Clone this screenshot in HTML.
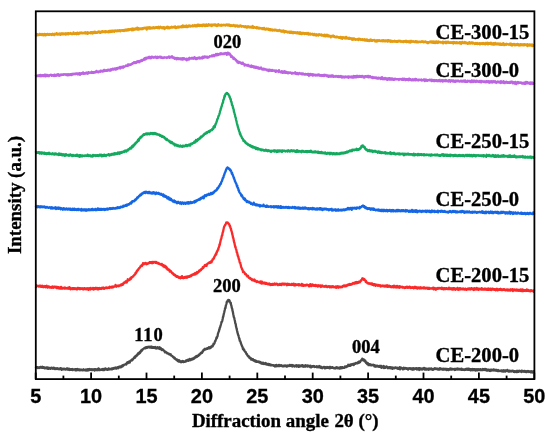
<!DOCTYPE html>
<html><head><meta charset="utf-8"><style>
html,body{margin:0;padding:0;background:#fff;}
body{width:550px;height:437px;overflow:hidden;}
svg{display:block;will-change:transform;}
text{-webkit-font-smoothing:antialiased;}
</style></head><body>
<svg width="550" height="437" viewBox="0 0 550 437">
<rect x="0" y="0" width="550" height="437" fill="#fff"/>
<g fill="none" stroke-width="2.3" stroke-linejoin="round" stroke-linecap="round">
<path d="M36.00,367.51 36.25,367.64 36.50,367.41 36.75,367.18 37.00,367.36 37.25,367.15 37.50,367.59 37.75,368.11 38.00,367.38 38.25,367.34 38.50,367.80 38.75,367.76 39.00,367.67 39.25,367.26 39.50,367.63 39.75,367.94 40.00,367.13 40.25,367.50 40.50,366.93 40.75,367.19 41.00,366.98 41.25,367.63 41.50,367.23 41.75,367.86 42.00,367.82 42.25,367.70 42.50,366.78 42.75,367.58 43.00,367.79 43.25,367.86 43.50,367.22 43.75,367.65 44.00,367.46 44.25,367.54 44.50,368.30 44.75,367.57 45.00,367.89 45.25,368.27 45.50,367.70 45.75,367.90 46.00,368.00 46.25,367.99 46.50,367.49 46.75,368.02 47.00,368.55 47.25,367.40 47.50,368.38 47.75,368.09 48.00,367.80 48.25,368.87 48.50,368.39 48.75,367.62 49.00,368.14 49.25,368.36 49.50,368.06 49.75,368.43 50.00,368.14 50.25,368.45 50.50,368.77 50.75,367.94 51.00,368.30 51.25,368.05 51.50,368.30 51.75,367.79 52.00,368.05 52.25,368.21 52.50,368.67 52.75,368.78 53.00,367.81 53.25,368.03 53.50,368.63 53.75,367.59 54.00,368.21 54.25,368.38 54.50,368.93 54.75,368.72 55.00,368.33 55.25,368.34 55.50,368.40 55.75,369.13 56.00,368.36 56.25,368.43 56.50,368.71 56.75,368.54 57.00,368.53 57.25,368.18 57.50,368.64 57.75,368.49 58.00,369.15 58.25,368.96 58.50,368.71 58.75,369.01 59.00,368.62 59.25,369.20 59.50,368.80 59.75,369.05 60.00,368.32 60.25,369.00 60.50,368.20 60.75,368.08 61.00,368.79 61.25,368.57 61.50,369.02 61.75,369.87 62.00,368.66 62.25,368.76 62.50,369.11 62.75,369.24 63.00,368.99 63.25,369.00 63.50,369.38 63.75,369.32 64.00,368.72 64.25,369.12 64.50,369.18 64.75,368.76 65.00,369.30 65.25,368.87 65.50,369.62 65.75,369.32 66.00,369.30 66.25,369.04 66.50,369.24 66.75,368.50 67.00,368.86 67.25,369.48 67.50,368.49 67.75,369.69 68.00,368.67 68.25,369.68 68.50,369.05 68.75,369.71 69.00,369.46 69.25,368.81 69.50,369.93 69.75,370.02 70.00,369.43 70.25,369.36 70.50,369.41 70.75,369.10 71.00,369.94 71.25,369.29 71.50,369.50 71.75,369.21 72.00,369.29 72.25,369.04 72.50,370.06 72.75,369.51 73.00,369.97 73.25,369.60 73.50,369.33 73.75,369.48 74.00,369.40 74.25,369.64 74.50,369.49 74.75,369.53 75.00,369.11 75.25,369.35 75.50,370.35 75.75,369.43 76.00,369.28 76.25,369.85 76.50,370.28 76.75,369.15 77.00,369.66 77.25,369.49 77.50,369.05 77.75,370.06 78.00,369.76 78.25,369.81 78.50,369.49 78.75,369.98 79.00,369.59 79.25,369.75 79.50,369.37 79.75,369.34 80.00,370.36 80.25,369.63 80.50,369.96 80.75,369.83 81.00,369.68 81.25,369.66 81.50,370.12 81.75,369.75 82.00,369.81 82.25,369.88 82.50,370.35 82.75,370.16 83.00,370.04 83.25,369.66 83.50,369.34 83.75,370.27 84.00,370.28 84.25,369.84 84.50,370.11 84.75,370.21 85.00,370.23 85.25,370.27 85.50,369.72 85.75,370.50 86.00,369.40 86.25,370.24 86.50,370.09 86.75,370.25 87.00,370.65 87.25,370.49 87.50,369.43 87.75,369.21 88.00,370.21 88.25,369.48 88.50,369.88 88.75,370.22 89.00,369.22 89.25,369.03 89.50,369.98 89.75,369.89 90.00,369.77 90.25,369.88 90.50,369.52 90.75,369.25 91.00,369.79 91.25,369.46 91.50,369.19 91.75,370.04 92.00,369.81 92.25,370.00 92.50,369.43 92.75,369.56 93.00,369.42 93.25,369.46 93.50,369.89 93.75,369.49 94.00,369.94 94.25,369.93 94.50,370.60 94.75,369.23 95.00,370.13 95.25,369.74 95.50,369.76 95.75,369.18 96.00,369.57 96.25,370.05 96.50,369.71 96.75,369.77 97.00,369.61 97.25,370.19 97.50,369.71 97.75,368.83 98.00,369.43 98.25,368.91 98.50,368.39 98.75,369.47 99.00,370.21 99.25,369.69 99.50,369.19 99.75,369.28 100.00,370.10 100.25,369.70 100.50,369.65 100.75,369.60 101.00,369.63 101.25,369.93 101.50,369.82 101.75,369.68 102.00,369.16 102.25,369.77 102.50,369.29 102.75,369.99 103.00,369.03 103.25,369.47 103.50,369.51 103.75,368.97 104.00,370.17 104.25,370.05 104.50,369.26 104.75,369.74 105.00,369.57 105.25,368.35 105.50,369.48 105.75,369.33 106.00,369.37 106.25,368.88 106.50,369.19 106.75,369.20 107.00,369.72 107.25,369.36 107.50,369.20 107.75,369.79 108.00,368.93 108.25,368.97 108.50,368.37 108.75,369.70 109.00,369.43 109.25,369.38 109.50,369.26 109.75,369.00 110.00,369.02 110.25,368.80 110.50,368.79 110.75,368.86 111.00,369.41 111.25,369.00 111.50,368.72 111.75,368.48 112.00,368.42 112.25,369.28 112.50,368.81 112.75,368.60 113.00,368.40 113.25,368.06 113.50,368.44 113.75,368.78 114.00,368.23 114.25,368.26 114.50,368.22 114.75,368.31 115.00,367.59 115.25,368.09 115.50,367.79 115.75,368.44 116.00,367.72 116.25,368.21 116.50,368.53 116.75,367.73 117.00,367.55 117.25,367.81 117.50,367.66 117.75,367.20 118.00,367.71 118.25,368.26 118.50,367.27 118.75,367.22 119.00,366.80 119.25,367.27 119.50,366.56 119.75,366.53 120.00,367.40 120.25,366.43 120.50,367.13 120.75,367.21 121.00,366.60 121.25,366.62 121.50,367.06 121.75,366.09 122.00,365.81 122.25,365.39 122.50,365.82 122.75,366.27 123.00,365.93 123.25,365.04 123.50,364.94 123.75,364.94 124.00,365.13 124.25,364.79 124.50,364.82 124.75,364.71 125.00,364.34 125.25,364.30 125.50,364.26 125.75,364.01 126.00,364.10 126.25,364.51 126.50,363.86 126.75,363.51 127.00,362.67 127.25,363.36 127.50,362.29 127.75,362.36 128.00,363.12 128.25,362.92 128.50,362.43 128.75,361.65 129.00,362.03 129.25,361.75 129.50,362.12 129.75,362.60 130.00,361.62 130.25,361.04 130.50,360.71 130.75,360.97 131.00,360.73 131.25,360.15 131.50,360.45 131.75,359.74 132.00,360.43 132.25,360.19 132.50,359.98 132.75,359.13 133.00,359.30 133.25,358.81 133.50,358.47 133.75,358.25 134.00,357.63 134.25,357.33 134.50,357.99 134.75,357.35 135.00,357.28 135.25,357.35 135.50,356.00 135.75,356.13 136.00,356.27 136.25,356.10 136.50,355.53 136.75,355.83 137.00,355.24 137.25,354.41 137.50,354.26 137.75,354.70 138.00,354.30 138.25,353.10 138.50,354.14 138.75,353.58 139.00,353.63 139.25,352.69 139.50,352.48 139.75,351.90 140.00,353.12 140.25,351.79 140.50,352.25 140.75,351.11 141.00,351.18 141.25,350.20 141.50,350.47 141.75,350.78 142.00,349.65 142.25,350.36 142.50,349.85 142.75,349.09 143.00,349.11 143.25,348.94 143.50,348.93 143.75,348.58 144.00,348.32 144.25,348.39 144.50,347.97 144.75,347.75 145.00,348.13 145.25,348.39 145.50,347.32 145.75,347.83 146.00,347.47 146.25,347.25 146.50,347.89 146.75,347.26 147.00,348.00 147.25,347.02 147.50,347.43 147.75,347.14 148.00,346.89 148.25,347.40 148.50,347.08 148.75,347.38 149.00,347.11 149.25,346.71 149.50,347.11 149.75,347.19 150.00,347.58 150.25,346.86 150.50,347.24 150.75,346.59 151.00,347.58 151.25,346.92 151.50,346.66 151.75,347.40 152.00,347.90 152.25,346.87 152.50,347.08 152.75,347.24 153.00,347.11 153.25,347.74 153.50,347.28 153.75,347.33 154.00,347.86 154.25,347.34 154.50,347.83 154.75,347.27 155.00,347.19 155.25,346.95 155.50,348.43 155.75,347.57 156.00,347.81 156.25,347.71 156.50,347.79 156.75,347.76 157.00,348.52 157.25,347.36 157.50,347.17 157.75,347.42 158.00,347.33 158.25,348.21 158.50,348.29 158.75,347.65 159.00,347.55 159.25,348.05 159.50,348.85 159.75,347.27 160.00,348.72 160.25,348.20 160.50,349.18 160.75,348.46 161.00,348.91 161.25,348.56 161.50,348.91 161.75,349.99 162.00,349.91 162.25,349.57 162.50,349.53 162.75,349.27 163.00,350.02 163.25,350.33 163.50,350.48 163.75,350.65 164.00,350.42 164.25,351.02 164.50,351.22 164.75,351.94 165.00,352.36 165.25,351.75 165.50,351.68 165.75,352.15 166.00,352.11 166.25,352.24 166.50,352.69 166.75,352.46 167.00,353.28 167.25,353.16 167.50,353.45 167.75,353.43 168.00,353.36 168.25,353.42 168.50,353.84 168.75,353.86 169.00,354.31 169.25,354.35 169.50,353.95 169.75,354.66 170.00,354.24 170.25,354.68 170.50,354.96 170.75,354.40 171.00,355.43 171.25,355.62 171.50,355.67 171.75,355.74 172.00,355.95 172.25,355.90 172.50,356.39 172.75,356.48 173.00,356.95 173.25,356.65 173.50,357.45 173.75,357.63 174.00,357.74 174.25,357.83 174.50,358.45 174.75,357.77 175.00,358.82 175.25,358.93 175.50,359.14 175.75,359.36 176.00,359.12 176.25,359.46 176.50,359.99 176.75,360.08 177.00,360.16 177.25,359.63 177.50,360.62 177.75,361.03 178.00,361.11 178.25,360.94 178.50,360.36 178.75,361.47 179.00,361.14 179.25,360.27 179.50,361.51 179.75,360.81 180.00,360.93 180.25,361.23 180.50,362.02 180.75,361.38 181.00,361.65 181.25,362.25 181.50,362.19 181.75,361.52 182.00,361.47 182.25,361.07 182.50,361.30 182.75,361.76 183.00,361.75 183.25,361.63 183.50,361.99 183.75,361.27 184.00,361.55 184.25,361.85 184.50,361.76 184.75,361.92 185.00,361.61 185.25,361.27 185.50,361.48 185.75,360.86 186.00,360.53 186.25,361.34 186.50,361.00 186.75,361.06 187.00,360.17 187.25,360.62 187.50,360.44 187.75,360.24 188.00,359.60 188.25,360.28 188.50,360.69 188.75,360.40 189.00,359.92 189.25,360.07 189.50,360.29 189.75,358.79 190.00,359.75 190.25,359.92 190.50,359.88 190.75,360.19 191.00,359.86 191.25,359.43 191.50,359.33 191.75,359.41 192.00,358.78 192.25,358.87 192.50,359.14 192.75,359.44 193.00,358.48 193.25,358.41 193.50,358.39 193.75,358.73 194.00,358.06 194.25,358.53 194.50,357.43 194.75,357.61 195.00,357.47 195.25,357.73 195.50,357.69 195.75,356.53 196.00,356.62 196.25,356.98 196.50,356.43 196.75,355.93 197.00,356.80 197.25,356.42 197.50,356.25 197.75,355.70 198.00,356.13 198.25,355.44 198.50,355.80 198.75,354.81 199.00,354.64 199.25,354.87 199.50,354.30 199.75,354.64 200.00,354.25 200.25,353.54 200.50,353.69 200.75,353.25 201.00,353.48 201.25,352.58 201.50,352.36 201.75,352.72 202.00,352.84 202.25,352.44 202.50,351.38 202.75,351.16 203.00,351.43 203.25,350.52 203.50,349.95 203.75,350.18 204.00,350.13 204.25,349.45 204.50,348.98 204.75,348.93 205.00,349.65 205.25,348.97 205.50,349.11 205.75,349.16 206.00,349.22 206.25,348.75 206.50,349.00 206.75,348.35 207.00,348.47 207.25,348.11 207.50,348.88 207.75,348.32 208.00,347.93 208.25,347.98 208.50,347.93 208.75,348.18 209.00,347.15 209.25,347.26 209.50,347.40 209.75,348.45 210.00,347.69 210.25,347.13 210.50,347.33 210.75,347.73 211.00,346.66 211.25,346.46 211.50,346.93 211.75,346.47 212.00,346.36 212.25,345.70 212.50,346.46 212.75,346.14 213.00,345.41 213.25,345.17 213.50,343.75 213.75,344.44 214.00,343.70 214.25,343.50 214.50,343.12 214.75,342.20 215.00,341.14 215.25,341.42 215.50,340.41 215.75,340.00 216.00,339.31 216.25,338.80 216.50,337.39 216.75,338.16 217.00,337.11 217.25,336.77 217.50,336.40 217.75,334.89 218.00,333.40 218.25,332.99 218.50,332.08 218.75,331.55 219.00,330.97 219.25,329.32 219.50,329.43 219.75,327.86 220.00,327.75 220.25,326.75 220.50,325.83 220.75,325.09 221.00,324.07 221.25,323.21 221.50,321.94 221.75,321.76 222.00,321.65 222.25,320.82 222.50,319.65 222.75,318.47 223.00,316.96 223.25,316.82 223.50,315.22 223.75,314.19 224.00,313.07 224.25,312.19 224.50,310.94 224.75,310.05 225.00,308.62 225.25,307.87 225.50,307.92 225.75,305.98 226.00,304.95 226.25,304.34 226.50,303.56 226.75,302.05 227.00,301.73 227.25,301.60 227.50,300.88 227.75,300.50 228.00,300.90 228.25,299.97 228.50,300.36 228.75,300.27 229.00,301.27 229.25,300.10 229.50,300.81 229.75,301.09 230.00,301.87 230.25,302.26 230.50,303.16 230.75,302.73 231.00,304.58 231.25,305.19 231.50,306.15 231.75,307.76 232.00,308.31 232.25,308.96 232.50,310.74 232.75,311.37 233.00,312.77 233.25,314.24 233.50,315.29 233.75,316.88 234.00,317.27 234.25,317.85 234.50,319.29 234.75,320.36 235.00,321.37 235.25,323.14 235.50,323.79 235.75,324.32 236.00,326.44 236.25,327.15 236.50,328.36 236.75,329.28 237.00,330.50 237.25,331.27 237.50,332.74 237.75,333.39 238.00,334.33 238.25,335.26 238.50,335.40 238.75,336.79 239.00,337.59 239.25,338.60 239.50,338.77 239.75,340.74 240.00,340.89 240.25,341.11 240.50,341.63 240.75,342.90 241.00,343.66 241.25,344.06 241.50,345.01 241.75,345.31 242.00,346.35 242.25,346.39 242.50,347.18 242.75,348.08 243.00,349.20 243.25,348.24 243.50,348.91 243.75,349.20 244.00,350.29 244.25,349.95 244.50,350.65 244.75,351.26 245.00,351.30 245.25,351.73 245.50,352.34 245.75,352.09 246.00,352.75 246.25,353.54 246.50,354.13 246.75,354.34 247.00,354.04 247.25,354.87 247.50,355.67 247.75,355.85 248.00,355.87 248.25,355.80 248.50,356.66 248.75,356.42 249.00,356.41 249.25,356.79 249.50,357.91 249.75,357.64 250.00,358.22 250.25,357.77 250.50,358.53 250.75,358.11 251.00,358.47 251.25,359.70 251.50,359.19 251.75,358.84 252.00,359.17 252.25,359.49 252.50,359.99 252.75,359.45 253.00,359.08 253.25,359.79 253.50,360.04 253.75,360.19 254.00,360.79 254.25,360.51 254.50,360.81 254.75,360.15 255.00,361.04 255.25,361.64 255.50,361.20 255.75,361.09 256.00,361.14 256.25,361.89 256.50,360.89 256.75,361.30 257.00,361.61 257.25,361.81 257.50,361.42 257.75,361.80 258.00,361.64 258.25,361.88 258.50,361.85 258.75,361.53 259.00,362.05 259.25,362.48 259.50,361.82 259.75,362.18 260.00,362.62 260.25,362.00 260.50,362.57 260.75,362.15 261.00,363.10 261.25,363.64 261.50,363.59 261.75,362.77 262.00,363.22 262.25,363.04 262.50,363.10 262.75,363.75 263.00,362.66 263.25,363.68 263.50,363.30 263.75,363.95 264.00,363.52 264.25,363.24 264.50,363.68 264.75,363.93 265.00,363.71 265.25,363.95 265.50,363.60 265.75,363.02 266.00,364.29 266.25,364.26 266.50,364.10 266.75,364.12 267.00,364.56 267.25,364.02 267.50,363.97 267.75,364.24 268.00,364.84 268.25,363.87 268.50,364.95 268.75,364.27 269.00,364.15 269.25,365.15 269.50,364.66 269.75,364.23 270.00,364.67 270.25,365.24 270.50,365.40 270.75,364.80 271.00,365.19 271.25,365.36 271.50,364.87 271.75,365.32 272.00,365.21 272.25,365.06 272.50,365.12 272.75,365.38 273.00,365.40 273.25,365.20 273.50,365.29 273.75,365.93 274.00,365.60 274.25,365.89 274.50,366.04 274.75,365.81 275.00,366.50 275.25,365.27 275.50,365.94 275.75,365.50 276.00,366.38 276.25,366.32 276.50,364.87 276.75,365.27 277.00,365.93 277.25,365.99 277.50,365.98 277.75,365.66 278.00,365.88 278.25,365.96 278.50,365.68 278.75,366.12 279.00,364.81 279.25,365.98 279.50,365.31 279.75,366.12 280.00,365.65 280.25,365.39 280.50,365.90 280.75,365.39 281.00,365.39 281.25,365.13 281.50,365.75 281.75,365.96 282.00,366.18 282.25,365.72 282.50,366.20 282.75,365.79 283.00,365.75 283.25,366.02 283.50,366.21 283.75,365.65 284.00,365.70 284.25,365.73 284.50,365.83 284.75,365.44 285.00,366.22 285.25,365.65 285.50,365.99 285.75,365.48 286.00,365.96 286.25,365.97 286.50,365.65 286.75,366.63 287.00,365.97 287.25,366.53 287.50,366.21 287.75,365.56 288.00,365.68 288.25,366.00 288.50,365.86 288.75,365.85 289.00,365.72 289.25,365.11 289.50,365.75 289.75,364.95 290.00,365.99 290.25,365.55 290.50,365.56 290.75,365.76 291.00,365.95 291.25,365.27 291.50,365.15 291.75,365.42 292.00,365.03 292.25,365.46 292.50,366.49 292.75,365.43 293.00,366.11 293.25,365.31 293.50,365.98 293.75,365.73 294.00,365.84 294.25,366.09 294.50,366.56 294.75,365.94 295.00,365.91 295.25,365.48 295.50,366.10 295.75,365.77 296.00,366.20 296.25,365.86 296.50,366.57 296.75,365.08 297.00,365.76 297.25,366.23 297.50,365.74 297.75,365.57 298.00,365.78 298.25,365.34 298.50,365.94 298.75,366.87 299.00,366.36 299.25,365.46 299.50,365.56 299.75,365.75 300.00,366.32 300.25,365.59 300.50,365.65 300.75,366.28 301.00,366.28 301.25,365.79 301.50,365.50 301.75,365.33 302.00,365.68 302.25,365.07 302.50,366.27 302.75,365.73 303.00,366.18 303.25,366.75 303.50,366.48 303.75,365.56 304.00,366.37 304.25,366.50 304.50,365.75 304.75,365.67 305.00,366.02 305.25,365.43 305.50,366.67 305.75,365.13 306.00,365.66 306.25,366.01 306.50,366.04 306.75,366.21 307.00,366.26 307.25,366.08 307.50,366.63 307.75,365.33 308.00,366.20 308.25,365.93 308.50,366.28 308.75,366.33 309.00,365.89 309.25,366.01 309.50,366.59 309.75,366.43 310.00,366.03 310.25,367.13 310.50,367.25 310.75,365.76 311.00,366.48 311.25,367.37 311.50,366.70 311.75,366.49 312.00,366.33 312.25,366.21 312.50,366.35 312.75,366.23 313.00,366.77 313.25,366.32 313.50,366.32 313.75,366.03 314.00,366.51 314.25,366.18 314.50,366.48 314.75,366.99 315.00,366.74 315.25,366.81 315.50,366.77 315.75,366.67 316.00,366.62 316.25,366.56 316.50,367.01 316.75,366.30 317.00,367.29 317.25,366.79 317.50,366.50 317.75,366.62 318.00,366.57 318.25,366.93 318.50,366.60 318.75,367.37 319.00,366.62 319.25,366.05 319.50,366.69 319.75,366.21 320.00,367.02 320.25,367.48 320.50,367.34 320.75,366.57 321.00,366.83 321.25,367.87 321.50,367.31 321.75,367.21 322.00,367.65 322.25,368.24 322.50,367.80 322.75,367.36 323.00,367.47 323.25,367.60 323.50,367.13 323.75,366.97 324.00,367.44 324.25,367.06 324.50,367.43 324.75,367.52 325.00,368.43 325.25,367.18 325.50,367.49 325.75,367.49 326.00,367.75 326.25,368.01 326.50,367.41 326.75,367.29 327.00,366.98 327.25,367.28 327.50,367.88 327.75,367.70 328.00,367.28 328.25,367.55 328.50,367.72 328.75,367.92 329.00,367.50 329.25,367.64 329.50,367.03 329.75,367.30 330.00,368.42 330.25,366.91 330.50,367.66 330.75,367.89 331.00,367.67 331.25,367.50 331.50,367.81 331.75,367.84 332.00,367.82 332.25,367.11 332.50,367.82 332.75,367.54 333.00,367.67 333.25,367.99 333.50,368.17 333.75,368.28 334.00,367.73 334.25,368.30 334.50,368.41 334.75,368.40 335.00,368.51 335.25,367.90 335.50,367.89 335.75,368.30 336.00,367.43 336.25,368.06 336.50,367.77 336.75,367.84 337.00,367.29 337.25,367.64 337.50,367.99 337.75,368.35 338.00,368.39 338.25,367.96 338.50,367.91 338.75,367.65 339.00,368.14 339.25,367.87 339.50,368.20 339.75,368.64 340.00,367.91 340.25,367.30 340.50,367.53 340.75,367.26 341.00,367.34 341.25,368.31 341.50,367.84 341.75,367.10 342.00,367.94 342.25,368.14 342.50,367.45 342.75,367.28 343.00,367.37 343.25,367.57 343.50,367.66 343.75,367.83 344.00,367.79 344.25,367.73 344.50,367.74 344.75,367.40 345.00,366.46 345.25,366.95 345.50,367.05 345.75,366.68 346.00,367.11 346.25,366.50 346.50,366.16 346.75,367.00 347.00,366.58 347.25,366.28 347.50,366.45 347.75,366.39 348.00,366.00 348.25,364.78 348.50,365.39 348.75,365.39 349.00,365.09 349.25,365.48 349.50,365.80 349.75,365.05 350.00,364.72 350.25,365.91 350.50,364.85 350.75,364.47 351.00,364.98 351.25,364.99 351.50,364.46 351.75,364.98 352.00,364.39 352.25,364.13 352.50,364.49 352.75,364.63 353.00,363.98 353.25,364.27 353.50,364.00 353.75,365.07 354.00,363.56 354.25,364.30 354.50,363.62 354.75,363.49 355.00,363.73 355.25,363.71 355.50,363.77 355.75,363.30 356.00,362.85 356.25,362.79 356.50,363.14 356.75,363.09 357.00,363.35 357.25,362.89 357.50,363.08 357.75,363.19 358.00,362.58 358.25,361.84 358.50,361.88 358.75,361.68 359.00,362.78 359.25,361.68 359.50,362.36 359.75,361.92 360.00,362.16 360.25,361.63 360.50,360.93 360.75,360.61 361.00,360.45 361.25,360.21 361.50,359.69 361.75,359.68 362.00,360.18 362.25,358.75 362.50,359.50 362.75,359.06 363.00,359.58 363.25,359.98 363.50,359.81 363.75,360.35 364.00,359.65 364.25,360.98 364.50,360.55 364.75,361.30 365.00,361.39 365.25,360.54 365.50,361.53 365.75,362.18 366.00,362.96 366.25,362.68 366.50,362.89 366.75,362.43 367.00,363.75 367.25,364.08 367.50,363.53 367.75,363.58 368.00,363.17 368.25,364.31 368.50,365.16 368.75,364.49 369.00,364.83 369.25,364.65 369.50,364.14 369.75,365.16 370.00,364.22 370.25,364.72 370.50,364.99 370.75,365.30 371.00,365.17 371.25,365.22 371.50,364.82 371.75,364.66 372.00,365.25 372.25,364.98 372.50,364.79 372.75,364.85 373.00,365.21 373.25,364.71 373.50,364.95 373.75,364.89 374.00,365.66 374.25,365.81 374.50,366.50 374.75,365.15 375.00,365.54 375.25,366.23 375.50,365.84 375.75,365.86 376.00,366.73 376.25,365.97 376.50,365.70 376.75,365.69 377.00,366.40 377.25,366.43 377.50,365.81 377.75,366.00 378.00,366.65 378.25,366.70 378.50,366.25 378.75,366.79 379.00,366.80 379.25,365.89 379.50,366.51 379.75,366.83 380.00,366.46 380.25,365.86 380.50,366.63 380.75,367.07 381.00,367.43 381.25,365.94 381.50,367.89 381.75,366.42 382.00,367.27 382.25,367.41 382.50,367.33 382.75,367.02 383.00,366.52 383.25,367.26 383.50,366.74 383.75,366.04 384.00,368.20 384.25,367.38 384.50,367.85 384.75,366.78 385.00,367.75 385.25,367.82 385.50,367.83 385.75,367.22 386.00,366.78 386.25,367.21 386.50,366.42 386.75,366.65 387.00,367.39 387.25,366.98 387.50,367.33 387.75,367.37 388.00,368.21 388.25,367.98 388.50,367.47 388.75,367.99 389.00,367.22 389.25,367.42 389.50,367.94 389.75,367.10 390.00,367.51 390.25,367.12 390.50,367.71 390.75,368.34 391.00,367.41 391.25,367.82 391.50,367.40 391.75,367.32 392.00,367.30 392.25,368.40 392.50,368.78 392.75,368.05 393.00,367.59 393.25,368.18 393.50,367.78 393.75,368.26 394.00,368.07 394.25,368.09 394.50,368.24 394.75,367.78 395.00,367.87 395.25,367.36 395.50,367.89 395.75,367.51 396.00,368.04 396.25,367.73 396.50,368.17 396.75,368.32 397.00,367.59 397.25,367.85 397.50,367.81 397.75,368.50 398.00,368.89 398.25,368.56 398.50,368.10 398.75,368.83 399.00,367.65 399.25,368.87 399.50,368.02 399.75,367.18 400.00,369.36 400.25,368.94 400.50,367.90 400.75,368.39 401.00,368.25 401.25,368.38 401.50,367.76 401.75,368.09 402.00,368.55 402.25,368.46 402.50,368.86 402.75,368.42 403.00,369.34 403.25,368.12 403.50,368.52 403.75,367.66 404.00,367.93 404.25,368.97 404.50,368.07 404.75,368.67 405.00,368.44 405.25,368.05 405.50,368.34 405.75,368.28 406.00,368.30 406.25,368.80 406.50,368.77 406.75,368.28 407.00,368.16 407.25,368.64 407.50,368.49 407.75,368.95 408.00,369.61 408.25,368.89 408.50,368.55 408.75,368.50 409.00,368.23 409.25,368.22 409.50,368.19 409.75,368.44 410.00,368.43 410.25,368.90 410.50,368.45 410.75,368.54 411.00,368.14 411.25,369.29 411.50,368.84 411.75,369.36 412.00,368.97 412.25,369.25 412.50,368.56 412.75,368.96 413.00,369.76 413.25,368.19 413.50,369.16 413.75,369.37 414.00,368.87 414.25,369.01 414.50,369.22 414.75,368.45 415.00,368.89 415.25,368.37 415.50,368.45 415.75,368.48 416.00,368.68 416.25,368.81 416.50,368.94 416.75,368.18 417.00,369.57 417.25,369.24 417.50,369.07 417.75,368.63 418.00,368.75 418.25,369.01 418.50,368.96 418.75,368.11 419.00,369.11 419.25,370.00 419.50,368.06 419.75,369.23 420.00,368.97 420.25,368.78 420.50,369.40 420.75,368.35 421.00,368.91 421.25,369.45 421.50,368.77 421.75,368.68 422.00,368.91 422.25,368.68 422.50,369.51 422.75,368.50 423.00,369.24 423.25,368.37 423.50,369.16 423.75,368.85 424.00,367.83 424.25,368.90 424.50,368.47 424.75,368.73 425.00,369.55 425.25,368.46 425.50,368.49 425.75,369.52 426.00,368.98 426.25,369.57 426.50,369.07 426.75,368.58 427.00,368.92 427.25,369.46 427.50,369.34 427.75,368.96 428.00,368.98 428.25,368.92 428.50,368.73 428.75,369.77 429.00,368.98 429.25,368.52 429.50,368.79 429.75,369.29 430.00,369.26 430.25,368.94 430.50,368.73 430.75,369.01 431.00,368.32 431.25,368.48 431.50,369.34 431.75,368.82 432.00,369.18 432.25,369.53 432.50,369.30 432.75,369.04 433.00,369.91 433.25,369.32 433.50,368.90 433.75,369.35 434.00,369.22 434.25,368.70 434.50,369.09 434.75,369.00 435.00,368.26 435.25,369.00 435.50,368.96 435.75,368.90 436.00,368.41 436.25,368.94 436.50,369.07 436.75,369.13 437.00,368.63 437.25,369.36 437.50,368.60 437.75,369.01 438.00,369.65 438.25,368.83 438.50,368.91 438.75,369.56 439.00,368.97 439.25,369.01 439.50,369.22 439.75,369.57 440.00,368.23 440.25,368.80 440.50,368.73 440.75,368.70 441.00,368.80 441.25,368.81 441.50,369.28 441.75,368.80 442.00,369.22 442.25,369.34 442.50,368.88 442.75,369.23 443.00,369.85 443.25,369.32 443.50,368.93 443.75,369.17 444.00,368.82 444.25,369.31 444.50,369.56 444.75,368.87 445.00,369.12 445.25,369.67 445.50,369.01 445.75,369.30 446.00,368.81 446.25,368.89 446.50,369.02 446.75,370.11 447.00,369.08 447.25,369.03 447.50,369.02 447.75,369.19 448.00,369.52 448.25,369.33 448.50,370.09 448.75,369.35 449.00,369.85 449.25,369.38 449.50,369.52 449.75,368.70 450.00,369.24 450.25,369.26 450.50,369.20 450.75,368.44 451.00,369.65 451.25,369.15 451.50,369.13 451.75,369.21 452.00,369.23 452.25,369.48 452.50,368.82 452.75,368.96 453.00,369.45 453.25,369.39 453.50,369.19 453.75,369.11 454.00,369.01 454.25,369.33 454.50,369.82 454.75,368.93 455.00,369.97 455.25,369.70 455.50,369.18 455.75,369.68 456.00,368.79 456.25,368.68 456.50,368.86 456.75,369.22 457.00,369.25 457.25,369.18 457.50,369.43 457.75,368.54 458.00,369.59 458.25,368.83 458.50,369.14 458.75,369.24 459.00,368.95 459.25,368.86 459.50,369.01 459.75,369.41 460.00,369.66 460.25,369.65 460.50,369.03 460.75,369.11 461.00,369.06 461.25,369.61 461.50,368.62 461.75,369.94 462.00,369.25 462.25,369.13 462.50,369.58 462.75,369.86 463.00,369.59 463.25,369.88 463.50,369.51 463.75,369.95 464.00,369.96 464.25,369.43 464.50,370.05 464.75,369.54 465.00,369.51 465.25,369.11 465.50,369.37 465.75,369.80 466.00,368.96 466.25,369.75 466.50,369.63 466.75,369.61 467.00,368.62 467.25,369.46 467.50,369.76 467.75,369.20 468.00,369.55 468.25,368.56 468.50,369.79 468.75,369.26 469.00,369.87 469.25,368.79 469.50,369.81 469.75,369.44 470.00,369.86 470.25,369.17 470.50,369.30 470.75,370.44 471.00,369.22 471.25,369.27 471.50,369.45 471.75,369.15 472.00,370.04 472.25,370.26 472.50,369.29 472.75,368.88 473.00,370.05 473.25,370.02 473.50,369.91 473.75,370.05 474.00,369.25 474.25,369.53 474.50,369.05 474.75,369.04 475.00,370.00 475.25,369.34 475.50,370.53 475.75,369.65 476.00,369.37 476.25,369.95 476.50,370.35 476.75,369.83 477.00,369.16 477.25,369.79 477.50,370.20 477.75,369.46 478.00,369.35 478.25,370.07 478.50,369.73 478.75,369.23 479.00,369.53 479.25,369.38 479.50,369.81 479.75,369.74 480.00,370.16 480.25,369.99 480.50,369.09 480.75,369.88 481.00,370.08 481.25,369.91 481.50,370.15 481.75,369.52 482.00,369.37 482.25,370.13 482.50,369.34 482.75,368.91 483.00,370.19 483.25,369.50 483.50,369.67 483.75,369.25 484.00,369.28 484.25,369.36 484.50,369.69 484.75,369.99 485.00,368.93 485.25,370.16 485.50,369.39 485.75,369.45 486.00,370.16 486.25,369.87 486.50,369.29 486.75,370.65 487.00,369.58 487.25,370.04 487.50,370.03 487.75,370.52 488.00,369.79 488.25,370.38 488.50,369.70 488.75,370.45 489.00,369.71 489.25,369.88 489.50,370.80 489.75,370.18 490.00,370.10 490.25,370.97 490.50,370.23 490.75,369.77 491.00,370.40 491.25,369.65 491.50,370.58 491.75,370.63 492.00,369.93 492.25,369.92 492.50,370.25 492.75,370.20 493.00,369.82 493.25,370.45 493.50,369.41 493.75,370.07 494.00,370.09 494.25,370.16 494.50,370.40 494.75,369.80 495.00,370.54 495.25,370.25 495.50,370.07 495.75,369.80 496.00,369.88 496.25,370.51 496.50,370.00 496.75,370.42 497.00,370.83 497.25,370.83 497.50,371.06 497.75,370.33 498.00,370.02 498.25,370.88 498.50,370.61 498.75,370.95 499.00,370.51 499.25,371.00 499.50,370.87 499.75,370.83 500.00,370.76 500.25,370.73 500.50,370.67 500.75,370.68 501.00,371.00 501.25,370.41 501.50,371.32 501.75,370.60 502.00,371.05 502.25,370.63 502.50,370.57 502.75,371.50 503.00,370.57 503.25,370.20 503.50,370.43 503.75,370.60 504.00,371.60 504.25,370.83 504.50,371.13 504.75,370.37 505.00,370.92 505.25,371.06 505.50,371.52 505.75,370.53 506.00,371.06 506.25,370.95 506.50,370.43 506.75,370.84 507.00,370.75 507.25,369.94 507.50,371.12 507.75,371.10 508.00,370.72 508.25,370.37 508.50,371.51 508.75,371.03 509.00,371.34 509.25,371.51 509.50,370.74 509.75,371.29 510.00,370.88 510.25,370.96 510.50,370.96 510.75,371.00 511.00,371.46 511.25,371.07 511.50,370.97 511.75,370.93 512.00,371.18 512.25,370.70 512.50,370.86 512.75,371.05 513.00,370.86 513.25,371.05 513.50,370.86 513.75,371.91 514.00,371.65 514.25,371.31 514.50,371.12 514.75,372.02 515.00,371.29 515.25,371.13 515.50,371.30 515.75,371.31 516.00,371.76 516.25,371.20 516.50,372.05 516.75,370.87 517.00,371.51 517.25,370.84 517.50,371.98 517.75,371.12 518.00,371.24 518.25,371.64 518.50,371.79 518.75,370.85 519.00,371.16 519.25,370.75 519.50,371.37 519.75,371.29 520.00,371.20 520.25,371.07 520.50,371.20 520.75,371.06 521.00,371.58 521.25,371.99 521.50,370.62 521.75,371.35 522.00,371.24 522.25,371.61 522.50,371.04 522.75,371.37 523.00,371.03 523.25,371.73 523.50,371.50 523.75,371.40 524.00,371.62 524.25,371.39 524.50,370.87 524.75,371.74 525.00,371.62 525.25,371.46 525.50,371.92 525.75,372.02 526.00,371.11 526.25,371.24 526.50,372.18 526.75,372.14 527.00,371.28 527.25,371.11 527.50,371.34 527.75,371.40 528.00,370.98 528.25,371.63 528.50,371.11 528.75,371.15 529.00,372.01 529.25,371.38 529.50,371.63 529.75,371.92 530.00,372.00 530.25,371.55 530.50,371.71 530.75,371.37 531.00,372.40 531.25,371.97 531.50,371.28 531.75,371.73 532.00,372.02 532.25,371.94 532.50,372.48 532.75,372.31 533.00,371.55 533.25,371.74 533.50,371.27 533.75,371.89 534.00,371.85" stroke="#4a4a4a"/>
<path d="M36.00,287.20 36.25,286.16 36.50,285.30 36.75,285.88 37.00,286.20 37.25,285.67 37.50,285.84 37.75,286.05 38.00,286.35 38.25,286.16 38.50,285.88 38.75,286.57 39.00,286.05 39.25,286.08 39.50,285.74 39.75,286.00 40.00,286.59 40.25,285.69 40.50,286.33 40.75,286.66 41.00,286.23 41.25,286.49 41.50,285.97 41.75,286.95 42.00,286.88 42.25,286.55 42.50,285.77 42.75,286.07 43.00,286.89 43.25,287.20 43.50,286.65 43.75,287.05 44.00,286.32 44.25,286.50 44.50,286.59 44.75,286.78 45.00,286.01 45.25,287.02 45.50,287.18 45.75,286.21 46.00,286.14 46.25,286.84 46.50,286.46 46.75,285.79 47.00,287.07 47.25,286.83 47.50,286.59 47.75,287.64 48.00,286.87 48.25,286.53 48.50,286.89 48.75,286.44 49.00,286.57 49.25,287.05 49.50,286.69 49.75,286.75 50.00,287.61 50.25,287.30 50.50,287.30 50.75,287.20 51.00,287.20 51.25,287.61 51.50,287.03 51.75,287.80 52.00,286.69 52.25,286.99 52.50,286.56 52.75,286.99 53.00,287.35 53.25,287.74 53.50,286.91 53.75,287.20 54.00,287.07 54.25,286.94 54.50,286.78 54.75,287.30 55.00,286.60 55.25,287.35 55.50,287.34 55.75,287.09 56.00,286.97 56.25,286.84 56.50,288.16 56.75,286.89 57.00,288.07 57.25,287.71 57.50,287.35 57.75,287.05 58.00,287.95 58.25,288.25 58.50,287.20 58.75,287.48 59.00,288.04 59.25,287.77 59.50,288.46 59.75,287.45 60.00,287.92 60.25,287.22 60.50,288.58 60.75,287.47 61.00,286.90 61.25,287.75 61.50,287.77 61.75,288.61 62.00,287.73 62.25,287.88 62.50,288.14 62.75,288.56 63.00,287.92 63.25,288.38 63.50,288.19 63.75,287.88 64.00,288.05 64.25,288.05 64.50,287.69 64.75,288.56 65.00,287.53 65.25,288.57 65.50,288.50 65.75,288.10 66.00,287.85 66.25,288.08 66.50,288.37 66.75,288.50 67.00,288.33 67.25,288.62 67.50,288.02 67.75,288.35 68.00,287.64 68.25,288.58 68.50,288.35 68.75,288.14 69.00,288.78 69.25,288.60 69.50,287.21 69.75,288.36 70.00,287.77 70.25,288.79 70.50,289.37 70.75,288.18 71.00,288.43 71.25,288.31 71.50,288.56 71.75,288.69 72.00,288.96 72.25,288.06 72.50,289.09 72.75,288.10 73.00,288.60 73.25,288.96 73.50,288.79 73.75,288.14 74.00,288.25 74.25,288.35 74.50,288.53 74.75,289.02 75.00,288.05 75.25,288.76 75.50,288.83 75.75,288.82 76.00,288.79 76.25,289.22 76.50,288.82 76.75,288.98 77.00,288.87 77.25,289.37 77.50,287.90 77.75,289.18 78.00,288.57 78.25,288.57 78.50,288.30 78.75,287.95 79.00,288.55 79.25,288.44 79.50,288.92 79.75,288.14 80.00,289.30 80.25,288.85 80.50,288.64 80.75,288.46 81.00,288.44 81.25,288.31 81.50,288.55 81.75,288.77 82.00,288.70 82.25,288.21 82.50,288.67 82.75,288.43 83.00,288.85 83.25,289.53 83.50,289.04 83.75,288.67 84.00,288.15 84.25,288.23 84.50,288.12 84.75,289.09 85.00,288.49 85.25,288.82 85.50,288.55 85.75,288.83 86.00,289.36 86.25,288.52 86.50,288.66 86.75,288.47 87.00,289.14 87.25,288.38 87.50,288.33 87.75,288.23 88.00,288.22 88.25,288.96 88.50,289.80 88.75,288.37 89.00,289.14 89.25,288.86 89.50,288.31 89.75,288.64 90.00,288.65 90.25,288.46 90.50,289.50 90.75,287.96 91.00,288.87 91.25,288.85 91.50,288.48 91.75,288.76 92.00,289.04 92.25,288.75 92.50,288.85 92.75,288.95 93.00,287.85 93.25,289.25 93.50,289.56 93.75,289.03 94.00,289.03 94.25,288.06 94.50,288.56 94.75,288.28 95.00,288.36 95.25,288.97 95.50,288.25 95.75,288.51 96.00,287.79 96.25,288.48 96.50,288.57 96.75,288.24 97.00,288.22 97.25,289.26 97.50,288.01 97.75,288.06 98.00,288.14 98.25,288.94 98.50,289.29 98.75,288.57 99.00,288.13 99.25,288.24 99.50,288.82 99.75,288.02 100.00,288.96 100.25,288.93 100.50,288.38 100.75,288.60 101.00,288.62 101.25,288.93 101.50,287.88 101.75,288.76 102.00,288.12 102.25,287.95 102.50,288.28 102.75,288.13 103.00,287.81 103.25,287.54 103.50,287.79 103.75,288.72 104.00,288.90 104.25,288.36 104.50,288.55 104.75,287.84 105.00,287.99 105.25,288.11 105.50,287.54 105.75,287.55 106.00,287.95 106.25,287.76 106.50,287.43 106.75,287.98 107.00,287.69 107.25,288.17 107.50,287.73 107.75,287.57 108.00,287.71 108.25,287.56 108.50,287.32 108.75,287.39 109.00,287.82 109.25,287.74 109.50,287.96 109.75,286.73 110.00,287.21 110.25,287.16 110.50,287.36 110.75,287.07 111.00,287.00 111.25,287.48 111.50,287.20 111.75,286.62 112.00,287.58 112.25,287.40 112.50,286.73 112.75,287.25 113.00,286.58 113.25,287.28 113.50,286.70 113.75,286.43 114.00,286.55 114.25,286.35 114.50,286.69 114.75,286.64 115.00,286.54 115.25,286.26 115.50,284.97 115.75,286.42 116.00,285.58 116.25,286.38 116.50,286.68 116.75,286.29 117.00,285.97 117.25,285.99 117.50,285.95 117.75,285.72 118.00,285.65 118.25,285.45 118.50,286.22 118.75,285.67 119.00,285.99 119.25,285.43 119.50,285.48 119.75,285.30 120.00,285.46 120.25,285.52 120.50,285.18 120.75,284.71 121.00,284.56 121.25,285.41 121.50,284.51 121.75,284.38 122.00,284.94 122.25,284.65 122.50,284.28 122.75,283.76 123.00,284.71 123.25,283.77 123.50,283.67 123.75,283.22 124.00,282.56 124.25,282.43 124.50,282.96 124.75,282.78 125.00,282.37 125.25,281.83 125.50,281.55 125.75,281.83 126.00,281.22 126.25,282.00 126.50,281.93 126.75,282.44 127.00,281.49 127.25,280.74 127.50,280.46 127.75,279.26 128.00,280.23 128.25,280.22 128.50,280.50 128.75,280.18 129.00,279.99 129.25,279.65 129.50,279.64 129.75,279.76 130.00,278.56 130.25,278.61 130.50,278.03 130.75,279.02 131.00,278.69 131.25,278.25 131.50,277.25 131.75,277.58 132.00,277.19 132.25,277.08 132.50,276.74 132.75,276.78 133.00,276.17 133.25,276.42 133.50,275.92 133.75,275.45 134.00,275.26 134.25,274.85 134.50,275.08 134.75,274.36 135.00,274.29 135.25,273.71 135.50,272.95 135.75,273.58 136.00,272.45 136.25,272.79 136.50,272.32 136.75,271.12 137.00,271.02 137.25,270.81 137.50,270.31 137.75,269.79 138.00,270.18 138.25,269.42 138.50,269.32 138.75,268.65 139.00,268.61 139.25,267.86 139.50,267.84 139.75,267.78 140.00,267.27 140.25,266.78 140.50,266.24 140.75,266.46 141.00,266.25 141.25,265.74 141.50,265.26 141.75,265.53 142.00,266.06 142.25,264.71 142.50,264.75 142.75,264.56 143.00,263.21 143.25,264.12 143.50,263.65 143.75,264.38 144.00,263.63 144.25,263.34 144.50,263.51 144.75,263.62 145.00,263.29 145.25,263.46 145.50,262.91 145.75,263.34 146.00,263.72 146.25,264.18 146.50,263.66 146.75,263.47 147.00,263.82 147.25,263.73 147.50,263.97 147.75,263.72 148.00,263.21 148.25,263.34 148.50,263.28 148.75,263.29 149.00,263.21 149.25,262.78 149.50,262.20 149.75,262.72 150.00,262.12 150.25,262.90 150.50,262.81 150.75,262.08 151.00,262.96 151.25,262.97 151.50,262.61 151.75,263.18 152.00,263.22 152.25,261.94 152.50,262.81 152.75,262.54 153.00,262.51 153.25,262.71 153.50,262.04 153.75,262.10 154.00,262.02 154.25,262.06 154.50,262.35 154.75,261.84 155.00,262.03 155.25,262.72 155.50,262.50 155.75,262.72 156.00,261.86 156.25,262.35 156.50,262.49 156.75,262.78 157.00,262.59 157.25,263.25 157.50,262.92 157.75,263.01 158.00,263.07 158.25,263.42 158.50,263.03 158.75,263.75 159.00,263.57 159.25,263.54 159.50,263.60 159.75,263.89 160.00,264.20 160.25,264.28 160.50,264.17 160.75,264.50 161.00,264.32 161.25,264.90 161.50,264.52 161.75,263.83 162.00,265.33 162.25,264.97 162.50,264.60 162.75,265.14 163.00,265.01 163.25,266.36 163.50,265.88 163.75,265.22 164.00,266.23 164.25,266.03 164.50,267.13 164.75,266.12 165.00,265.83 165.25,266.94 165.50,266.97 165.75,267.13 166.00,266.64 166.25,267.86 166.50,268.56 166.75,267.33 167.00,268.76 167.25,268.27 167.50,269.65 167.75,269.10 168.00,269.06 168.25,269.80 168.50,269.79 168.75,269.57 169.00,270.32 169.25,270.06 169.50,269.78 169.75,271.53 170.00,270.81 170.25,270.94 170.50,271.54 170.75,271.01 171.00,271.32 171.25,271.88 171.50,272.10 171.75,272.56 172.00,273.20 172.25,272.79 172.50,273.41 172.75,273.68 173.00,273.24 173.25,273.99 173.50,273.75 173.75,274.78 174.00,274.75 174.25,274.78 174.50,274.44 174.75,275.22 175.00,275.05 175.25,275.80 175.50,275.63 175.75,275.50 176.00,276.33 176.25,276.38 176.50,275.97 176.75,276.79 177.00,276.31 177.25,276.41 177.50,276.68 177.75,276.43 178.00,276.64 178.25,276.83 178.50,277.58 178.75,277.64 179.00,277.00 179.25,277.80 179.50,277.19 179.75,277.40 180.00,277.63 180.25,277.43 180.50,278.30 180.75,277.45 181.00,276.90 181.25,277.92 181.50,277.24 181.75,277.30 182.00,276.24 182.25,277.85 182.50,277.79 182.75,277.79 183.00,277.87 183.25,278.16 183.50,277.47 183.75,277.86 184.00,277.19 184.25,277.33 184.50,277.89 184.75,277.60 185.00,276.89 185.25,277.55 185.50,277.30 185.75,277.01 186.00,277.47 186.25,277.09 186.50,276.58 186.75,276.72 187.00,277.82 187.25,276.45 187.50,277.09 187.75,277.19 188.00,277.14 188.25,276.33 188.50,276.62 188.75,276.73 189.00,276.91 189.25,276.24 189.50,275.94 189.75,276.71 190.00,276.65 190.25,276.24 190.50,275.74 190.75,276.04 191.00,275.80 191.25,275.98 191.50,275.03 191.75,275.46 192.00,275.23 192.25,274.74 192.50,275.15 192.75,274.96 193.00,274.66 193.25,274.86 193.50,274.00 193.75,274.42 194.00,274.49 194.25,274.30 194.50,274.48 194.75,273.43 195.00,273.17 195.25,273.73 195.50,273.67 195.75,274.19 196.00,273.44 196.25,272.69 196.50,273.21 196.75,272.39 197.00,271.97 197.25,273.45 197.50,272.37 197.75,272.35 198.00,272.12 198.25,272.44 198.50,271.65 198.75,271.84 199.00,270.76 199.25,270.42 199.50,271.35 199.75,271.17 200.00,270.57 200.25,270.24 200.50,270.00 200.75,269.42 201.00,270.07 201.25,269.48 201.50,269.16 201.75,268.86 202.00,268.87 202.25,268.40 202.50,268.24 202.75,267.22 203.00,267.64 203.25,268.07 203.50,266.76 203.75,266.68 204.00,266.87 204.25,266.69 204.50,266.35 204.75,265.26 205.00,265.92 205.25,265.05 205.50,265.01 205.75,265.38 206.00,264.87 206.25,265.14 206.50,265.91 206.75,264.79 207.00,264.60 207.25,263.79 207.50,263.73 207.75,263.41 208.00,263.47 208.25,263.10 208.50,263.12 208.75,263.16 209.00,262.71 209.25,262.41 209.50,262.30 209.75,262.89 210.00,262.59 210.25,262.82 210.50,262.66 210.75,261.93 211.00,262.14 211.25,261.07 211.50,262.32 211.75,261.62 212.00,260.76 212.25,260.06 212.50,260.33 212.75,259.07 213.00,259.13 213.25,259.34 213.50,258.65 213.75,257.99 214.00,258.12 214.25,256.85 214.50,256.91 214.75,256.11 215.00,255.49 215.25,255.53 215.50,254.46 215.75,255.15 216.00,253.68 216.25,254.23 216.50,252.52 216.75,252.70 217.00,251.47 217.25,250.88 217.50,250.92 217.75,250.54 218.00,249.13 218.25,249.46 218.50,247.97 218.75,247.61 219.00,246.94 219.25,246.23 219.50,244.44 219.75,244.96 220.00,243.65 220.25,242.34 220.50,241.17 220.75,239.95 221.00,239.11 221.25,238.88 221.50,237.53 221.75,236.20 222.00,235.42 222.25,235.23 222.50,233.43 222.75,232.29 223.00,232.04 223.25,230.68 223.50,229.55 223.75,228.38 224.00,227.17 224.25,226.56 224.50,226.16 224.75,225.65 225.00,225.34 225.25,224.94 225.50,224.39 225.75,224.02 226.00,223.22 226.25,222.51 226.50,222.97 226.75,222.66 227.00,222.70 227.25,222.82 227.50,222.47 227.75,222.60 228.00,223.13 228.25,223.40 228.50,223.32 228.75,224.07 229.00,224.12 229.25,224.19 229.50,225.07 229.75,226.31 230.00,225.85 230.25,227.21 230.50,227.97 230.75,228.77 231.00,228.66 231.25,230.68 231.50,230.86 231.75,231.71 232.00,232.75 232.25,234.13 232.50,234.98 232.75,235.97 233.00,237.63 233.25,237.90 233.50,238.83 233.75,240.62 234.00,241.62 234.25,242.80 234.50,242.94 234.75,244.79 235.00,245.54 235.25,247.02 235.50,246.77 235.75,248.30 236.00,249.02 236.25,249.40 236.50,250.64 236.75,252.25 237.00,252.47 237.25,253.21 237.50,254.68 237.75,255.57 238.00,256.39 238.25,256.51 238.50,257.64 238.75,258.92 239.00,259.09 239.25,259.92 239.50,261.43 239.75,262.61 240.00,262.41 240.25,262.72 240.50,264.05 240.75,265.07 241.00,266.23 241.25,267.30 241.50,267.73 241.75,268.18 242.00,269.14 242.25,269.27 242.50,270.15 242.75,270.38 243.00,272.13 243.25,271.77 243.50,271.46 243.75,271.73 244.00,272.27 244.25,272.09 244.50,272.75 244.75,273.04 245.00,273.97 245.25,273.72 245.50,273.85 245.75,273.89 246.00,274.22 246.25,274.92 246.50,275.11 246.75,275.90 247.00,275.43 247.25,276.34 247.50,276.25 247.75,276.36 248.00,275.78 248.25,276.28 248.50,277.31 248.75,277.78 249.00,277.50 249.25,277.92 249.50,277.65 249.75,277.86 250.00,277.93 250.25,278.77 250.50,278.69 250.75,278.63 251.00,278.76 251.25,279.27 251.50,279.32 251.75,279.00 252.00,280.16 252.25,279.71 252.50,279.73 252.75,280.44 253.00,280.37 253.25,280.03 253.50,280.39 253.75,279.85 254.00,280.12 254.25,279.57 254.50,281.05 254.75,279.90 255.00,281.02 255.25,280.51 255.50,280.53 255.75,280.93 256.00,281.20 256.25,281.43 256.50,281.97 256.75,281.49 257.00,281.78 257.25,281.27 257.50,281.88 257.75,281.73 258.00,281.56 258.25,281.78 258.50,281.87 258.75,282.04 259.00,282.20 259.25,281.90 259.50,281.87 259.75,282.53 260.00,281.61 260.25,282.10 260.50,283.03 260.75,281.38 261.00,282.23 261.25,282.84 261.50,281.95 261.75,283.70 262.00,281.67 262.25,283.33 262.50,283.42 262.75,283.21 263.00,282.81 263.25,283.08 263.50,282.63 263.75,283.36 264.00,282.64 264.25,283.03 264.50,283.59 264.75,282.80 265.00,283.15 265.25,283.42 265.50,282.87 265.75,283.93 266.00,283.66 266.25,282.97 266.50,283.61 266.75,283.37 267.00,283.46 267.25,283.80 267.50,283.52 267.75,284.23 268.00,283.59 268.25,284.30 268.50,283.92 268.75,284.30 269.00,283.77 269.25,283.80 269.50,283.57 269.75,284.28 270.00,284.44 270.25,284.94 270.50,284.62 270.75,284.22 271.00,284.06 271.25,284.31 271.50,284.16 271.75,284.77 272.00,284.58 272.25,283.88 272.50,283.95 272.75,284.79 273.00,284.37 273.25,284.17 273.50,284.74 273.75,284.12 274.00,284.17 274.25,284.11 274.50,283.51 274.75,284.65 275.00,283.82 275.25,284.08 275.50,284.02 275.75,284.61 276.00,284.29 276.25,284.33 276.50,283.66 276.75,284.30 277.00,283.74 277.25,284.46 277.50,284.49 277.75,284.33 278.00,285.16 278.25,284.56 278.50,284.59 278.75,284.41 279.00,284.27 279.25,284.74 279.50,284.80 279.75,283.84 280.00,284.78 280.25,284.57 280.50,284.75 280.75,284.55 281.00,283.87 281.25,283.90 281.50,285.10 281.75,284.47 282.00,283.81 282.25,284.51 282.50,284.23 282.75,283.64 283.00,283.47 283.25,283.74 283.50,284.50 283.75,284.37 284.00,284.29 284.25,284.51 284.50,284.64 284.75,283.56 285.00,284.29 285.25,284.08 285.50,283.92 285.75,284.20 286.00,284.38 286.25,284.32 286.50,283.85 286.75,284.25 287.00,285.25 287.25,284.03 287.50,283.78 287.75,284.57 288.00,284.70 288.25,284.66 288.50,284.03 288.75,284.88 289.00,284.18 289.25,284.04 289.50,284.26 289.75,284.47 290.00,284.80 290.25,284.77 290.50,284.52 290.75,284.91 291.00,284.58 291.25,284.91 291.50,284.00 291.75,283.93 292.00,284.88 292.25,284.02 292.50,284.47 292.75,284.56 293.00,284.41 293.25,284.43 293.50,285.17 293.75,283.61 294.00,284.99 294.25,285.56 294.50,284.66 294.75,284.65 295.00,284.96 295.25,285.40 295.50,284.21 295.75,284.72 296.00,284.62 296.25,284.93 296.50,284.78 296.75,284.99 297.00,284.56 297.25,284.76 297.50,284.48 297.75,284.49 298.00,284.71 298.25,284.72 298.50,284.31 298.75,285.42 299.00,284.74 299.25,284.25 299.50,285.25 299.75,284.52 300.00,285.03 300.25,284.83 300.50,284.95 300.75,284.92 301.00,284.63 301.25,284.89 301.50,285.69 301.75,284.00 302.00,284.93 302.25,285.08 302.50,284.50 302.75,284.38 303.00,285.80 303.25,284.80 303.50,285.78 303.75,285.18 304.00,285.00 304.25,285.17 304.50,285.24 304.75,285.47 305.00,285.18 305.25,285.08 305.50,285.10 305.75,285.58 306.00,285.38 306.25,284.66 306.50,284.82 306.75,285.21 307.00,284.84 307.25,284.95 307.50,284.73 307.75,285.02 308.00,285.30 308.25,285.54 308.50,285.16 308.75,285.99 309.00,285.15 309.25,286.46 309.50,285.60 309.75,285.41 310.00,285.02 310.25,284.10 310.50,285.18 310.75,285.33 311.00,286.04 311.25,284.73 311.50,286.06 311.75,285.20 312.00,285.61 312.25,284.31 312.50,285.40 312.75,285.22 313.00,285.64 313.25,285.42 313.50,284.94 313.75,285.79 314.00,285.70 314.25,285.68 314.50,285.86 314.75,285.91 315.00,285.48 315.25,284.96 315.50,284.97 315.75,286.08 316.00,285.84 316.25,285.62 316.50,285.42 316.75,285.63 317.00,285.64 317.25,285.52 317.50,285.40 317.75,286.56 318.00,285.81 318.25,285.50 318.50,285.24 318.75,285.49 319.00,286.09 319.25,286.13 319.50,285.76 319.75,285.89 320.00,285.77 320.25,285.47 320.50,286.46 320.75,286.11 321.00,286.97 321.25,285.70 321.50,285.97 321.75,286.40 322.00,285.97 322.25,285.54 322.50,285.73 322.75,286.17 323.00,286.29 323.25,286.14 323.50,286.60 323.75,286.61 324.00,286.37 324.25,286.27 324.50,286.17 324.75,286.51 325.00,286.68 325.25,286.35 325.50,286.53 325.75,286.23 326.00,285.82 326.25,286.00 326.50,286.72 326.75,286.60 327.00,287.08 327.25,286.48 327.50,286.81 327.75,287.01 328.00,286.89 328.25,286.26 328.50,286.44 328.75,286.57 329.00,286.14 329.25,286.73 329.50,286.96 329.75,286.37 330.00,287.36 330.25,286.47 330.50,286.51 330.75,286.51 331.00,286.33 331.25,286.79 331.50,286.64 331.75,287.31 332.00,286.90 332.25,286.88 332.50,286.58 332.75,286.12 333.00,286.66 333.25,286.36 333.50,287.09 333.75,286.70 334.00,287.39 334.25,287.03 334.50,287.07 334.75,286.84 335.00,286.84 335.25,287.02 335.50,287.13 335.75,286.48 336.00,286.97 336.25,287.83 336.50,286.75 336.75,286.68 337.00,286.51 337.25,286.21 337.50,287.27 337.75,286.82 338.00,286.92 338.25,287.53 338.50,287.79 338.75,286.43 339.00,287.20 339.25,287.02 339.50,286.92 339.75,286.93 340.00,286.72 340.25,287.34 340.50,286.93 340.75,286.80 341.00,287.13 341.25,286.96 341.50,286.75 341.75,286.67 342.00,287.20 342.25,286.67 342.50,286.39 342.75,286.05 343.00,286.21 343.25,285.89 343.50,286.31 343.75,286.33 344.00,285.36 344.25,286.14 344.50,286.35 344.75,286.10 345.00,285.60 345.25,286.44 345.50,285.59 345.75,285.32 346.00,285.31 346.25,285.66 346.50,285.99 346.75,285.98 347.00,285.52 347.25,284.87 347.50,285.00 347.75,284.82 348.00,285.03 348.25,284.31 348.50,284.98 348.75,285.12 349.00,284.72 349.25,284.89 349.50,284.26 349.75,283.98 350.00,284.23 350.25,284.87 350.50,284.75 350.75,284.08 351.00,284.67 351.25,283.98 351.50,284.64 351.75,284.16 352.00,283.71 352.25,284.13 352.50,283.42 352.75,283.28 353.00,282.99 353.25,283.59 353.50,283.38 353.75,283.29 354.00,283.08 354.25,283.74 354.50,282.91 354.75,282.72 355.00,283.44 355.25,283.44 355.50,282.95 355.75,282.06 356.00,282.47 356.25,282.91 356.50,282.63 356.75,283.21 357.00,282.01 357.25,282.80 357.50,282.24 357.75,283.00 358.00,282.40 358.25,282.81 358.50,282.10 358.75,281.74 359.00,281.80 359.25,281.91 359.50,281.62 359.75,282.35 360.00,282.20 360.25,281.54 360.50,280.74 360.75,280.79 361.00,280.24 361.25,280.77 361.50,279.99 361.75,279.77 362.00,279.16 362.25,278.31 362.50,278.66 362.75,278.45 363.00,279.02 363.25,278.95 363.50,278.69 363.75,278.99 364.00,279.95 364.25,279.15 364.50,279.41 364.75,279.95 365.00,280.04 365.25,280.46 365.50,281.17 365.75,281.99 366.00,280.91 366.25,281.92 366.50,282.22 366.75,282.42 367.00,282.58 367.25,282.68 367.50,283.36 367.75,282.88 368.00,283.11 368.25,283.25 368.50,283.37 368.75,283.33 369.00,283.86 369.25,283.52 369.50,283.65 369.75,283.61 370.00,283.29 370.25,283.41 370.50,283.38 370.75,283.93 371.00,283.62 371.25,283.53 371.50,284.10 371.75,284.27 372.00,283.40 372.25,284.83 372.50,284.21 372.75,284.20 373.00,284.72 373.25,284.37 373.50,284.15 373.75,285.31 374.00,284.06 374.25,284.50 374.50,284.93 374.75,284.22 375.00,284.67 375.25,284.92 375.50,285.79 375.75,284.53 376.00,284.93 376.25,285.27 376.50,285.09 376.75,284.63 377.00,285.33 377.25,285.25 377.50,285.43 377.75,285.75 378.00,285.74 378.25,285.54 378.50,285.53 378.75,285.00 379.00,285.42 379.25,285.60 379.50,285.38 379.75,285.61 380.00,285.27 380.25,286.24 380.50,286.52 380.75,285.53 381.00,285.87 381.25,285.64 381.50,286.27 381.75,285.96 382.00,285.84 382.25,285.74 382.50,285.90 382.75,285.48 383.00,286.17 383.25,285.63 383.50,286.15 383.75,286.01 384.00,286.41 384.25,285.99 384.50,286.42 384.75,285.66 385.00,286.29 385.25,285.98 385.50,286.16 385.75,286.13 386.00,286.50 386.25,285.33 386.50,286.29 386.75,285.58 387.00,286.68 387.25,285.42 387.50,285.83 387.75,285.58 388.00,286.92 388.25,285.76 388.50,286.34 388.75,286.10 389.00,285.61 389.25,286.21 389.50,286.63 389.75,286.31 390.00,286.78 390.25,286.27 390.50,286.44 390.75,286.30 391.00,286.60 391.25,287.24 391.50,286.64 391.75,286.59 392.00,286.28 392.25,286.25 392.50,287.15 392.75,286.14 393.00,286.23 393.25,286.57 393.50,286.46 393.75,287.43 394.00,285.71 394.25,286.82 394.50,286.98 394.75,286.26 395.00,286.46 395.25,286.91 395.50,287.41 395.75,286.40 396.00,286.15 396.25,287.19 396.50,287.42 396.75,286.70 397.00,285.96 397.25,287.44 397.50,286.80 397.75,287.34 398.00,286.89 398.25,286.77 398.50,286.75 398.75,287.54 399.00,287.54 399.25,286.12 399.50,286.62 399.75,287.72 400.00,286.87 400.25,286.49 400.50,287.05 400.75,287.02 401.00,287.04 401.25,286.90 401.50,286.98 401.75,286.94 402.00,287.27 402.25,286.82 402.50,287.05 402.75,287.12 403.00,287.71 403.25,287.35 403.50,287.17 403.75,287.44 404.00,287.41 404.25,287.69 404.50,287.47 404.75,288.00 405.00,287.83 405.25,287.29 405.50,287.16 405.75,287.69 406.00,287.55 406.25,287.32 406.50,286.78 406.75,286.65 407.00,287.54 407.25,287.72 407.50,287.75 407.75,286.92 408.00,287.86 408.25,287.25 408.50,287.63 408.75,287.65 409.00,287.18 409.25,287.27 409.50,286.69 409.75,287.17 410.00,286.83 410.25,287.73 410.50,287.60 410.75,287.95 411.00,287.74 411.25,287.35 411.50,287.76 411.75,287.47 412.00,287.88 412.25,287.78 412.50,287.27 412.75,287.68 413.00,287.71 413.25,287.57 413.50,288.07 413.75,288.40 414.00,287.58 414.25,287.60 414.50,286.85 414.75,287.71 415.00,287.60 415.25,286.92 415.50,287.91 415.75,288.04 416.00,287.52 416.25,287.68 416.50,287.45 416.75,288.15 417.00,287.25 417.25,287.74 417.50,288.66 417.75,287.91 418.00,288.09 418.25,287.85 418.50,287.45 418.75,287.92 419.00,288.10 419.25,287.54 419.50,288.10 419.75,288.47 420.00,288.41 420.25,287.36 420.50,287.61 420.75,287.36 421.00,288.45 421.25,288.27 421.50,288.32 421.75,287.69 422.00,287.59 422.25,288.09 422.50,288.11 422.75,287.74 423.00,288.15 423.25,288.36 423.50,288.20 423.75,287.70 424.00,287.28 424.25,288.03 424.50,288.21 424.75,288.05 425.00,287.99 425.25,287.89 425.50,288.46 425.75,288.16 426.00,288.24 426.25,287.81 426.50,287.96 426.75,288.28 427.00,287.82 427.25,287.73 427.50,288.11 427.75,288.73 428.00,288.34 428.25,288.85 428.50,288.22 428.75,288.16 429.00,287.73 429.25,288.07 429.50,288.88 429.75,288.44 430.00,288.61 430.25,288.61 430.50,288.33 430.75,288.26 431.00,288.40 431.25,288.62 431.50,288.55 431.75,288.57 432.00,288.44 432.25,288.08 432.50,288.29 432.75,288.02 433.00,288.81 433.25,287.57 433.50,288.33 433.75,289.38 434.00,288.30 434.25,287.98 434.50,288.44 434.75,288.97 435.00,288.39 435.25,288.71 435.50,288.51 435.75,288.33 436.00,289.74 436.25,288.52 436.50,288.28 436.75,288.31 437.00,288.66 437.25,288.68 437.50,288.83 437.75,288.58 438.00,287.96 438.25,288.75 438.50,288.42 438.75,288.43 439.00,287.96 439.25,288.33 439.50,288.27 439.75,288.55 440.00,287.99 440.25,288.60 440.50,288.64 440.75,288.14 441.00,288.35 441.25,288.26 441.50,288.97 441.75,287.60 442.00,288.48 442.25,287.96 442.50,288.45 442.75,288.97 443.00,288.38 443.25,288.70 443.50,288.31 443.75,289.43 444.00,289.02 444.25,289.11 444.50,288.13 444.75,288.23 445.00,289.11 445.25,288.60 445.50,288.58 445.75,288.82 446.00,288.19 446.25,289.01 446.50,288.71 446.75,288.90 447.00,288.44 447.25,288.92 447.50,288.44 447.75,289.10 448.00,289.18 448.25,289.10 448.50,288.94 448.75,288.99 449.00,287.66 449.25,289.08 449.50,288.64 449.75,288.79 450.00,288.65 450.25,288.21 450.50,288.55 450.75,289.03 451.00,289.34 451.25,288.53 451.50,288.42 451.75,289.37 452.00,288.44 452.25,289.62 452.50,288.82 452.75,288.45 453.00,289.20 453.25,289.49 453.50,288.24 453.75,289.44 454.00,288.71 454.25,289.42 454.50,288.67 454.75,288.20 455.00,289.03 455.25,289.21 455.50,289.68 455.75,289.53 456.00,289.13 456.25,288.76 456.50,288.65 456.75,288.74 457.00,288.53 457.25,288.75 457.50,287.85 457.75,288.94 458.00,288.86 458.25,289.90 458.50,289.18 458.75,288.69 459.00,289.11 459.25,288.40 459.50,288.65 459.75,288.15 460.00,289.47 460.25,289.14 460.50,288.44 460.75,288.89 461.00,289.29 461.25,289.11 461.50,289.07 461.75,288.58 462.00,288.67 462.25,288.97 462.50,289.30 462.75,288.60 463.00,288.49 463.25,289.40 463.50,288.57 463.75,289.38 464.00,289.05 464.25,289.31 464.50,289.65 464.75,289.23 465.00,289.27 465.25,288.60 465.50,288.69 465.75,289.23 466.00,289.59 466.25,289.53 466.50,289.91 466.75,289.11 467.00,289.07 467.25,289.39 467.50,289.00 467.75,288.97 468.00,288.58 468.25,289.40 468.50,288.58 468.75,289.21 469.00,288.44 469.25,289.45 469.50,288.61 469.75,289.36 470.00,288.39 470.25,288.85 470.50,289.50 470.75,288.71 471.00,289.06 471.25,288.85 471.50,288.12 471.75,289.17 472.00,289.22 472.25,288.61 472.50,289.28 472.75,288.74 473.00,288.66 473.25,289.07 473.50,288.80 473.75,289.99 474.00,288.45 474.25,289.37 474.50,289.48 474.75,288.29 475.00,288.39 475.25,289.32 475.50,288.90 475.75,289.25 476.00,289.56 476.25,288.96 476.50,288.68 476.75,288.02 477.00,289.20 477.25,288.75 477.50,289.25 477.75,289.22 478.00,288.57 478.25,289.82 478.50,289.57 478.75,289.48 479.00,288.67 479.25,288.98 479.50,288.93 479.75,288.99 480.00,288.71 480.25,289.34 480.50,289.26 480.75,289.31 481.00,288.97 481.25,289.69 481.50,289.26 481.75,288.09 482.00,288.93 482.25,289.17 482.50,289.58 482.75,289.08 483.00,289.10 483.25,288.94 483.50,289.48 483.75,289.04 484.00,288.98 484.25,288.93 484.50,289.45 484.75,289.02 485.00,288.57 485.25,289.49 485.50,288.96 485.75,289.39 486.00,289.40 486.25,289.74 486.50,289.68 486.75,289.04 487.00,289.21 487.25,288.76 487.50,289.95 487.75,289.46 488.00,289.85 488.25,289.17 488.50,288.48 488.75,289.92 489.00,289.35 489.25,289.37 489.50,289.34 489.75,289.58 490.00,289.54 490.25,288.70 490.50,289.77 490.75,289.13 491.00,289.16 491.25,290.05 491.50,289.73 491.75,289.23 492.00,288.63 492.25,289.44 492.50,289.60 492.75,289.35 493.00,288.89 493.25,289.08 493.50,288.90 493.75,289.49 494.00,289.74 494.25,289.83 494.50,289.13 494.75,289.52 495.00,289.66 495.25,289.24 495.50,289.39 495.75,290.30 496.00,289.54 496.25,289.82 496.50,289.30 496.75,289.50 497.00,288.80 497.25,289.48 497.50,289.97 497.75,290.34 498.00,289.99 498.25,289.79 498.50,289.54 498.75,289.29 499.00,289.47 499.25,289.79 499.50,289.24 499.75,289.93 500.00,289.17 500.25,288.86 500.50,289.17 500.75,288.92 501.00,289.04 501.25,290.05 501.50,289.53 501.75,289.70 502.00,290.08 502.25,290.13 502.50,289.43 502.75,290.17 503.00,289.80 503.25,289.66 503.50,289.84 503.75,289.10 504.00,289.36 504.25,289.64 504.50,289.94 504.75,289.55 505.00,289.66 505.25,290.10 505.50,290.29 505.75,290.04 506.00,290.25 506.25,289.59 506.50,289.63 506.75,289.89 507.00,289.65 507.25,289.58 507.50,290.45 507.75,289.72 508.00,289.42 508.25,290.01 508.50,290.55 508.75,289.86 509.00,290.33 509.25,289.67 509.50,289.66 509.75,289.59 510.00,289.81 510.25,290.61 510.50,289.42 510.75,290.55 511.00,289.50 511.25,289.82 511.50,290.26 511.75,290.18 512.00,290.05 512.25,289.29 512.50,290.10 512.75,289.56 513.00,291.00 513.25,289.90 513.50,290.07 513.75,289.54 514.00,289.82 514.25,289.50 514.50,290.42 514.75,289.93 515.00,290.27 515.25,289.78 515.50,289.86 515.75,290.59 516.00,289.69 516.25,289.37 516.50,290.26 516.75,289.65 517.00,289.94 517.25,290.49 517.50,289.81 517.75,290.50 518.00,289.88 518.25,290.76 518.50,290.70 518.75,290.00 519.00,290.11 519.25,289.87 519.50,290.29 519.75,290.68 520.00,289.65 520.25,290.61 520.50,289.72 520.75,289.92 521.00,289.56 521.25,291.12 521.50,290.31 521.75,290.40 522.00,290.04 522.25,290.75 522.50,289.49 522.75,290.35 523.00,291.23 523.25,290.21 523.50,290.38 523.75,290.65 524.00,290.06 524.25,290.41 524.50,290.79 524.75,290.50 525.00,290.58 525.25,290.30 525.50,290.57 525.75,290.48 526.00,291.05 526.25,290.77 526.50,290.39 526.75,289.52 527.00,290.80 527.25,290.82 527.50,290.16 527.75,289.74 528.00,290.09 528.25,290.93 528.50,290.14 528.75,290.40 529.00,290.68 529.25,291.09 529.50,290.60 529.75,290.58 530.00,290.41 530.25,291.30 530.50,291.08 530.75,290.63 531.00,290.12 531.25,290.37 531.50,290.93 531.75,290.42 532.00,291.07 532.25,290.87 532.50,290.85 532.75,291.01 533.00,290.96 533.25,290.42 533.50,290.64 533.75,291.72 534.00,290.31" stroke="#fb2a2a"/>
<path d="M36.00,206.33 36.25,206.96 36.50,206.48 36.75,206.24 37.00,206.05 37.25,206.81 37.50,207.03 37.75,207.20 38.00,206.68 38.25,207.10 38.50,206.28 38.75,206.78 39.00,206.47 39.25,206.83 39.50,207.08 39.75,207.22 40.00,206.42 40.25,207.34 40.50,206.67 40.75,206.47 41.00,206.83 41.25,206.33 41.50,206.94 41.75,207.07 42.00,206.89 42.25,207.21 42.50,206.89 42.75,207.04 43.00,206.48 43.25,207.09 43.50,206.75 43.75,206.93 44.00,207.10 44.25,207.23 44.50,206.51 44.75,206.57 45.00,207.09 45.25,207.42 45.50,207.40 45.75,207.63 46.00,207.81 46.25,207.51 46.50,207.32 46.75,206.94 47.00,206.99 47.25,207.20 47.50,207.52 47.75,207.52 48.00,207.45 48.25,207.41 48.50,207.74 48.75,207.59 49.00,207.65 49.25,207.67 49.50,207.35 49.75,207.18 50.00,207.81 50.25,207.80 50.50,207.56 50.75,207.50 51.00,208.60 51.25,207.40 51.50,207.64 51.75,207.85 52.00,207.31 52.25,207.84 52.50,208.53 52.75,208.20 53.00,208.10 53.25,208.11 53.50,207.93 53.75,208.29 54.00,207.87 54.25,207.78 54.50,208.01 54.75,208.36 55.00,208.15 55.25,208.31 55.50,207.25 55.75,208.56 56.00,209.04 56.25,208.66 56.50,208.02 56.75,207.83 57.00,208.30 57.25,207.82 57.50,208.52 57.75,208.04 58.00,208.66 58.25,208.84 58.50,207.51 58.75,208.46 59.00,208.08 59.25,207.82 59.50,208.16 59.75,208.34 60.00,208.86 60.25,207.86 60.50,208.91 60.75,209.32 61.00,208.78 61.25,208.78 61.50,208.57 61.75,208.13 62.00,208.83 62.25,208.80 62.50,208.95 62.75,209.71 63.00,208.99 63.25,208.89 63.50,209.37 63.75,208.22 64.00,208.32 64.25,208.65 64.50,208.56 64.75,209.12 65.00,208.73 65.25,209.57 65.50,209.50 65.75,209.22 66.00,208.77 66.25,209.19 66.50,209.29 66.75,208.55 67.00,209.14 67.25,209.29 67.50,209.11 67.75,209.67 68.00,209.54 68.25,208.74 68.50,209.14 68.75,208.77 69.00,209.35 69.25,208.78 69.50,209.51 69.75,209.31 70.00,209.56 70.25,209.13 70.50,208.62 70.75,209.92 71.00,209.16 71.25,209.80 71.50,209.43 71.75,209.55 72.00,210.02 72.25,209.44 72.50,209.88 72.75,208.74 73.00,209.70 73.25,209.27 73.50,209.32 73.75,209.40 74.00,209.55 74.25,210.08 74.50,208.69 74.75,209.47 75.00,209.18 75.25,209.94 75.50,209.32 75.75,209.69 76.00,209.36 76.25,209.80 76.50,209.95 76.75,209.40 77.00,209.59 77.25,209.01 77.50,209.71 77.75,209.95 78.00,209.39 78.25,210.08 78.50,208.81 78.75,208.91 79.00,209.10 79.25,209.48 79.50,209.69 79.75,209.66 80.00,209.67 80.25,210.00 80.50,209.53 80.75,209.22 81.00,209.23 81.25,210.58 81.50,208.81 81.75,209.68 82.00,210.34 82.25,209.96 82.50,209.44 82.75,209.78 83.00,210.13 83.25,210.27 83.50,209.43 83.75,210.09 84.00,209.89 84.25,210.24 84.50,210.35 84.75,209.66 85.00,209.22 85.25,209.96 85.50,210.51 85.75,210.07 86.00,209.89 86.25,210.76 86.50,209.38 86.75,210.16 87.00,209.57 87.25,209.81 87.50,209.83 87.75,210.40 88.00,209.41 88.25,209.57 88.50,209.15 88.75,209.98 89.00,209.60 89.25,209.94 89.50,209.34 89.75,209.63 90.00,210.18 90.25,209.69 90.50,210.01 90.75,209.97 91.00,209.61 91.25,209.13 91.50,210.14 91.75,209.81 92.00,210.13 92.25,208.93 92.50,209.07 92.75,208.87 93.00,209.37 93.25,210.13 93.50,209.94 93.75,209.69 94.00,209.75 94.25,210.00 94.50,209.57 94.75,209.84 95.00,209.73 95.25,208.80 95.50,209.51 95.75,210.20 96.00,209.50 96.25,209.59 96.50,209.40 96.75,209.44 97.00,210.08 97.25,209.52 97.50,209.21 97.75,208.36 98.00,209.37 98.25,208.81 98.50,208.86 98.75,209.90 99.00,209.86 99.25,208.80 99.50,209.90 99.75,209.74 100.00,209.23 100.25,209.83 100.50,208.88 100.75,209.04 101.00,208.94 101.25,209.06 101.50,209.85 101.75,208.96 102.00,209.02 102.25,209.09 102.50,209.54 102.75,209.31 103.00,209.78 103.25,209.14 103.50,208.89 103.75,209.19 104.00,209.40 104.25,208.99 104.50,209.46 104.75,210.06 105.00,209.08 105.25,209.31 105.50,209.82 105.75,209.00 106.00,208.90 106.25,208.78 106.50,209.35 106.75,209.38 107.00,209.09 107.25,209.14 107.50,209.61 107.75,209.43 108.00,208.49 108.25,209.03 108.50,209.05 108.75,209.27 109.00,208.86 109.25,208.67 109.50,208.72 109.75,208.16 110.00,208.83 110.25,208.58 110.50,208.97 110.75,208.35 111.00,208.56 111.25,208.31 111.50,208.24 111.75,208.92 112.00,208.42 112.25,208.76 112.50,208.10 112.75,208.56 113.00,207.81 113.25,208.26 113.50,208.22 113.75,208.63 114.00,208.43 114.25,208.26 114.50,208.63 114.75,208.34 115.00,208.44 115.25,208.50 115.50,208.12 115.75,208.00 116.00,208.20 116.25,207.87 116.50,208.14 116.75,208.39 117.00,208.24 117.25,207.70 117.50,207.29 117.75,207.74 118.00,207.66 118.25,208.10 118.50,207.45 118.75,207.47 119.00,207.79 119.25,207.26 119.50,207.33 119.75,208.02 120.00,207.87 120.25,207.47 120.50,207.27 120.75,206.71 121.00,207.26 121.25,207.00 121.50,207.00 121.75,206.64 122.00,206.77 122.25,206.63 122.50,206.76 122.75,207.13 123.00,206.64 123.25,205.75 123.50,205.95 123.75,205.63 124.00,205.86 124.25,206.32 124.50,206.17 124.75,205.69 125.00,205.95 125.25,205.45 125.50,205.09 125.75,205.00 126.00,205.13 126.25,205.93 126.50,204.73 126.75,205.65 127.00,205.58 127.25,204.86 127.50,204.79 127.75,204.44 128.00,204.55 128.25,204.70 128.50,204.31 128.75,204.57 129.00,204.51 129.25,204.03 129.50,203.88 129.75,203.59 130.00,203.60 130.25,202.87 130.50,203.33 130.75,203.10 131.00,202.52 131.25,203.57 131.50,202.17 131.75,202.05 132.00,202.34 132.25,201.29 132.50,201.58 132.75,201.11 133.00,201.16 133.25,201.31 133.50,201.31 133.75,201.44 134.00,201.14 134.25,201.10 134.50,200.67 134.75,200.05 135.00,200.48 135.25,199.64 135.50,199.38 135.75,200.02 136.00,199.50 136.25,199.05 136.50,199.03 136.75,198.85 137.00,197.72 137.25,197.99 137.50,197.31 137.75,197.60 138.00,197.04 138.25,197.62 138.50,197.05 138.75,196.30 139.00,196.39 139.25,195.70 139.50,195.98 139.75,195.97 140.00,195.65 140.25,194.56 140.50,194.98 140.75,195.10 141.00,194.81 141.25,194.94 141.50,193.75 141.75,194.27 142.00,193.61 142.25,193.76 142.50,193.67 142.75,193.62 143.00,192.97 143.25,193.15 143.50,192.49 143.75,192.30 144.00,193.00 144.25,192.69 144.50,192.01 144.75,192.27 145.00,192.58 145.25,193.16 145.50,192.92 145.75,192.79 146.00,191.73 146.25,192.38 146.50,192.58 146.75,192.53 147.00,192.52 147.25,192.24 147.50,193.02 147.75,192.90 148.00,192.26 148.25,191.90 148.50,193.12 148.75,192.08 149.00,192.79 149.25,193.09 149.50,191.97 149.75,192.49 150.00,192.26 150.25,192.64 150.50,192.61 150.75,193.30 151.00,192.80 151.25,192.61 151.50,193.11 151.75,192.60 152.00,192.61 152.25,193.70 152.50,192.52 152.75,192.69 153.00,192.94 153.25,192.53 153.50,192.14 153.75,193.44 154.00,192.72 154.25,192.84 154.50,192.93 154.75,192.71 155.00,192.69 155.25,193.20 155.50,194.12 155.75,193.47 156.00,193.50 156.25,192.62 156.50,193.23 156.75,192.79 157.00,193.60 157.25,193.23 157.50,193.37 157.75,193.36 158.00,193.20 158.25,192.87 158.50,193.77 158.75,193.05 159.00,193.20 159.25,193.62 159.50,193.54 159.75,194.01 160.00,194.40 160.25,194.19 160.50,194.27 160.75,194.30 161.00,194.73 161.25,193.75 161.50,194.74 161.75,194.33 162.00,194.32 162.25,194.92 162.50,194.87 162.75,195.37 163.00,195.69 163.25,194.43 163.50,195.45 163.75,196.39 164.00,196.07 164.25,196.43 164.50,196.02 164.75,195.54 165.00,195.79 165.25,196.66 165.50,196.90 165.75,196.35 166.00,196.68 166.25,197.03 166.50,196.36 166.75,197.06 167.00,197.98 167.25,198.35 167.50,197.58 167.75,198.50 168.00,197.70 168.25,197.73 168.50,197.31 168.75,198.74 169.00,198.36 169.25,199.59 169.50,198.94 169.75,199.03 170.00,198.38 170.25,199.85 170.50,199.26 170.75,199.48 171.00,198.81 171.25,200.21 171.50,200.38 171.75,199.88 172.00,200.31 172.25,200.57 172.50,200.95 172.75,200.76 173.00,201.55 173.25,200.91 173.50,200.91 173.75,201.11 174.00,200.42 174.25,201.24 174.50,202.09 174.75,201.91 175.00,201.58 175.25,202.15 175.50,201.29 175.75,202.06 176.00,202.45 176.25,202.58 176.50,202.05 176.75,202.77 177.00,203.20 177.25,202.32 177.50,202.82 177.75,201.93 178.00,201.80 178.25,202.87 178.50,202.67 178.75,202.76 179.00,202.48 179.25,202.62 179.50,203.10 179.75,203.49 180.00,202.75 180.25,202.21 180.50,203.41 180.75,203.18 181.00,203.24 181.25,203.08 181.50,203.96 181.75,203.09 182.00,203.29 182.25,202.37 182.50,202.90 182.75,202.87 183.00,203.15 183.25,203.31 183.50,202.87 183.75,203.87 184.00,202.75 184.25,203.00 184.50,203.27 184.75,202.68 185.00,203.41 185.25,203.43 185.50,203.06 185.75,203.94 186.00,203.21 186.25,203.29 186.50,202.79 186.75,202.50 187.00,202.91 187.25,203.03 187.50,202.96 187.75,203.44 188.00,202.16 188.25,202.63 188.50,202.33 188.75,203.57 189.00,202.77 189.25,202.76 189.50,202.49 189.75,203.25 190.00,202.69 190.25,202.90 190.50,201.96 190.75,203.20 191.00,202.84 191.25,202.86 191.50,203.08 191.75,202.46 192.00,202.41 192.25,202.71 192.50,202.53 192.75,202.19 193.00,202.24 193.25,201.95 193.50,202.37 193.75,202.38 194.00,201.93 194.25,202.60 194.50,201.15 194.75,201.58 195.00,202.26 195.25,201.31 195.50,200.73 195.75,201.83 196.00,201.37 196.25,200.56 196.50,201.23 196.75,200.39 197.00,200.14 197.25,200.49 197.50,200.23 197.75,199.86 198.00,200.02 198.25,199.63 198.50,199.92 198.75,199.74 199.00,199.90 199.25,199.28 199.50,198.78 199.75,198.63 200.00,198.91 200.25,199.47 200.50,199.04 200.75,198.29 201.00,198.77 201.25,197.77 201.50,198.48 201.75,197.77 202.00,198.07 202.25,197.85 202.50,197.33 202.75,197.41 203.00,196.70 203.25,196.93 203.50,197.24 203.75,198.30 204.00,196.79 204.25,196.39 204.50,195.81 204.75,196.51 205.00,195.29 205.25,195.51 205.50,195.86 205.75,195.13 206.00,196.12 206.25,195.84 206.50,195.08 206.75,194.99 207.00,194.59 207.25,194.46 207.50,195.11 207.75,195.09 208.00,194.88 208.25,194.76 208.50,194.33 208.75,194.61 209.00,193.78 209.25,194.27 209.50,194.77 209.75,194.61 210.00,193.80 210.25,193.76 210.50,194.35 210.75,194.41 211.00,192.99 211.25,193.32 211.50,193.48 211.75,193.76 212.00,192.82 212.25,193.30 212.50,192.79 212.75,193.74 213.00,192.83 213.25,192.46 213.50,192.24 213.75,192.65 214.00,192.35 214.25,191.48 214.50,191.83 214.75,191.03 215.00,191.08 215.25,190.67 215.50,190.45 215.75,190.48 216.00,190.13 216.25,190.47 216.50,190.31 216.75,189.60 217.00,188.94 217.25,189.39 217.50,187.92 217.75,187.62 218.00,188.33 218.25,187.95 218.50,187.72 218.75,186.87 219.00,186.08 219.25,186.00 219.50,186.05 219.75,185.11 220.00,184.73 220.25,184.02 220.50,183.66 220.75,184.00 221.00,183.35 221.25,182.17 221.50,181.65 221.75,181.28 222.00,181.11 222.25,179.79 222.50,179.53 222.75,178.07 223.00,177.74 223.25,177.71 223.50,177.20 223.75,175.66 224.00,175.10 224.25,175.01 224.50,173.81 224.75,173.03 225.00,172.75 225.25,171.94 225.50,171.66 225.75,170.92 226.00,169.80 226.25,169.48 226.50,169.06 226.75,168.17 227.00,168.02 227.25,168.57 227.50,167.40 227.75,168.37 228.00,168.10 228.25,168.02 228.50,168.42 228.75,168.57 229.00,169.06 229.25,168.62 229.50,168.92 229.75,169.17 230.00,170.30 230.25,170.25 230.50,169.86 230.75,170.51 231.00,170.81 231.25,171.60 231.50,172.21 231.75,173.60 232.00,172.52 232.25,174.26 232.50,174.63 232.75,174.80 233.00,175.65 233.25,176.14 233.50,177.00 233.75,178.02 234.00,177.63 234.25,179.39 234.50,179.33 234.75,180.70 235.00,180.87 235.25,181.81 235.50,182.16 235.75,182.98 236.00,183.20 236.25,183.47 236.50,184.72 236.75,185.37 237.00,186.58 237.25,185.58 237.50,186.94 237.75,188.09 238.00,187.80 238.25,188.85 238.50,190.41 238.75,190.74 239.00,190.40 239.25,191.89 239.50,192.33 239.75,192.68 240.00,193.01 240.25,193.42 240.50,193.41 240.75,193.98 241.00,194.89 241.25,195.04 241.50,196.11 241.75,195.61 242.00,195.15 242.25,196.33 242.50,196.92 242.75,197.31 243.00,197.52 243.25,197.48 243.50,198.72 243.75,198.16 244.00,198.99 244.25,198.87 244.50,198.76 244.75,200.05 245.00,198.71 245.25,199.60 245.50,200.32 245.75,200.21 246.00,200.85 246.25,200.70 246.50,200.74 246.75,201.96 247.00,201.17 247.25,201.35 247.50,201.14 247.75,201.42 248.00,202.12 248.25,202.22 248.50,202.12 248.75,201.96 249.00,202.63 249.25,201.79 249.50,202.44 249.75,202.58 250.00,202.45 250.25,202.94 250.50,202.71 250.75,202.75 251.00,203.88 251.25,203.54 251.50,203.81 251.75,203.43 252.00,203.87 252.25,203.88 252.50,204.13 252.75,204.67 253.00,203.71 253.25,203.98 253.50,203.92 253.75,202.61 254.00,203.53 254.25,204.16 254.50,204.48 254.75,204.06 255.00,204.81 255.25,204.93 255.50,204.32 255.75,205.11 256.00,205.31 256.25,204.85 256.50,204.33 256.75,205.36 257.00,204.76 257.25,204.73 257.50,204.98 257.75,204.77 258.00,205.46 258.25,205.39 258.50,205.62 258.75,205.41 259.00,204.90 259.25,205.20 259.50,205.66 259.75,205.18 260.00,206.56 260.25,205.33 260.50,205.24 260.75,205.97 261.00,205.85 261.25,205.57 261.50,205.53 261.75,205.83 262.00,206.03 262.25,206.04 262.50,205.65 262.75,205.97 263.00,206.17 263.25,206.17 263.50,204.67 263.75,205.58 264.00,205.65 264.25,205.90 264.50,206.10 264.75,206.43 265.00,206.33 265.25,206.07 265.50,206.16 265.75,206.88 266.00,205.96 266.25,206.35 266.50,206.89 266.75,206.43 267.00,205.50 267.25,206.49 267.50,206.22 267.75,206.35 268.00,206.84 268.25,206.64 268.50,206.37 268.75,206.86 269.00,206.70 269.25,206.59 269.50,206.69 269.75,206.70 270.00,206.48 270.25,206.46 270.50,206.67 270.75,206.30 271.00,206.20 271.25,207.24 271.50,206.64 271.75,206.75 272.00,206.72 272.25,206.80 272.50,206.81 272.75,206.84 273.00,206.51 273.25,207.22 273.50,206.58 273.75,207.29 274.00,206.12 274.25,206.48 274.50,207.31 274.75,206.86 275.00,206.67 275.25,207.10 275.50,206.54 275.75,207.00 276.00,206.09 276.25,206.81 276.50,206.74 276.75,207.23 277.00,207.37 277.25,206.69 277.50,207.69 277.75,206.81 278.00,206.24 278.25,206.12 278.50,207.70 278.75,207.05 279.00,206.84 279.25,206.81 279.50,206.68 279.75,207.67 280.00,207.10 280.25,207.86 280.50,207.07 280.75,206.22 281.00,207.51 281.25,207.03 281.50,207.09 281.75,207.82 282.00,207.10 282.25,207.68 282.50,207.22 282.75,206.93 283.00,207.44 283.25,207.01 283.50,207.75 283.75,207.65 284.00,207.31 284.25,207.53 284.50,207.53 284.75,207.20 285.00,207.68 285.25,207.24 285.50,207.59 285.75,206.97 286.00,207.40 286.25,207.54 286.50,207.06 286.75,207.22 287.00,207.19 287.25,207.70 287.50,207.13 287.75,207.61 288.00,208.05 288.25,207.59 288.50,206.82 288.75,207.52 289.00,207.90 289.25,207.37 289.50,207.94 289.75,207.76 290.00,207.69 290.25,207.42 290.50,207.33 290.75,207.45 291.00,207.58 291.25,207.78 291.50,207.75 291.75,207.47 292.00,207.62 292.25,207.76 292.50,206.97 292.75,207.32 293.00,207.32 293.25,207.57 293.50,207.55 293.75,207.56 294.00,207.33 294.25,207.96 294.50,207.81 294.75,207.05 295.00,207.73 295.25,207.28 295.50,208.42 295.75,207.57 296.00,207.61 296.25,207.81 296.50,207.71 296.75,207.77 297.00,208.43 297.25,207.91 297.50,208.16 297.75,208.29 298.00,207.46 298.25,208.54 298.50,208.15 298.75,208.27 299.00,207.56 299.25,208.24 299.50,208.09 299.75,207.73 300.00,208.87 300.25,208.20 300.50,207.89 300.75,208.07 301.00,208.38 301.25,208.48 301.50,208.27 301.75,208.54 302.00,208.66 302.25,207.59 302.50,207.91 302.75,207.74 303.00,208.17 303.25,208.73 303.50,208.43 303.75,207.76 304.00,208.08 304.25,208.63 304.50,208.02 304.75,208.21 305.00,208.39 305.25,207.55 305.50,208.61 305.75,208.45 306.00,208.56 306.25,207.96 306.50,208.06 306.75,208.15 307.00,208.50 307.25,208.45 307.50,208.49 307.75,209.17 308.00,208.99 308.25,208.20 308.50,208.24 308.75,209.21 309.00,208.41 309.25,209.10 309.50,209.21 309.75,208.37 310.00,208.49 310.25,208.65 310.50,208.29 310.75,208.26 311.00,208.50 311.25,209.02 311.50,208.51 311.75,208.62 312.00,208.54 312.25,208.19 312.50,209.34 312.75,207.83 313.00,208.51 313.25,209.01 313.50,208.24 313.75,209.06 314.00,209.33 314.25,208.49 314.50,208.93 314.75,208.42 315.00,209.08 315.25,208.92 315.50,208.98 315.75,209.45 316.00,209.10 316.25,209.46 316.50,209.19 316.75,208.47 317.00,209.06 317.25,209.16 317.50,208.40 317.75,209.52 318.00,209.02 318.25,209.15 318.50,208.66 318.75,209.05 319.00,209.15 319.25,208.91 319.50,209.08 319.75,208.21 320.00,209.61 320.25,208.63 320.50,208.22 320.75,208.71 321.00,208.77 321.25,209.33 321.50,208.76 321.75,209.25 322.00,208.76 322.25,210.03 322.50,209.38 322.75,209.95 323.00,208.77 323.25,209.45 323.50,208.82 323.75,209.44 324.00,209.49 324.25,208.59 324.50,208.78 324.75,208.78 325.00,208.66 325.25,208.98 325.50,208.90 325.75,208.71 326.00,209.34 326.25,209.53 326.50,208.80 326.75,209.11 327.00,209.35 327.25,209.27 327.50,209.09 327.75,209.71 328.00,209.74 328.25,209.68 328.50,209.34 328.75,210.23 329.00,210.15 329.25,209.31 329.50,209.44 329.75,209.98 330.00,209.21 330.25,209.71 330.50,209.59 330.75,209.31 331.00,209.52 331.25,209.01 331.50,209.44 331.75,208.88 332.00,210.61 332.25,210.33 332.50,210.24 332.75,209.89 333.00,210.19 333.25,210.32 333.50,210.24 333.75,210.23 334.00,209.51 334.25,210.07 334.50,209.71 334.75,209.47 335.00,209.50 335.25,210.15 335.50,210.41 335.75,209.46 336.00,210.72 336.25,210.62 336.50,209.90 336.75,209.87 337.00,210.04 337.25,210.47 337.50,209.93 337.75,209.65 338.00,210.23 338.25,209.27 338.50,210.15 338.75,210.55 339.00,210.20 339.25,210.39 339.50,210.26 339.75,210.34 340.00,210.09 340.25,209.69 340.50,209.91 340.75,209.95 341.00,210.46 341.25,210.59 341.50,210.08 341.75,209.58 342.00,209.56 342.25,209.75 342.50,210.36 342.75,209.90 343.00,209.72 343.25,209.40 343.50,210.03 343.75,209.77 344.00,209.60 344.25,209.63 344.50,210.23 344.75,209.46 345.00,210.17 345.25,209.96 345.50,209.46 345.75,209.76 346.00,209.32 346.25,209.00 346.50,209.19 346.75,208.90 347.00,209.43 347.25,209.19 347.50,209.38 347.75,209.44 348.00,207.82 348.25,209.15 348.50,208.27 348.75,209.01 349.00,208.55 349.25,208.91 349.50,209.37 349.75,208.10 350.00,208.82 350.25,208.67 350.50,207.91 350.75,208.88 351.00,208.60 351.25,208.35 351.50,208.22 351.75,209.76 352.00,208.29 352.25,207.69 352.50,208.01 352.75,208.21 353.00,208.17 353.25,208.27 353.50,207.85 353.75,208.46 354.00,208.03 354.25,207.66 354.50,207.85 354.75,208.00 355.00,208.48 355.25,208.31 355.50,207.96 355.75,208.08 356.00,208.14 356.25,208.84 356.50,207.76 356.75,208.17 357.00,208.25 357.25,207.55 357.50,207.97 357.75,207.93 358.00,207.65 358.25,208.03 358.50,208.17 358.75,208.17 359.00,207.59 359.25,207.68 359.50,208.47 359.75,207.00 360.00,207.43 360.25,207.58 360.50,207.15 360.75,207.20 361.00,206.85 361.25,206.93 361.50,206.99 361.75,206.24 362.00,206.28 362.25,206.08 362.50,205.86 362.75,205.97 363.00,205.52 363.25,206.30 363.50,206.75 363.75,206.85 364.00,206.82 364.25,206.09 364.50,207.27 364.75,206.58 365.00,207.06 365.25,208.03 365.50,207.07 365.75,208.03 366.00,207.99 366.25,207.98 366.50,207.83 366.75,208.46 367.00,208.21 367.25,208.90 367.50,209.04 367.75,208.06 368.00,208.46 368.25,208.59 368.50,208.29 368.75,208.36 369.00,208.89 369.25,208.81 369.50,208.27 369.75,208.75 370.00,209.21 370.25,208.55 370.50,208.70 370.75,209.74 371.00,209.66 371.25,208.51 371.50,208.65 371.75,209.37 372.00,208.77 372.25,209.18 372.50,209.13 372.75,209.56 373.00,208.35 373.25,208.51 373.50,208.94 373.75,209.86 374.00,209.43 374.25,208.84 374.50,209.76 374.75,209.88 375.00,209.53 375.25,209.53 375.50,209.88 375.75,210.22 376.00,209.84 376.25,210.03 376.50,209.83 376.75,209.74 377.00,209.56 377.25,210.06 377.50,209.88 377.75,209.93 378.00,210.44 378.25,210.29 378.50,210.48 378.75,209.53 379.00,210.42 379.25,209.99 379.50,209.92 379.75,209.93 380.00,210.78 380.25,210.65 380.50,210.05 380.75,209.90 381.00,210.38 381.25,210.20 381.50,211.06 381.75,209.83 382.00,209.69 382.25,210.33 382.50,210.44 382.75,210.50 383.00,210.75 383.25,211.29 383.50,210.33 383.75,210.25 384.00,209.77 384.25,210.58 384.50,210.83 384.75,210.39 385.00,210.97 385.25,210.52 385.50,211.12 385.75,210.65 386.00,210.10 386.25,210.28 386.50,209.92 386.75,209.85 387.00,210.65 387.25,210.90 387.50,211.34 387.75,210.54 388.00,210.48 388.25,210.13 388.50,210.98 388.75,210.74 389.00,210.36 389.25,210.88 389.50,210.83 389.75,209.86 390.00,210.91 390.25,210.68 390.50,210.47 390.75,210.47 391.00,211.34 391.25,211.26 391.50,211.38 391.75,210.20 392.00,210.40 392.25,211.03 392.50,210.19 392.75,210.39 393.00,209.96 393.25,211.43 393.50,211.12 393.75,210.88 394.00,210.79 394.25,210.54 394.50,210.56 394.75,210.97 395.00,210.44 395.25,211.22 395.50,210.54 395.75,210.39 396.00,211.27 396.25,210.70 396.50,210.98 396.75,210.60 397.00,209.87 397.25,210.99 397.50,210.24 397.75,211.22 398.00,210.17 398.25,210.05 398.50,210.92 398.75,210.98 399.00,210.85 399.25,210.33 399.50,211.18 399.75,210.24 400.00,210.65 400.25,210.52 400.50,210.69 400.75,211.19 401.00,210.60 401.25,211.08 401.50,211.14 401.75,210.18 402.00,210.41 402.25,210.72 402.50,210.65 402.75,211.01 403.00,210.12 403.25,211.19 403.50,211.20 403.75,210.84 404.00,210.36 404.25,210.92 404.50,210.71 404.75,211.15 405.00,210.90 405.25,211.23 405.50,210.77 405.75,211.52 406.00,210.03 406.25,210.55 406.50,211.16 406.75,210.36 407.00,211.26 407.25,210.49 407.50,211.02 407.75,210.62 408.00,210.81 408.25,211.06 408.50,210.96 408.75,210.85 409.00,211.87 409.25,211.02 409.50,210.63 409.75,211.39 410.00,211.35 410.25,211.52 410.50,211.75 410.75,210.66 411.00,211.47 411.25,211.51 411.50,211.05 411.75,211.16 412.00,209.86 412.25,210.84 412.50,211.79 412.75,210.36 413.00,210.87 413.25,211.20 413.50,211.32 413.75,211.75 414.00,210.40 414.25,211.12 414.50,211.45 414.75,210.59 415.00,211.10 415.25,211.88 415.50,211.65 415.75,211.35 416.00,210.09 416.25,211.09 416.50,211.30 416.75,211.03 417.00,211.13 417.25,212.39 417.50,211.08 417.75,210.78 418.00,211.27 418.25,211.05 418.50,211.06 418.75,211.15 419.00,211.50 419.25,211.29 419.50,210.72 419.75,211.15 420.00,211.40 420.25,211.03 420.50,211.68 420.75,211.53 421.00,210.83 421.25,211.36 421.50,212.03 421.75,211.86 422.00,211.22 422.25,211.61 422.50,210.98 422.75,210.68 423.00,211.48 423.25,211.36 423.50,211.48 423.75,211.26 424.00,211.41 424.25,211.08 424.50,211.48 424.75,211.63 425.00,211.27 425.25,211.63 425.50,210.60 425.75,211.00 426.00,211.89 426.25,212.02 426.50,211.42 426.75,211.29 427.00,210.82 427.25,211.48 427.50,211.65 427.75,210.75 428.00,211.57 428.25,211.55 428.50,211.53 428.75,210.91 429.00,211.58 429.25,210.77 429.50,211.97 429.75,211.43 430.00,210.92 430.25,211.93 430.50,211.85 430.75,211.14 431.00,212.28 431.25,211.00 431.50,211.53 431.75,211.89 432.00,210.51 432.25,211.82 432.50,211.40 432.75,211.42 433.00,211.00 433.25,211.57 433.50,211.00 433.75,211.06 434.00,211.27 434.25,210.97 434.50,212.09 434.75,210.93 435.00,211.17 435.25,211.35 435.50,211.48 435.75,211.80 436.00,211.82 436.25,211.37 436.50,211.34 436.75,211.51 437.00,211.83 437.25,211.79 437.50,211.31 437.75,210.69 438.00,212.38 438.25,211.91 438.50,211.64 438.75,211.67 439.00,211.33 439.25,211.14 439.50,211.41 439.75,211.46 440.00,211.31 440.25,210.98 440.50,211.44 440.75,211.80 441.00,211.37 441.25,211.58 441.50,210.75 441.75,211.50 442.00,211.54 442.25,211.10 442.50,210.90 442.75,211.76 443.00,211.28 443.25,211.80 443.50,211.44 443.75,211.86 444.00,211.48 444.25,211.02 444.50,211.59 444.75,211.50 445.00,211.90 445.25,211.46 445.50,211.49 445.75,211.99 446.00,212.12 446.25,211.96 446.50,212.07 446.75,211.84 447.00,211.97 447.25,212.02 447.50,211.83 447.75,211.70 448.00,211.74 448.25,212.65 448.50,211.69 448.75,211.60 449.00,211.55 449.25,211.68 449.50,211.80 449.75,211.25 450.00,210.92 450.25,211.83 450.50,211.07 450.75,211.82 451.00,211.78 451.25,212.19 451.50,212.40 451.75,211.88 452.00,211.52 452.25,211.27 452.50,211.43 452.75,211.76 453.00,210.92 453.25,211.78 453.50,211.75 453.75,212.02 454.00,211.63 454.25,211.81 454.50,211.48 454.75,211.59 455.00,211.07 455.25,211.83 455.50,212.40 455.75,211.85 456.00,211.94 456.25,211.40 456.50,212.37 456.75,211.50 457.00,212.13 457.25,211.85 457.50,211.43 457.75,212.23 458.00,211.83 458.25,211.89 458.50,212.01 458.75,211.82 459.00,211.68 459.25,212.02 459.50,211.68 459.75,211.87 460.00,211.58 460.25,211.25 460.50,211.58 460.75,211.66 461.00,211.87 461.25,212.34 461.50,211.19 461.75,211.92 462.00,210.99 462.25,211.46 462.50,211.68 462.75,210.98 463.00,211.15 463.25,211.95 463.50,211.93 463.75,211.85 464.00,211.58 464.25,212.77 464.50,211.84 464.75,211.57 465.00,212.59 465.25,212.17 465.50,211.77 465.75,212.40 466.00,211.99 466.25,212.19 466.50,212.03 466.75,211.53 467.00,212.33 467.25,212.01 467.50,211.55 467.75,211.65 468.00,212.34 468.25,211.81 468.50,211.98 468.75,212.23 469.00,212.02 469.25,211.37 469.50,212.23 469.75,212.36 470.00,212.33 470.25,212.64 470.50,212.14 470.75,212.31 471.00,212.64 471.25,211.89 471.50,212.70 471.75,212.71 472.00,212.33 472.25,212.76 472.50,212.36 472.75,211.67 473.00,212.49 473.25,212.17 473.50,212.20 473.75,212.10 474.00,212.59 474.25,212.27 474.50,211.78 474.75,212.25 475.00,212.35 475.25,211.77 475.50,211.90 475.75,211.92 476.00,211.83 476.25,212.22 476.50,212.49 476.75,212.85 477.00,212.57 477.25,212.51 477.50,212.56 477.75,212.64 478.00,211.96 478.25,212.39 478.50,212.25 478.75,212.07 479.00,211.94 479.25,211.93 479.50,212.03 479.75,211.64 480.00,212.35 480.25,212.14 480.50,212.19 480.75,212.29 481.00,212.45 481.25,211.93 481.50,212.12 481.75,211.53 482.00,211.29 482.25,211.40 482.50,212.80 482.75,211.46 483.00,212.38 483.25,212.79 483.50,212.02 483.75,212.86 484.00,212.95 484.25,212.59 484.50,213.17 484.75,212.47 485.00,211.94 485.25,212.44 485.50,212.06 485.75,211.72 486.00,211.74 486.25,213.18 486.50,212.04 486.75,212.26 487.00,212.00 487.25,212.33 487.50,212.19 487.75,212.12 488.00,211.81 488.25,211.73 488.50,212.00 488.75,212.42 489.00,213.14 489.25,212.74 489.50,213.05 489.75,212.52 490.00,212.30 490.25,211.81 490.50,212.35 490.75,211.49 491.00,212.23 491.25,213.01 491.50,212.50 491.75,212.82 492.00,212.22 492.25,211.83 492.50,212.20 492.75,212.24 493.00,212.88 493.25,213.20 493.50,212.11 493.75,212.27 494.00,212.36 494.25,212.29 494.50,211.94 494.75,212.48 495.00,212.59 495.25,212.61 495.50,211.98 495.75,212.42 496.00,211.77 496.25,212.84 496.50,212.08 496.75,212.38 497.00,212.32 497.25,212.27 497.50,212.09 497.75,211.81 498.00,213.22 498.25,212.63 498.50,212.64 498.75,213.38 499.00,212.51 499.25,212.78 499.50,212.57 499.75,213.04 500.00,212.78 500.25,212.71 500.50,212.49 500.75,212.71 501.00,213.07 501.25,211.78 501.50,212.57 501.75,212.46 502.00,212.51 502.25,211.85 502.50,212.94 502.75,212.32 503.00,212.57 503.25,212.47 503.50,212.01 503.75,212.51 504.00,211.95 504.25,212.32 504.50,212.58 504.75,212.71 505.00,212.74 505.25,212.67 505.50,213.59 505.75,212.92 506.00,212.26 506.25,212.52 506.50,212.51 506.75,212.71 507.00,212.54 507.25,212.45 507.50,213.46 507.75,212.83 508.00,212.68 508.25,212.72 508.50,212.75 508.75,213.40 509.00,213.04 509.25,213.31 509.50,211.62 509.75,213.01 510.00,213.31 510.25,213.68 510.50,212.91 510.75,212.22 511.00,213.15 511.25,212.69 511.50,212.22 511.75,212.70 512.00,213.38 512.25,213.44 512.50,213.26 512.75,212.56 513.00,213.99 513.25,212.53 513.50,212.97 513.75,212.44 514.00,213.55 514.25,213.21 514.50,213.40 514.75,213.09 515.00,213.03 515.25,213.14 515.50,212.32 515.75,213.49 516.00,213.46 516.25,212.95 516.50,213.11 516.75,213.25 517.00,213.76 517.25,213.32 517.50,213.17 517.75,212.96 518.00,212.57 518.25,212.94 518.50,213.22 518.75,213.10 519.00,213.24 519.25,213.52 519.50,213.40 519.75,213.35 520.00,213.51 520.25,213.33 520.50,213.26 520.75,213.47 521.00,212.60 521.25,213.80 521.50,212.79 521.75,213.65 522.00,213.33 522.25,213.78 522.50,213.36 522.75,212.98 523.00,213.80 523.25,213.45 523.50,213.44 523.75,213.43 524.00,213.81 524.25,213.75 524.50,213.52 524.75,212.82 525.00,213.29 525.25,213.50 525.50,214.19 525.75,213.63 526.00,213.45 526.25,213.98 526.50,213.47 526.75,213.51 527.00,213.59 527.25,212.94 527.50,213.93 527.75,213.73 528.00,213.46 528.25,213.13 528.50,213.68 528.75,214.16 529.00,213.36 529.25,213.20 529.50,213.80 529.75,213.01 530.00,212.77 530.25,213.49 530.50,213.40 530.75,213.58 531.00,213.48 531.25,213.84 531.50,213.63 531.75,213.49 532.00,213.56 532.25,214.00 532.50,214.14 532.75,214.13 533.00,214.06 533.25,212.47 533.50,213.40 533.75,213.68 534.00,213.89" stroke="#1566e4"/>
<path d="M36.00,151.90 36.25,153.13 36.50,152.69 36.75,152.34 37.00,152.67 37.25,152.48 37.50,152.34 37.75,152.86 38.00,152.50 38.25,152.14 38.50,152.47 38.75,152.70 39.00,152.33 39.25,153.29 39.50,152.37 39.75,153.52 40.00,153.20 40.25,152.48 40.50,152.93 40.75,153.37 41.00,152.84 41.25,152.46 41.50,153.01 41.75,153.78 42.00,152.40 42.25,153.24 42.50,153.04 42.75,153.01 43.00,152.92 43.25,152.97 43.50,153.54 43.75,153.38 44.00,152.76 44.25,153.80 44.50,152.68 44.75,153.48 45.00,153.31 45.25,153.74 45.50,153.42 45.75,153.72 46.00,153.31 46.25,153.73 46.50,153.50 46.75,154.24 47.00,153.12 47.25,153.90 47.50,153.63 47.75,153.53 48.00,153.25 48.25,153.68 48.50,152.93 48.75,152.99 49.00,153.84 49.25,152.96 49.50,154.17 49.75,153.51 50.00,153.74 50.25,153.69 50.50,153.85 50.75,153.59 51.00,153.57 51.25,153.69 51.50,154.18 51.75,154.23 52.00,154.31 52.25,153.96 52.50,153.76 52.75,153.19 53.00,154.14 53.25,154.24 53.50,153.76 53.75,154.26 54.00,154.48 54.25,154.02 54.50,154.43 54.75,154.15 55.00,153.35 55.25,153.88 55.50,153.93 55.75,154.32 56.00,153.79 56.25,153.98 56.50,153.79 56.75,154.18 57.00,154.25 57.25,154.63 57.50,154.58 57.75,154.35 58.00,154.40 58.25,154.37 58.50,154.40 58.75,154.99 59.00,153.40 59.25,154.35 59.50,154.56 59.75,154.91 60.00,154.04 60.25,154.64 60.50,154.87 60.75,154.37 61.00,153.80 61.25,154.44 61.50,154.13 61.75,154.89 62.00,154.31 62.25,155.38 62.50,154.75 62.75,154.39 63.00,154.53 63.25,154.32 63.50,154.93 63.75,155.39 64.00,154.73 64.25,155.20 64.50,154.47 64.75,154.99 65.00,155.81 65.25,154.34 65.50,155.42 65.75,155.41 66.00,154.21 66.25,154.40 66.50,154.60 66.75,155.40 67.00,154.86 67.25,154.98 67.50,155.34 67.75,155.12 68.00,155.18 68.25,154.98 68.50,155.57 68.75,154.82 69.00,155.82 69.25,155.03 69.50,154.86 69.75,155.45 70.00,155.38 70.25,154.43 70.50,155.32 70.75,154.71 71.00,154.93 71.25,155.59 71.50,154.95 71.75,155.45 72.00,155.17 72.25,156.11 72.50,155.31 72.75,154.89 73.00,154.94 73.25,155.03 73.50,155.46 73.75,155.42 74.00,155.82 74.25,155.52 74.50,155.51 74.75,155.61 75.00,155.44 75.25,155.62 75.50,155.83 75.75,155.84 76.00,155.33 76.25,154.85 76.50,155.25 76.75,155.69 77.00,154.60 77.25,155.42 77.50,155.80 77.75,155.40 78.00,155.19 78.25,156.35 78.50,156.22 78.75,155.57 79.00,156.21 79.25,156.21 79.50,155.25 79.75,156.79 80.00,155.35 80.25,155.63 80.50,155.30 80.75,155.78 81.00,155.23 81.25,155.76 81.50,156.20 81.75,155.86 82.00,155.68 82.25,156.41 82.50,155.43 82.75,156.18 83.00,155.68 83.25,155.89 83.50,155.82 83.75,155.86 84.00,155.79 84.25,155.50 84.50,155.59 84.75,155.99 85.00,155.78 85.25,155.35 85.50,155.54 85.75,155.54 86.00,155.79 86.25,155.89 86.50,155.85 86.75,155.55 87.00,155.82 87.25,155.26 87.50,154.66 87.75,155.78 88.00,155.14 88.25,155.42 88.50,155.32 88.75,156.05 89.00,155.31 89.25,155.90 89.50,155.59 89.75,155.29 90.00,155.15 90.25,155.96 90.50,155.93 90.75,156.08 91.00,156.50 91.25,155.87 91.50,155.87 91.75,155.70 92.00,155.79 92.25,155.60 92.50,155.38 92.75,156.53 93.00,154.98 93.25,155.83 93.50,155.90 93.75,155.77 94.00,155.32 94.25,155.63 94.50,155.51 94.75,155.26 95.00,155.67 95.25,155.51 95.50,155.45 95.75,155.94 96.00,155.24 96.25,155.83 96.50,155.40 96.75,155.81 97.00,155.66 97.25,155.72 97.50,155.23 97.75,155.30 98.00,155.26 98.25,155.67 98.50,155.89 98.75,156.01 99.00,155.37 99.25,155.60 99.50,154.91 99.75,154.67 100.00,155.20 100.25,155.27 100.50,154.91 100.75,154.81 101.00,155.72 101.25,155.18 101.50,154.82 101.75,156.41 102.00,155.54 102.25,155.34 102.50,155.72 102.75,155.13 103.00,156.06 103.25,154.80 103.50,154.87 103.75,155.32 104.00,155.06 104.25,155.91 104.50,154.69 104.75,155.01 105.00,155.38 105.25,155.49 105.50,155.64 105.75,155.36 106.00,156.07 106.25,154.98 106.50,155.22 106.75,155.46 107.00,154.97 107.25,154.95 107.50,154.86 107.75,154.76 108.00,154.54 108.25,154.74 108.50,154.31 108.75,155.05 109.00,154.23 109.25,155.66 109.50,155.48 109.75,155.21 110.00,154.65 110.25,154.47 110.50,155.16 110.75,154.71 111.00,154.83 111.25,154.28 111.50,154.96 111.75,154.18 112.00,154.51 112.25,153.74 112.50,154.13 112.75,154.56 113.00,154.14 113.25,154.10 113.50,154.56 113.75,154.18 114.00,154.66 114.25,153.17 114.50,154.32 114.75,154.25 115.00,153.39 115.25,153.45 115.50,154.27 115.75,153.45 116.00,153.57 116.25,154.02 116.50,153.59 116.75,153.86 117.00,153.27 117.25,153.68 117.50,153.94 117.75,153.58 118.00,152.51 118.25,153.59 118.50,153.29 118.75,152.84 119.00,153.69 119.25,152.38 119.50,153.75 119.75,152.69 120.00,153.50 120.25,152.79 120.50,152.21 120.75,152.71 121.00,152.73 121.25,152.75 121.50,152.88 121.75,152.03 122.00,152.51 122.25,152.53 122.50,152.05 122.75,151.71 123.00,151.62 123.25,152.21 123.50,152.15 123.75,151.41 124.00,151.12 124.25,152.06 124.50,150.85 124.75,151.44 125.00,150.96 125.25,150.48 125.50,151.13 125.75,150.90 126.00,151.43 126.25,151.65 126.50,150.55 126.75,150.91 127.00,150.79 127.25,150.04 127.50,149.76 127.75,150.61 128.00,149.68 128.25,149.66 128.50,149.40 128.75,149.31 129.00,148.96 129.25,149.33 129.50,149.37 129.75,148.55 130.00,147.97 130.25,148.36 130.50,147.57 130.75,147.72 131.00,148.28 131.25,148.52 131.50,147.55 131.75,146.77 132.00,147.30 132.25,145.88 132.50,146.28 132.75,146.94 133.00,146.41 133.25,145.33 133.50,144.99 133.75,145.75 134.00,145.15 134.25,144.69 134.50,144.83 134.75,144.19 135.00,143.39 135.25,144.20 135.50,143.35 135.75,142.92 136.00,142.49 136.25,142.82 136.50,142.09 136.75,142.35 137.00,141.67 137.25,141.89 137.50,140.98 137.75,140.55 138.00,139.71 138.25,139.74 138.50,140.16 138.75,140.79 139.00,138.78 139.25,138.57 139.50,138.84 139.75,138.62 140.00,137.89 140.25,137.92 140.50,136.97 140.75,137.23 141.00,137.44 141.25,137.47 141.50,136.49 141.75,136.20 142.00,136.24 142.25,136.27 142.50,135.80 142.75,135.11 143.00,135.36 143.25,135.42 143.50,134.60 143.75,134.21 144.00,134.82 144.25,134.66 144.50,134.80 144.75,134.37 145.00,134.00 145.25,134.01 145.50,133.71 145.75,133.68 146.00,133.77 146.25,133.75 146.50,134.33 146.75,133.35 147.00,133.78 147.25,133.52 147.50,134.31 147.75,133.79 148.00,133.51 148.25,133.95 148.50,133.63 148.75,133.39 149.00,134.17 149.25,133.83 149.50,134.22 149.75,133.97 150.00,133.81 150.25,133.53 150.50,133.04 150.75,133.74 151.00,133.47 151.25,133.70 151.50,133.42 151.75,133.14 152.00,133.01 152.25,133.68 152.50,133.91 152.75,133.28 153.00,133.58 153.25,133.95 153.50,133.08 153.75,133.30 154.00,133.01 154.25,133.96 154.50,133.64 154.75,133.40 155.00,132.98 155.25,133.63 155.50,134.16 155.75,133.72 156.00,133.74 156.25,134.24 156.50,133.57 156.75,134.16 157.00,134.46 157.25,134.00 157.50,134.06 157.75,134.57 158.00,134.51 158.25,134.54 158.50,134.80 158.75,134.90 159.00,134.53 159.25,134.73 159.50,135.26 159.75,135.63 160.00,135.82 160.25,135.05 160.50,135.93 160.75,135.91 161.00,135.70 161.25,136.03 161.50,136.28 161.75,136.78 162.00,135.78 162.25,136.57 162.50,136.41 162.75,136.52 163.00,137.20 163.25,137.23 163.50,136.66 163.75,137.11 164.00,137.48 164.25,137.00 164.50,138.08 164.75,137.89 165.00,138.17 165.25,138.42 165.50,139.18 165.75,138.67 166.00,138.69 166.25,139.71 166.50,139.00 166.75,139.17 167.00,139.01 167.25,140.16 167.50,140.02 167.75,140.28 168.00,140.34 168.25,140.40 168.50,140.32 168.75,140.50 169.00,141.16 169.25,141.22 169.50,141.99 169.75,141.22 170.00,141.50 170.25,141.46 170.50,142.58 170.75,141.71 171.00,142.67 171.25,143.09 171.50,142.62 171.75,143.12 172.00,142.14 172.25,142.98 172.50,142.62 172.75,143.49 173.00,143.57 173.25,143.40 173.50,144.22 173.75,144.12 174.00,143.91 174.25,144.04 174.50,143.79 174.75,144.43 175.00,145.46 175.25,144.46 175.50,145.03 175.75,144.76 176.00,145.41 176.25,145.38 176.50,145.22 176.75,144.73 177.00,145.34 177.25,146.13 177.50,145.67 177.75,146.12 178.00,145.78 178.25,145.33 178.50,146.33 178.75,146.36 179.00,146.07 179.25,146.21 179.50,146.51 179.75,146.19 180.00,146.58 180.25,146.38 180.50,145.52 180.75,146.39 181.00,146.20 181.25,146.09 181.50,146.56 181.75,146.18 182.00,146.56 182.25,146.75 182.50,146.35 182.75,145.65 183.00,145.94 183.25,146.55 183.50,146.06 183.75,145.80 184.00,146.05 184.25,146.25 184.50,146.12 184.75,146.23 185.00,145.61 185.25,145.78 185.50,145.75 185.75,145.79 186.00,144.92 186.25,145.61 186.50,145.12 186.75,146.14 187.00,146.15 187.25,146.14 187.50,145.73 187.75,145.15 188.00,145.65 188.25,145.12 188.50,145.36 188.75,144.68 189.00,144.71 189.25,145.04 189.50,145.45 189.75,144.64 190.00,145.43 190.25,145.52 190.50,143.81 190.75,144.19 191.00,143.70 191.25,143.90 191.50,143.62 191.75,143.68 192.00,143.97 192.25,143.83 192.50,143.42 192.75,143.19 193.00,143.09 193.25,142.95 193.50,142.99 193.75,142.61 194.00,142.66 194.25,141.79 194.50,142.46 194.75,142.68 195.00,141.91 195.25,141.12 195.50,142.05 195.75,141.22 196.00,140.01 196.25,140.94 196.50,141.11 196.75,140.86 197.00,141.03 197.25,140.62 197.50,140.26 197.75,139.26 198.00,139.43 198.25,139.77 198.50,139.79 198.75,138.93 199.00,138.91 199.25,139.15 199.50,138.01 199.75,137.80 200.00,138.27 200.25,138.24 200.50,137.73 200.75,136.77 201.00,137.45 201.25,136.66 201.50,137.19 201.75,136.63 202.00,136.52 202.25,136.41 202.50,135.69 202.75,135.97 203.00,135.89 203.25,135.32 203.50,135.47 203.75,134.47 204.00,134.88 204.25,134.43 204.50,133.75 204.75,133.93 205.00,133.58 205.25,133.41 205.50,133.51 205.75,133.74 206.00,133.05 206.25,133.07 206.50,132.30 206.75,132.78 207.00,133.06 207.25,132.78 207.50,132.52 207.75,131.98 208.00,131.67 208.25,131.89 208.50,131.27 208.75,131.19 209.00,131.93 209.25,131.07 209.50,132.02 209.75,130.62 210.00,131.22 210.25,130.45 210.50,130.83 210.75,130.19 211.00,130.44 211.25,130.17 211.50,129.84 211.75,129.99 212.00,130.14 212.25,129.04 212.50,129.35 212.75,128.74 213.00,128.38 213.25,128.94 213.50,126.87 213.75,127.10 214.00,126.28 214.25,126.47 214.50,126.09 214.75,127.24 215.00,125.40 215.25,125.47 215.50,124.74 215.75,123.49 216.00,123.27 216.25,123.13 216.50,121.91 216.75,121.29 217.00,120.76 217.25,119.31 217.50,118.93 217.75,118.72 218.00,118.13 218.25,116.87 218.50,116.41 218.75,115.77 219.00,115.03 219.25,114.61 219.50,113.59 219.75,112.82 220.00,111.37 220.25,110.69 220.50,110.39 220.75,108.79 221.00,108.68 221.25,107.47 221.50,106.57 221.75,106.30 222.00,104.93 222.25,104.01 222.50,103.23 222.75,102.66 223.00,102.87 223.25,100.09 223.50,100.08 223.75,99.17 224.00,98.85 224.25,97.56 224.50,96.01 224.75,96.84 225.00,95.26 225.25,95.10 225.50,94.07 225.75,93.74 226.00,93.61 226.25,93.87 226.50,93.67 226.75,93.00 227.00,93.43 227.25,93.16 227.50,93.50 227.75,93.73 228.00,94.18 228.25,94.00 228.50,94.54 228.75,95.07 229.00,95.46 229.25,95.59 229.50,97.12 229.75,96.83 230.00,97.95 230.25,98.43 230.50,99.57 230.75,99.01 231.00,101.52 231.25,101.48 231.50,101.93 231.75,103.33 232.00,105.03 232.25,105.19 232.50,105.35 232.75,106.52 233.00,108.12 233.25,107.93 233.50,109.34 233.75,110.25 234.00,112.20 234.25,112.21 234.50,113.84 234.75,114.04 235.00,114.97 235.25,116.66 235.50,117.49 235.75,117.55 236.00,119.50 236.25,120.54 236.50,121.10 236.75,122.51 237.00,123.61 237.25,124.37 237.50,125.36 237.75,126.31 238.00,127.39 238.25,127.84 238.50,129.18 238.75,129.38 239.00,130.75 239.25,131.40 239.50,131.71 239.75,133.12 240.00,134.19 240.25,134.56 240.50,134.08 240.75,135.70 241.00,135.82 241.25,136.24 241.50,136.53 241.75,137.26 242.00,138.28 242.25,138.39 242.50,138.44 242.75,138.75 243.00,139.25 243.25,140.02 243.50,140.88 243.75,140.06 244.00,140.80 244.25,140.95 244.50,141.10 244.75,141.84 245.00,142.17 245.25,141.64 245.50,142.04 245.75,143.16 246.00,143.04 246.25,143.34 246.50,143.14 246.75,143.39 247.00,143.92 247.25,143.73 247.50,143.67 247.75,144.29 248.00,144.82 248.25,144.21 248.50,145.20 248.75,145.21 249.00,144.74 249.25,145.23 249.50,145.35 249.75,145.75 250.00,145.90 250.25,145.25 250.50,145.35 250.75,146.41 251.00,146.17 251.25,146.41 251.50,146.49 251.75,147.08 252.00,146.10 252.25,147.12 252.50,146.48 252.75,147.20 253.00,147.55 253.25,146.58 253.50,147.39 253.75,147.22 254.00,147.32 254.25,147.55 254.50,147.21 254.75,147.34 255.00,148.08 255.25,148.25 255.50,147.78 255.75,147.52 256.00,149.10 256.25,148.70 256.50,148.49 256.75,148.03 257.00,148.28 257.25,148.69 257.50,148.29 257.75,149.38 258.00,148.88 258.25,149.06 258.50,148.57 258.75,148.69 259.00,148.80 259.25,149.29 259.50,149.15 259.75,149.20 260.00,149.51 260.25,149.54 260.50,150.10 260.75,149.50 261.00,149.24 261.25,149.69 261.50,150.34 261.75,149.60 262.00,149.90 262.25,149.79 262.50,150.15 262.75,150.14 263.00,149.77 263.25,150.05 263.50,150.55 263.75,150.65 264.00,150.63 264.25,150.64 264.50,150.20 264.75,150.22 265.00,150.76 265.25,149.96 265.50,150.43 265.75,149.75 266.00,150.35 266.25,150.25 266.50,150.08 266.75,150.80 267.00,150.31 267.25,150.47 267.50,150.54 267.75,150.37 268.00,151.24 268.25,150.51 268.50,150.80 268.75,150.23 269.00,150.58 269.25,150.65 269.50,150.68 269.75,150.59 270.00,150.90 270.25,151.48 270.50,150.83 270.75,150.85 271.00,150.77 271.25,151.94 271.50,151.59 271.75,151.20 272.00,151.27 272.25,150.73 272.50,150.96 272.75,151.12 273.00,151.09 273.25,150.72 273.50,150.76 273.75,151.27 274.00,151.20 274.25,150.25 274.50,151.12 274.75,151.58 275.00,150.83 275.25,151.18 275.50,150.51 275.75,151.40 276.00,150.64 276.25,150.58 276.50,150.94 276.75,151.99 277.00,150.82 277.25,150.55 277.50,151.22 277.75,151.13 278.00,151.68 278.25,150.53 278.50,150.39 278.75,150.89 279.00,151.15 279.25,151.14 279.50,151.41 279.75,150.39 280.00,150.65 280.25,150.91 280.50,151.29 280.75,151.14 281.00,150.78 281.25,150.54 281.50,151.28 281.75,151.30 282.00,151.98 282.25,150.85 282.50,151.55 282.75,150.43 283.00,150.69 283.25,150.63 283.50,150.71 283.75,150.55 284.00,150.68 284.25,150.87 284.50,150.71 284.75,151.15 285.00,150.86 285.25,150.89 285.50,151.47 285.75,151.02 286.00,150.96 286.25,150.89 286.50,150.93 286.75,151.13 287.00,150.59 287.25,151.36 287.50,151.53 287.75,151.37 288.00,150.73 288.25,150.31 288.50,150.77 288.75,151.00 289.00,151.27 289.25,150.88 289.50,150.84 289.75,151.56 290.00,150.71 290.25,151.40 290.50,151.34 290.75,150.47 291.00,151.11 291.25,150.79 291.50,150.65 291.75,150.30 292.00,150.42 292.25,151.21 292.50,150.90 292.75,151.17 293.00,150.65 293.25,150.95 293.50,150.98 293.75,150.49 294.00,150.45 294.25,151.29 294.50,151.18 294.75,150.77 295.00,151.10 295.25,151.41 295.50,151.88 295.75,150.82 296.00,151.42 296.25,152.02 296.50,151.22 296.75,151.78 297.00,150.20 297.25,151.79 297.50,151.23 297.75,150.51 298.00,151.56 298.25,151.67 298.50,151.74 298.75,151.75 299.00,151.27 299.25,151.00 299.50,151.12 299.75,151.30 300.00,151.48 300.25,151.14 300.50,151.35 300.75,151.69 301.00,151.48 301.25,152.26 301.50,152.21 301.75,150.93 302.00,151.16 302.25,150.88 302.50,150.94 302.75,151.62 303.00,151.03 303.25,151.02 303.50,151.33 303.75,151.76 304.00,151.31 304.25,151.32 304.50,151.83 304.75,151.67 305.00,151.67 305.25,151.87 305.50,151.11 305.75,151.60 306.00,151.28 306.25,151.94 306.50,151.87 306.75,151.15 307.00,152.09 307.25,151.12 307.50,152.05 307.75,151.68 308.00,151.27 308.25,151.18 308.50,151.51 308.75,151.63 309.00,151.37 309.25,151.89 309.50,151.12 309.75,151.68 310.00,151.70 310.25,150.97 310.50,151.84 310.75,151.24 311.00,150.76 311.25,151.52 311.50,151.68 311.75,152.14 312.00,151.61 312.25,152.39 312.50,152.39 312.75,152.27 313.00,152.38 313.25,152.01 313.50,151.67 313.75,152.16 314.00,152.30 314.25,152.03 314.50,151.86 314.75,151.35 315.00,152.26 315.25,152.15 315.50,151.52 315.75,152.10 316.00,152.36 316.25,152.06 316.50,152.44 316.75,152.45 317.00,151.60 317.25,152.09 317.50,152.43 317.75,152.62 318.00,152.85 318.25,151.56 318.50,152.32 318.75,152.66 319.00,152.89 319.25,153.11 319.50,152.10 319.75,152.35 320.00,152.12 320.25,152.89 320.50,152.07 320.75,153.09 321.00,153.03 321.25,152.88 321.50,151.86 321.75,152.48 322.00,153.08 322.25,152.25 322.50,152.75 322.75,152.83 323.00,153.25 323.25,153.04 323.50,153.07 323.75,152.82 324.00,153.02 324.25,152.99 324.50,153.36 324.75,153.03 325.00,153.53 325.25,152.48 325.50,153.65 325.75,153.13 326.00,153.67 326.25,153.28 326.50,153.60 326.75,153.88 327.00,153.09 327.25,153.35 327.50,153.27 327.75,153.44 328.00,152.73 328.25,153.32 328.50,153.30 328.75,153.11 329.00,153.35 329.25,152.84 329.50,154.01 329.75,153.65 330.00,154.23 330.25,153.16 330.50,153.05 330.75,153.64 331.00,152.88 331.25,153.64 331.50,153.29 331.75,153.45 332.00,153.69 332.25,153.62 332.50,154.35 332.75,153.88 333.00,153.13 333.25,154.04 333.50,153.14 333.75,153.71 334.00,153.19 334.25,153.37 334.50,154.22 334.75,153.49 335.00,153.47 335.25,153.51 335.50,153.61 335.75,154.31 336.00,153.29 336.25,153.27 336.50,153.99 336.75,153.14 337.00,153.63 337.25,154.22 337.50,153.78 337.75,153.59 338.00,153.50 338.25,153.41 338.50,153.54 338.75,153.82 339.00,154.24 339.25,154.12 339.50,153.49 339.75,153.41 340.00,153.94 340.25,152.92 340.50,153.43 340.75,153.44 341.00,153.09 341.25,153.09 341.50,153.57 341.75,152.74 342.00,152.98 342.25,153.03 342.50,153.27 342.75,152.64 343.00,153.55 343.25,152.95 343.50,152.91 343.75,152.81 344.00,152.63 344.25,152.46 344.50,153.24 344.75,152.81 345.00,152.63 345.25,153.00 345.50,152.27 345.75,152.73 346.00,152.43 346.25,152.00 346.50,152.58 346.75,151.62 347.00,152.39 347.25,151.70 347.50,152.13 347.75,152.44 348.00,152.03 348.25,151.49 348.50,151.63 348.75,151.41 349.00,151.01 349.25,150.95 349.50,151.32 349.75,151.43 350.00,150.45 350.25,151.03 350.50,151.18 350.75,150.95 351.00,150.43 351.25,151.16 351.50,150.21 351.75,150.87 352.00,151.18 352.25,149.69 352.50,150.54 352.75,150.50 353.00,150.42 353.25,149.98 353.50,150.11 353.75,149.64 354.00,150.20 354.25,150.32 354.50,149.81 354.75,149.67 355.00,149.81 355.25,149.95 355.50,149.94 355.75,149.84 356.00,149.87 356.25,149.29 356.50,148.69 356.75,149.97 357.00,150.24 357.25,149.08 357.50,149.32 357.75,149.65 358.00,149.85 358.25,149.66 358.50,149.84 358.75,149.24 359.00,149.34 359.25,149.23 359.50,148.77 359.75,149.25 360.00,148.83 360.25,148.76 360.50,147.97 360.75,148.26 361.00,147.16 361.25,147.44 361.50,145.98 361.75,146.34 362.00,146.79 362.25,146.14 362.50,146.24 362.75,145.45 363.00,146.67 363.25,146.35 363.50,146.22 363.75,146.58 364.00,146.79 364.25,147.50 364.50,147.36 364.75,147.05 365.00,147.89 365.25,148.85 365.50,148.93 365.75,148.87 366.00,149.57 366.25,149.63 366.50,150.04 366.75,149.35 367.00,149.76 367.25,150.48 367.50,150.22 367.75,150.51 368.00,151.20 368.25,150.37 368.50,150.63 368.75,150.36 369.00,150.38 369.25,150.63 369.50,150.13 369.75,149.91 370.00,151.30 370.25,150.75 370.50,151.26 370.75,150.90 371.00,150.94 371.25,151.17 371.50,151.21 371.75,150.49 372.00,151.46 372.25,150.64 372.50,151.12 372.75,152.07 373.00,151.14 373.25,151.79 373.50,151.04 373.75,151.45 374.00,151.27 374.25,151.46 374.50,151.00 374.75,151.02 375.00,151.56 375.25,150.86 375.50,151.19 375.75,151.82 376.00,151.38 376.25,151.33 376.50,151.29 376.75,151.84 377.00,151.69 377.25,151.94 377.50,151.86 377.75,152.71 378.00,151.87 378.25,151.33 378.50,152.19 378.75,152.20 379.00,152.31 379.25,151.67 379.50,152.78 379.75,152.37 380.00,152.42 380.25,151.86 380.50,152.70 380.75,152.53 381.00,153.12 381.25,152.47 381.50,152.19 381.75,152.76 382.00,152.38 382.25,152.93 382.50,152.38 382.75,152.78 383.00,152.78 383.25,152.88 383.50,152.72 383.75,152.63 384.00,152.95 384.25,152.77 384.50,153.08 384.75,152.93 385.00,152.18 385.25,153.05 385.50,153.63 385.75,153.23 386.00,153.36 386.25,153.32 386.50,152.98 386.75,152.66 387.00,153.51 387.25,153.62 387.50,153.44 387.75,153.40 388.00,153.41 388.25,153.26 388.50,153.39 388.75,153.31 389.00,153.44 389.25,152.97 389.50,153.10 389.75,153.58 390.00,153.25 390.25,152.46 390.50,153.45 390.75,152.54 391.00,154.17 391.25,153.73 391.50,153.72 391.75,153.22 392.00,153.06 392.25,153.43 392.50,153.53 392.75,153.24 393.00,153.61 393.25,153.83 393.50,153.81 393.75,153.19 394.00,152.77 394.25,153.62 394.50,153.38 394.75,153.82 395.00,154.29 395.25,154.30 395.50,153.80 395.75,154.13 396.00,154.34 396.25,153.74 396.50,153.84 396.75,154.08 397.00,153.75 397.25,153.59 397.50,153.50 397.75,153.81 398.00,153.58 398.25,154.13 398.50,153.71 398.75,154.41 399.00,154.33 399.25,153.40 399.50,154.30 399.75,153.75 400.00,154.44 400.25,154.12 400.50,153.92 400.75,154.21 401.00,153.75 401.25,154.10 401.50,154.13 401.75,153.94 402.00,154.16 402.25,153.64 402.50,154.24 402.75,153.58 403.00,154.29 403.25,154.25 403.50,154.35 403.75,153.88 404.00,155.26 404.25,154.02 404.50,154.18 404.75,153.84 405.00,154.69 405.25,153.97 405.50,154.54 405.75,153.82 406.00,154.30 406.25,154.05 406.50,154.56 406.75,154.11 407.00,153.90 407.25,154.41 407.50,153.79 407.75,153.89 408.00,154.56 408.25,153.57 408.50,154.58 408.75,154.14 409.00,153.96 409.25,154.41 409.50,154.57 409.75,154.11 410.00,154.28 410.25,154.66 410.50,154.65 410.75,154.35 411.00,154.09 411.25,154.03 411.50,154.18 411.75,154.67 412.00,154.64 412.25,154.54 412.50,154.97 412.75,154.33 413.00,154.31 413.25,154.32 413.50,155.20 413.75,153.70 414.00,154.60 414.25,154.67 414.50,154.53 414.75,155.40 415.00,154.97 415.25,154.83 415.50,154.20 415.75,154.74 416.00,154.42 416.25,154.58 416.50,154.65 416.75,154.40 417.00,154.83 417.25,155.22 417.50,155.00 417.75,154.70 418.00,153.90 418.25,155.04 418.50,155.05 418.75,154.58 419.00,154.48 419.25,154.91 419.50,154.37 419.75,154.98 420.00,154.28 420.25,154.35 420.50,154.71 420.75,154.16 421.00,154.72 421.25,154.92 421.50,154.24 421.75,155.09 422.00,154.53 422.25,154.96 422.50,154.84 422.75,154.59 423.00,154.58 423.25,154.14 423.50,154.52 423.75,154.50 424.00,155.42 424.25,155.19 424.50,154.30 424.75,155.12 425.00,154.91 425.25,154.69 425.50,155.01 425.75,155.14 426.00,154.64 426.25,154.76 426.50,154.93 426.75,154.50 427.00,154.95 427.25,154.85 427.50,154.64 427.75,154.58 428.00,155.02 428.25,155.24 428.50,155.04 428.75,154.60 429.00,155.21 429.25,155.00 429.50,155.16 429.75,155.38 430.00,154.61 430.25,154.90 430.50,154.74 430.75,154.64 431.00,155.72 431.25,155.33 431.50,154.32 431.75,155.15 432.00,154.79 432.25,155.43 432.50,155.04 432.75,154.95 433.00,155.07 433.25,155.17 433.50,155.04 433.75,154.95 434.00,154.99 434.25,155.24 434.50,154.63 434.75,155.06 435.00,155.02 435.25,154.89 435.50,155.35 435.75,154.60 436.00,154.95 436.25,154.77 436.50,155.30 436.75,154.93 437.00,155.12 437.25,155.25 437.50,154.52 437.75,155.29 438.00,154.85 438.25,155.04 438.50,155.09 438.75,155.44 439.00,155.42 439.25,155.81 439.50,155.22 439.75,154.98 440.00,154.98 440.25,155.41 440.50,155.77 440.75,155.31 441.00,154.97 441.25,155.29 441.50,155.29 441.75,155.21 442.00,154.92 442.25,154.26 442.50,155.01 442.75,155.61 443.00,155.30 443.25,154.40 443.50,155.23 443.75,154.54 444.00,155.98 444.25,155.31 444.50,154.79 444.75,155.54 445.00,154.96 445.25,155.46 445.50,155.27 445.75,154.82 446.00,155.51 446.25,154.77 446.50,155.77 446.75,155.30 447.00,154.90 447.25,154.61 447.50,155.89 447.75,155.83 448.00,154.83 448.25,155.91 448.50,155.37 448.75,155.22 449.00,155.28 449.25,155.21 449.50,155.85 449.75,155.38 450.00,154.64 450.25,156.11 450.50,155.66 450.75,154.93 451.00,155.20 451.25,155.00 451.50,155.36 451.75,155.49 452.00,155.44 452.25,155.13 452.50,155.06 452.75,155.68 453.00,155.33 453.25,156.21 453.50,155.07 453.75,155.67 454.00,155.39 454.25,155.09 454.50,155.89 454.75,155.43 455.00,155.05 455.25,155.27 455.50,155.77 455.75,154.94 456.00,155.91 456.25,155.66 456.50,155.30 456.75,155.91 457.00,156.06 457.25,155.64 457.50,155.48 457.75,156.11 458.00,155.98 458.25,155.08 458.50,155.35 458.75,155.35 459.00,155.28 459.25,154.88 459.50,155.78 459.75,155.47 460.00,155.48 460.25,155.97 460.50,155.24 460.75,155.43 461.00,155.56 461.25,155.30 461.50,155.42 461.75,155.75 462.00,155.46 462.25,155.97 462.50,155.19 462.75,155.55 463.00,154.94 463.25,155.44 463.50,155.22 463.75,156.00 464.00,155.77 464.25,155.68 464.50,156.19 464.75,156.04 465.00,155.77 465.25,155.24 465.50,154.96 465.75,155.50 466.00,155.38 466.25,155.27 466.50,155.41 466.75,154.89 467.00,156.08 467.25,155.09 467.50,155.27 467.75,155.74 468.00,154.92 468.25,155.88 468.50,155.89 468.75,155.42 469.00,155.14 469.25,155.37 469.50,154.85 469.75,156.07 470.00,155.57 470.25,155.28 470.50,155.22 470.75,155.78 471.00,156.13 471.25,155.09 471.50,155.35 471.75,154.91 472.00,155.83 472.25,155.64 472.50,156.43 472.75,155.54 473.00,155.42 473.25,155.32 473.50,155.92 473.75,154.98 474.00,155.88 474.25,155.69 474.50,155.41 474.75,155.27 475.00,156.01 475.25,156.32 475.50,155.45 475.75,155.82 476.00,156.28 476.25,155.39 476.50,155.53 476.75,155.17 477.00,155.58 477.25,155.61 477.50,155.48 477.75,155.36 478.00,155.05 478.25,155.14 478.50,155.28 478.75,155.90 479.00,155.47 479.25,155.34 479.50,155.92 479.75,155.88 480.00,155.39 480.25,155.44 480.50,155.93 480.75,155.82 481.00,155.37 481.25,155.78 481.50,155.68 481.75,156.12 482.00,155.37 482.25,156.04 482.50,155.87 482.75,155.33 483.00,156.12 483.25,156.07 483.50,155.22 483.75,156.48 484.00,155.29 484.25,155.38 484.50,155.62 484.75,156.04 485.00,155.97 485.25,155.71 485.50,156.28 485.75,155.91 486.00,156.30 486.25,156.84 486.50,155.85 486.75,154.79 487.00,155.61 487.25,155.37 487.50,155.82 487.75,155.83 488.00,155.33 488.25,155.36 488.50,155.70 488.75,155.73 489.00,154.81 489.25,156.19 489.50,155.84 489.75,155.82 490.00,155.95 490.25,155.44 490.50,155.82 490.75,156.25 491.00,156.27 491.25,156.04 491.50,155.75 491.75,155.55 492.00,156.38 492.25,156.08 492.50,155.72 492.75,155.05 493.00,155.55 493.25,155.15 493.50,156.39 493.75,155.98 494.00,155.62 494.25,155.81 494.50,156.93 494.75,156.40 495.00,155.41 495.25,155.89 495.50,155.47 495.75,155.28 496.00,156.03 496.25,156.91 496.50,156.58 496.75,155.99 497.00,155.84 497.25,156.07 497.50,156.40 497.75,155.43 498.00,155.28 498.25,156.75 498.50,156.13 498.75,156.66 499.00,156.13 499.25,156.62 499.50,155.81 499.75,156.25 500.00,156.67 500.25,156.47 500.50,155.89 500.75,156.43 501.00,155.83 501.25,155.53 501.50,156.31 501.75,156.66 502.00,156.45 502.25,155.63 502.50,156.48 502.75,156.41 503.00,155.97 503.25,155.17 503.50,156.57 503.75,156.52 504.00,156.38 504.25,155.50 504.50,155.61 504.75,156.60 505.00,156.53 505.25,156.42 505.50,156.13 505.75,156.39 506.00,156.03 506.25,156.13 506.50,155.92 506.75,156.37 507.00,156.11 507.25,156.66 507.50,156.58 507.75,155.98 508.00,157.04 508.25,155.87 508.50,156.51 508.75,156.77 509.00,156.86 509.25,155.48 509.50,156.76 509.75,156.86 510.00,156.96 510.25,155.50 510.50,156.13 510.75,156.37 511.00,156.24 511.25,156.96 511.50,156.17 511.75,156.94 512.00,156.68 512.25,155.88 512.50,156.08 512.75,156.30 513.00,156.53 513.25,156.90 513.50,156.44 513.75,156.89 514.00,155.90 514.25,155.32 514.50,156.42 514.75,156.74 515.00,156.43 515.25,156.18 515.50,156.76 515.75,157.37 516.00,156.57 516.25,156.33 516.50,156.29 516.75,157.43 517.00,156.63 517.25,156.91 517.50,157.16 517.75,157.11 518.00,156.32 518.25,157.08 518.50,157.05 518.75,156.92 519.00,157.14 519.25,156.52 519.50,156.72 519.75,156.55 520.00,157.08 520.25,156.52 520.50,156.95 520.75,156.37 521.00,156.77 521.25,156.68 521.50,156.79 521.75,156.90 522.00,156.79 522.25,156.78 522.50,156.05 522.75,157.33 523.00,156.65 523.25,156.82 523.50,156.59 523.75,157.34 524.00,156.59 524.25,157.16 524.50,157.44 524.75,157.64 525.00,157.47 525.25,157.25 525.50,156.53 525.75,157.54 526.00,157.51 526.25,157.38 526.50,157.38 526.75,157.10 527.00,156.88 527.25,157.52 527.50,157.61 527.75,156.70 528.00,157.49 528.25,157.24 528.50,157.50 528.75,157.27 529.00,157.62 529.25,157.59 529.50,157.55 529.75,156.66 530.00,157.55 530.25,157.25 530.50,156.79 530.75,157.54 531.00,156.72 531.25,157.64 531.50,157.96 531.75,157.10 532.00,157.68 532.25,157.51 532.50,157.60 532.75,156.81 533.00,157.60 533.25,157.42 533.50,157.67 533.75,157.39 534.00,157.83" stroke="#14a95e"/>
<path d="M36.00,75.72 36.25,75.88 36.50,76.15 36.75,75.68 37.00,76.00 37.25,75.70 37.50,75.81 37.75,75.40 38.00,75.91 38.25,76.09 38.50,75.57 38.75,75.91 39.00,75.77 39.25,75.16 39.50,75.73 39.75,76.11 40.00,75.40 40.25,74.88 40.50,75.66 40.75,75.32 41.00,76.32 41.25,75.56 41.50,75.57 41.75,75.32 42.00,75.66 42.25,75.33 42.50,75.20 42.75,75.52 43.00,75.23 43.25,76.06 43.50,75.08 43.75,75.50 44.00,75.25 44.25,74.98 44.50,76.17 44.75,74.68 45.00,76.08 45.25,74.94 45.50,75.53 45.75,76.38 46.00,74.65 46.25,74.94 46.50,75.99 46.75,75.53 47.00,75.24 47.25,75.44 47.50,75.07 47.75,75.49 48.00,76.02 48.25,75.28 48.50,75.48 48.75,75.89 49.00,76.19 49.25,75.17 49.50,75.51 49.75,75.17 50.00,75.13 50.25,75.22 50.50,75.12 50.75,74.68 51.00,74.57 51.25,75.06 51.50,75.39 51.75,75.81 52.00,75.12 52.25,75.25 52.50,75.57 52.75,75.59 53.00,75.25 53.25,75.26 53.50,76.01 53.75,75.14 54.00,75.07 54.25,74.61 54.50,75.41 54.75,75.12 55.00,75.96 55.25,75.07 55.50,75.51 55.75,75.54 56.00,75.81 56.25,74.64 56.50,75.75 56.75,75.13 57.00,75.07 57.25,74.98 57.50,74.93 57.75,74.93 58.00,74.14 58.25,75.24 58.50,75.05 58.75,74.63 59.00,74.97 59.25,75.87 59.50,75.11 59.75,74.79 60.00,75.59 60.25,74.60 60.50,74.83 60.75,74.66 61.00,74.76 61.25,75.12 61.50,75.05 61.75,74.52 62.00,74.73 62.25,74.80 62.50,74.59 62.75,74.72 63.00,74.43 63.25,74.41 63.50,74.69 63.75,74.26 64.00,74.80 64.25,74.55 64.50,74.24 64.75,74.35 65.00,74.38 65.25,74.49 65.50,74.58 65.75,74.43 66.00,74.16 66.25,75.04 66.50,74.81 66.75,74.49 67.00,74.80 67.25,74.54 67.50,74.29 67.75,74.41 68.00,75.39 68.25,74.73 68.50,74.73 68.75,74.16 69.00,74.53 69.25,75.16 69.50,74.43 69.75,74.66 70.00,74.72 70.25,74.46 70.50,74.81 70.75,74.27 71.00,74.36 71.25,73.91 71.50,75.16 71.75,74.24 72.00,74.15 72.25,74.63 72.50,73.89 72.75,74.06 73.00,73.74 73.25,74.04 73.50,73.87 73.75,74.21 74.00,73.94 74.25,73.74 74.50,73.84 74.75,73.90 75.00,73.73 75.25,74.27 75.50,74.16 75.75,73.94 76.00,73.41 76.25,74.05 76.50,73.34 76.75,73.89 77.00,73.82 77.25,73.56 77.50,73.45 77.75,73.49 78.00,74.53 78.25,73.62 78.50,73.63 78.75,74.06 79.00,73.84 79.25,74.07 79.50,73.17 79.75,73.20 80.00,74.89 80.25,73.57 80.50,73.46 80.75,73.62 81.00,73.92 81.25,73.06 81.50,73.61 81.75,73.47 82.00,73.72 82.25,73.51 82.50,73.22 82.75,73.07 83.00,72.44 83.25,73.74 83.50,72.78 83.75,73.17 84.00,73.94 84.25,73.12 84.50,73.50 84.75,73.16 85.00,73.49 85.25,73.21 85.50,72.98 85.75,73.67 86.00,73.02 86.25,72.59 86.50,72.95 86.75,73.26 87.00,72.60 87.25,73.30 87.50,73.27 87.75,73.76 88.00,72.67 88.25,73.15 88.50,72.22 88.75,72.68 89.00,72.85 89.25,72.94 89.50,72.73 89.75,72.69 90.00,72.45 90.25,72.49 90.50,72.75 90.75,72.81 91.00,72.81 91.25,72.92 91.50,72.96 91.75,71.78 92.00,72.24 92.25,72.34 92.50,72.13 92.75,72.74 93.00,72.59 93.25,72.23 93.50,72.28 93.75,72.69 94.00,72.04 94.25,72.02 94.50,72.45 94.75,72.25 95.00,72.58 95.25,72.14 95.50,72.25 95.75,71.72 96.00,71.53 96.25,71.85 96.50,70.80 96.75,71.94 97.00,72.12 97.25,71.74 97.50,71.59 97.75,72.06 98.00,71.59 98.25,71.95 98.50,72.38 98.75,71.78 99.00,71.82 99.25,71.62 99.50,71.49 99.75,71.46 100.00,71.35 100.25,71.70 100.50,70.63 100.75,71.11 101.00,71.43 101.25,70.82 101.50,71.07 101.75,70.81 102.00,71.21 102.25,71.34 102.50,71.53 102.75,71.13 103.00,70.63 103.25,70.96 103.50,71.05 103.75,71.34 104.00,69.94 104.25,70.87 104.50,69.99 104.75,70.93 105.00,70.79 105.25,70.78 105.50,70.89 105.75,70.66 106.00,70.23 106.25,70.58 106.50,70.87 106.75,70.33 107.00,70.35 107.25,69.84 107.50,70.71 107.75,70.04 108.00,69.91 108.25,69.98 108.50,69.79 108.75,69.98 109.00,70.53 109.25,70.31 109.50,70.51 109.75,70.50 110.00,69.55 110.25,70.03 110.50,70.38 110.75,70.65 111.00,69.19 111.25,69.15 111.50,69.83 111.75,69.48 112.00,69.19 112.25,69.67 112.50,69.18 112.75,68.57 113.00,69.39 113.25,69.40 113.50,69.55 113.75,69.62 114.00,69.29 114.25,69.08 114.50,68.87 114.75,68.45 115.00,68.86 115.25,69.36 115.50,69.18 115.75,69.67 116.00,68.77 116.25,68.10 116.50,69.04 116.75,69.07 117.00,68.17 117.25,67.95 117.50,68.57 117.75,68.72 118.00,67.97 118.25,68.21 118.50,67.98 118.75,67.77 119.00,67.65 119.25,68.15 119.50,67.89 119.75,67.71 120.00,66.91 120.25,68.51 120.50,67.41 120.75,67.65 121.00,67.20 121.25,67.71 121.50,66.92 121.75,67.46 122.00,67.28 122.25,67.62 122.50,66.78 122.75,66.87 123.00,66.95 123.25,67.77 123.50,66.32 123.75,66.92 124.00,66.48 124.25,66.76 124.50,66.81 124.75,66.53 125.00,66.50 125.25,66.42 125.50,66.00 125.75,66.06 126.00,65.42 126.25,65.83 126.50,65.59 126.75,65.70 127.00,65.99 127.25,65.76 127.50,65.71 127.75,65.85 128.00,64.43 128.25,65.41 128.50,65.14 128.75,65.01 129.00,64.45 129.25,65.05 129.50,65.18 129.75,65.03 130.00,64.50 130.25,64.67 130.50,64.67 130.75,64.90 131.00,64.57 131.25,64.05 131.50,63.93 131.75,63.85 132.00,63.77 132.25,63.39 132.50,63.77 132.75,63.11 133.00,62.96 133.25,63.31 133.50,62.86 133.75,62.89 134.00,62.10 134.25,63.10 134.50,62.71 134.75,62.58 135.00,62.72 135.25,62.54 135.50,62.11 135.75,63.07 136.00,62.05 136.25,62.52 136.50,62.77 136.75,61.76 137.00,61.96 137.25,61.54 137.50,62.18 137.75,61.58 138.00,61.22 138.25,62.07 138.50,61.85 138.75,61.09 139.00,61.81 139.25,61.36 139.50,62.25 139.75,61.80 140.00,60.86 140.25,60.89 140.50,60.58 140.75,60.89 141.00,60.78 141.25,60.96 141.50,60.62 141.75,59.94 142.00,60.10 142.25,60.85 142.50,60.66 142.75,60.05 143.00,59.95 143.25,59.82 143.50,59.78 143.75,59.01 144.00,59.87 144.25,59.15 144.50,59.34 144.75,58.19 145.00,59.12 145.25,59.42 145.50,57.94 145.75,59.25 146.00,58.74 146.25,58.16 146.50,57.73 146.75,58.68 147.00,58.24 147.25,58.28 147.50,57.86 147.75,57.59 148.00,58.16 148.25,57.40 148.50,58.06 148.75,57.03 149.00,57.28 149.25,57.05 149.50,58.08 149.75,56.89 150.00,57.10 150.25,57.77 150.50,57.59 150.75,58.33 151.00,58.18 151.25,57.70 151.50,57.71 151.75,56.73 152.00,57.08 152.25,57.28 152.50,57.33 152.75,56.86 153.00,57.02 153.25,57.04 153.50,57.76 153.75,57.51 154.00,57.21 154.25,57.23 154.50,57.44 154.75,57.05 155.00,57.21 155.25,56.65 155.50,57.56 155.75,57.67 156.00,57.44 156.25,57.49 156.50,57.45 156.75,58.09 157.00,57.39 157.25,56.81 157.50,56.92 157.75,57.61 158.00,57.75 158.25,57.65 158.50,57.69 158.75,57.45 159.00,56.82 159.25,57.13 159.50,56.73 159.75,57.29 160.00,56.93 160.25,57.50 160.50,57.41 160.75,56.75 161.00,57.79 161.25,57.81 161.50,57.00 161.75,57.60 162.00,57.83 162.25,57.45 162.50,57.90 162.75,57.65 163.00,58.00 163.25,57.66 163.50,57.53 163.75,57.79 164.00,57.89 164.25,57.68 164.50,57.41 164.75,57.27 165.00,57.42 165.25,57.33 165.50,57.62 165.75,57.60 166.00,57.48 166.25,57.50 166.50,57.56 166.75,58.08 167.00,57.92 167.25,57.22 167.50,57.59 167.75,57.29 168.00,57.36 168.25,57.29 168.50,57.13 168.75,56.84 169.00,56.40 169.25,57.41 169.50,57.78 169.75,56.97 170.00,57.51 170.25,57.16 170.50,57.42 170.75,57.00 171.00,57.23 171.25,57.29 171.50,56.43 171.75,57.45 172.00,57.35 172.25,56.48 172.50,57.73 172.75,57.51 173.00,57.66 173.25,57.78 173.50,57.54 173.75,57.35 174.00,57.66 174.25,57.73 174.50,58.82 174.75,58.75 175.00,57.92 175.25,58.02 175.50,58.37 175.75,58.53 176.00,58.11 176.25,58.05 176.50,59.25 176.75,58.96 177.00,58.00 177.25,57.97 177.50,58.37 177.75,58.81 178.00,58.97 178.25,58.65 178.50,58.18 178.75,58.91 179.00,59.07 179.25,58.86 179.50,58.68 179.75,59.11 180.00,58.88 180.25,58.48 180.50,58.97 180.75,58.44 181.00,59.33 181.25,59.15 181.50,58.60 181.75,59.08 182.00,59.49 182.25,58.18 182.50,58.97 182.75,59.67 183.00,58.44 183.25,58.98 183.50,58.50 183.75,59.04 184.00,58.13 184.25,58.44 184.50,58.87 184.75,59.13 185.00,59.23 185.25,59.25 185.50,59.53 185.75,59.35 186.00,59.36 186.25,58.68 186.50,58.98 186.75,60.27 187.00,59.90 187.25,59.31 187.50,59.26 187.75,59.33 188.00,58.76 188.25,59.65 188.50,58.71 188.75,58.79 189.00,59.65 189.25,57.95 189.50,58.87 189.75,58.02 190.00,58.41 190.25,58.60 190.50,58.46 190.75,58.64 191.00,58.24 191.25,58.47 191.50,58.02 191.75,58.31 192.00,57.90 192.25,58.68 192.50,57.90 192.75,58.67 193.00,58.22 193.25,58.25 193.50,58.82 193.75,58.39 194.00,57.59 194.25,58.53 194.50,57.18 194.75,58.42 195.00,58.15 195.25,57.75 195.50,58.33 195.75,58.17 196.00,59.08 196.25,58.11 196.50,59.04 196.75,58.81 197.00,58.01 197.25,57.92 197.50,58.76 197.75,58.17 198.00,58.27 198.25,58.09 198.50,57.68 198.75,57.99 199.00,57.72 199.25,57.45 199.50,57.90 199.75,58.67 200.00,58.55 200.25,57.83 200.50,57.85 200.75,57.95 201.00,58.24 201.25,57.78 201.50,57.42 201.75,57.42 202.00,57.99 202.25,58.54 202.50,57.23 202.75,56.64 203.00,57.76 203.25,57.38 203.50,57.45 203.75,57.86 204.00,57.38 204.25,56.80 204.50,56.53 204.75,57.27 205.00,56.81 205.25,57.37 205.50,56.72 205.75,57.07 206.00,56.60 206.25,57.01 206.50,56.95 206.75,57.34 207.00,57.60 207.25,56.96 207.50,56.65 207.75,57.74 208.00,57.06 208.25,57.12 208.50,57.07 208.75,57.36 209.00,57.13 209.25,56.95 209.50,56.94 209.75,56.23 210.00,56.28 210.25,56.43 210.50,56.45 210.75,56.37 211.00,56.43 211.25,56.26 211.50,56.02 211.75,55.49 212.00,56.41 212.25,56.26 212.50,55.61 212.75,56.11 213.00,56.01 213.25,55.82 213.50,55.00 213.75,55.19 214.00,55.37 214.25,56.20 214.50,55.15 214.75,55.29 215.00,54.92 215.25,55.11 215.50,55.38 215.75,54.35 216.00,53.98 216.25,55.32 216.50,55.01 216.75,54.69 217.00,55.26 217.25,55.20 217.50,53.92 217.75,54.63 218.00,55.08 218.25,54.31 218.50,54.39 218.75,54.84 219.00,54.28 219.25,53.85 219.50,53.99 219.75,53.67 220.00,54.36 220.25,53.38 220.50,54.41 220.75,53.30 221.00,53.92 221.25,53.26 221.50,53.67 221.75,54.16 222.00,54.16 222.25,54.20 222.50,53.62 222.75,53.68 223.00,53.71 223.25,53.85 223.50,53.44 223.75,54.03 224.00,53.72 224.25,54.05 224.50,53.78 224.75,53.86 225.00,53.30 225.25,53.42 225.50,53.07 225.75,53.47 226.00,53.52 226.25,53.92 226.50,53.09 226.75,54.89 227.00,53.55 227.25,54.12 227.50,54.05 227.75,52.65 228.00,53.60 228.25,54.35 228.50,52.87 228.75,54.23 229.00,53.66 229.25,53.96 229.50,54.37 229.75,53.68 230.00,54.66 230.25,54.50 230.50,54.66 230.75,55.45 231.00,56.80 231.25,55.78 231.50,56.12 231.75,56.14 232.00,56.14 232.25,56.80 232.50,57.56 232.75,57.29 233.00,57.82 233.25,57.63 233.50,58.97 233.75,57.55 234.00,58.68 234.25,58.91 234.50,59.04 234.75,58.72 235.00,58.95 235.25,59.55 235.50,59.91 235.75,59.61 236.00,59.89 236.25,60.75 236.50,61.14 236.75,60.70 237.00,60.83 237.25,60.99 237.50,62.45 237.75,61.81 238.00,61.74 238.25,62.32 238.50,62.98 238.75,62.66 239.00,61.76 239.25,62.42 239.50,62.42 239.75,62.56 240.00,62.33 240.25,62.78 240.50,62.61 240.75,63.29 241.00,63.28 241.25,62.79 241.50,62.78 241.75,63.36 242.00,63.91 242.25,63.94 242.50,63.81 242.75,62.60 243.00,63.81 243.25,63.79 243.50,64.04 243.75,63.76 244.00,64.16 244.25,64.14 244.50,65.57 244.75,64.84 245.00,64.56 245.25,64.69 245.50,64.73 245.75,64.93 246.00,64.76 246.25,64.98 246.50,65.47 246.75,65.46 247.00,65.32 247.25,65.80 247.50,65.43 247.75,65.01 248.00,64.77 248.25,65.26 248.50,65.58 248.75,65.84 249.00,66.17 249.25,65.58 249.50,65.55 249.75,66.25 250.00,66.47 250.25,65.87 250.50,66.26 250.75,66.74 251.00,66.38 251.25,66.29 251.50,65.54 251.75,66.97 252.00,66.76 252.25,66.61 252.50,66.43 252.75,66.18 253.00,66.70 253.25,66.76 253.50,67.30 253.75,66.43 254.00,67.55 254.25,67.05 254.50,67.57 254.75,66.76 255.00,67.35 255.25,67.75 255.50,67.37 255.75,66.79 256.00,67.31 256.25,67.71 256.50,66.99 256.75,67.03 257.00,67.76 257.25,67.34 257.50,68.06 257.75,67.37 258.00,67.16 258.25,67.64 258.50,68.61 258.75,67.72 259.00,68.12 259.25,68.28 259.50,67.86 259.75,68.73 260.00,68.42 260.25,68.59 260.50,67.79 260.75,67.82 261.00,67.47 261.25,68.55 261.50,68.59 261.75,69.03 262.00,69.39 262.25,68.74 262.50,68.79 262.75,69.13 263.00,69.62 263.25,68.72 263.50,69.36 263.75,69.06 264.00,69.07 264.25,69.59 264.50,68.99 264.75,68.93 265.00,69.67 265.25,69.45 265.50,69.40 265.75,69.50 266.00,69.80 266.25,69.50 266.50,70.00 266.75,69.90 267.00,70.37 267.25,70.33 267.50,70.21 267.75,69.83 268.00,70.00 268.25,69.75 268.50,71.17 268.75,69.99 269.00,70.34 269.25,70.70 269.50,69.65 269.75,69.90 270.00,70.11 270.25,69.91 270.50,69.84 270.75,70.18 271.00,70.94 271.25,70.75 271.50,70.52 271.75,70.55 272.00,69.91 272.25,70.89 272.50,70.82 272.75,70.25 273.00,70.80 273.25,70.68 273.50,70.58 273.75,70.43 274.00,70.59 274.25,70.52 274.50,71.12 274.75,71.11 275.00,71.13 275.25,70.96 275.50,70.90 275.75,71.92 276.00,70.39 276.25,71.64 276.50,71.34 276.75,71.26 277.00,71.06 277.25,71.21 277.50,70.85 277.75,70.81 278.00,71.35 278.25,70.76 278.50,71.79 278.75,71.93 279.00,70.14 279.25,70.93 279.50,71.69 279.75,71.69 280.00,71.69 280.25,71.84 280.50,72.00 280.75,72.08 281.00,72.48 281.25,71.80 281.50,72.17 281.75,71.20 282.00,71.83 282.25,71.42 282.50,72.50 282.75,72.90 283.00,72.22 283.25,71.51 283.50,72.01 283.75,72.10 284.00,72.19 284.25,72.58 284.50,72.55 284.75,71.14 285.00,72.78 285.25,72.06 285.50,72.06 285.75,72.88 286.00,72.24 286.25,71.82 286.50,71.87 286.75,72.45 287.00,72.82 287.25,73.09 287.50,72.45 287.75,72.35 288.00,73.22 288.25,72.41 288.50,73.21 288.75,72.75 289.00,72.78 289.25,72.61 289.50,72.85 289.75,72.58 290.00,72.52 290.25,72.76 290.50,72.58 290.75,72.99 291.00,72.93 291.25,72.82 291.50,72.87 291.75,72.89 292.00,73.70 292.25,73.03 292.50,72.82 292.75,72.96 293.00,73.37 293.25,73.05 293.50,73.10 293.75,73.08 294.00,73.28 294.25,73.39 294.50,73.44 294.75,72.63 295.00,72.89 295.25,72.29 295.50,73.68 295.75,73.83 296.00,73.93 296.25,73.50 296.50,73.92 296.75,73.47 297.00,73.46 297.25,72.92 297.50,73.25 297.75,73.35 298.00,73.97 298.25,74.29 298.50,73.47 298.75,73.83 299.00,73.81 299.25,73.42 299.50,73.06 299.75,73.47 300.00,73.22 300.25,73.69 300.50,73.78 300.75,73.79 301.00,73.82 301.25,74.10 301.50,73.56 301.75,74.31 302.00,73.31 302.25,74.02 302.50,74.17 302.75,73.72 303.00,73.42 303.25,74.34 303.50,73.84 303.75,74.44 304.00,74.45 304.25,74.17 304.50,74.19 304.75,74.60 305.00,74.38 305.25,73.88 305.50,74.34 305.75,74.51 306.00,74.39 306.25,74.41 306.50,74.29 306.75,74.32 307.00,74.02 307.25,73.84 307.50,74.88 307.75,74.19 308.00,74.56 308.25,73.89 308.50,74.57 308.75,74.19 309.00,75.72 309.25,74.16 309.50,74.19 309.75,74.97 310.00,75.07 310.25,73.80 310.50,74.75 310.75,75.02 311.00,74.20 311.25,74.98 311.50,74.51 311.75,74.34 312.00,74.62 312.25,74.59 312.50,74.24 312.75,75.70 313.00,74.65 313.25,74.55 313.50,75.20 313.75,74.85 314.00,75.43 314.25,74.81 314.50,75.07 314.75,74.99 315.00,75.03 315.25,74.90 315.50,74.96 315.75,75.68 316.00,74.77 316.25,74.84 316.50,74.93 316.75,75.31 317.00,75.26 317.25,75.49 317.50,74.60 317.75,75.26 318.00,75.10 318.25,75.07 318.50,75.27 318.75,74.44 319.00,75.35 319.25,75.31 319.50,74.70 319.75,75.25 320.00,75.92 320.25,75.17 320.50,75.57 320.75,75.27 321.00,75.05 321.25,75.02 321.50,75.25 321.75,75.94 322.00,75.76 322.25,75.18 322.50,75.87 322.75,75.44 323.00,75.24 323.25,75.70 323.50,75.18 323.75,74.94 324.00,76.09 324.25,74.87 324.50,75.83 324.75,75.03 325.00,75.64 325.25,75.59 325.50,75.51 325.75,74.84 326.00,75.68 326.25,75.73 326.50,75.41 326.75,75.75 327.00,76.19 327.25,75.53 327.50,75.94 327.75,75.40 328.00,76.02 328.25,76.14 328.50,76.89 328.75,76.28 329.00,76.12 329.25,76.52 329.50,75.59 329.75,76.42 330.00,75.80 330.25,75.79 330.50,76.49 330.75,76.17 331.00,76.62 331.25,75.54 331.50,76.24 331.75,75.94 332.00,76.06 332.25,75.43 332.50,76.57 332.75,76.30 333.00,75.85 333.25,75.72 333.50,75.93 333.75,76.84 334.00,76.26 334.25,76.19 334.50,76.53 334.75,76.36 335.00,76.46 335.25,76.68 335.50,76.53 335.75,76.76 336.00,75.96 336.25,76.47 336.50,76.33 336.75,76.52 337.00,76.48 337.25,76.26 337.50,76.39 337.75,76.91 338.00,76.34 338.25,76.08 338.50,76.81 338.75,76.97 339.00,76.50 339.25,76.67 339.50,76.30 339.75,76.56 340.00,77.09 340.25,76.98 340.50,76.74 340.75,76.58 341.00,76.06 341.25,76.84 341.50,76.90 341.75,77.15 342.00,77.54 342.25,76.91 342.50,77.14 342.75,76.34 343.00,77.26 343.25,77.14 343.50,77.35 343.75,77.09 344.00,77.01 344.25,77.43 344.50,76.60 344.75,77.12 345.00,77.30 345.25,76.58 345.50,76.45 345.75,77.08 346.00,76.97 346.25,77.17 346.50,77.19 346.75,76.65 347.00,77.08 347.25,77.40 347.50,76.83 347.75,76.86 348.00,76.54 348.25,77.30 348.50,77.75 348.75,76.46 349.00,77.29 349.25,77.35 349.50,76.78 349.75,76.86 350.00,76.59 350.25,76.69 350.50,77.06 350.75,77.25 351.00,77.03 351.25,77.31 351.50,77.05 351.75,76.51 352.00,77.52 352.25,77.40 352.50,76.65 352.75,77.60 353.00,77.08 353.25,76.93 353.50,77.61 353.75,75.88 354.00,76.21 354.25,77.09 354.50,76.70 354.75,76.41 355.00,77.34 355.25,76.92 355.50,76.22 355.75,76.44 356.00,77.00 356.25,77.35 356.50,75.85 356.75,76.71 357.00,76.44 357.25,75.89 357.50,76.48 357.75,75.90 358.00,76.30 358.25,77.12 358.50,76.67 358.75,76.76 359.00,76.67 359.25,76.56 359.50,76.79 359.75,75.94 360.00,76.24 360.25,76.70 360.50,76.07 360.75,76.18 361.00,76.81 361.25,76.93 361.50,76.09 361.75,76.01 362.00,76.55 362.25,76.43 362.50,76.06 362.75,76.56 363.00,76.54 363.25,76.37 363.50,77.49 363.75,76.88 364.00,76.68 364.25,76.77 364.50,77.54 364.75,76.83 365.00,76.14 365.25,76.56 365.50,76.49 365.75,76.26 366.00,76.60 366.25,76.62 366.50,76.53 366.75,76.38 367.00,76.92 367.25,76.00 367.50,76.98 367.75,76.69 368.00,76.82 368.25,75.82 368.50,77.44 368.75,76.13 369.00,76.51 369.25,77.13 369.50,76.68 369.75,76.79 370.00,76.11 370.25,76.85 370.50,77.14 370.75,77.36 371.00,77.02 371.25,77.26 371.50,77.38 371.75,76.99 372.00,77.00 372.25,78.10 372.50,77.04 372.75,77.89 373.00,77.48 373.25,78.06 373.50,77.28 373.75,77.77 374.00,77.74 374.25,77.56 374.50,77.81 374.75,77.42 375.00,77.73 375.25,77.64 375.50,78.14 375.75,77.84 376.00,77.37 376.25,77.80 376.50,77.94 376.75,77.66 377.00,78.57 377.25,78.25 377.50,78.45 377.75,77.85 378.00,78.03 378.25,78.61 378.50,77.68 378.75,78.42 379.00,78.34 379.25,78.13 379.50,78.39 379.75,77.96 380.00,78.49 380.25,77.95 380.50,77.95 380.75,79.02 381.00,78.21 381.25,77.67 381.50,78.90 381.75,78.24 382.00,77.17 382.25,78.55 382.50,78.95 382.75,78.74 383.00,79.29 383.25,78.58 383.50,78.88 383.75,78.26 384.00,78.74 384.25,79.29 384.50,78.90 384.75,78.78 385.00,77.95 385.25,78.59 385.50,78.25 385.75,79.07 386.00,78.49 386.25,78.93 386.50,78.41 386.75,79.56 387.00,78.37 387.25,78.90 387.50,79.89 387.75,78.95 388.00,78.53 388.25,79.13 388.50,79.29 388.75,79.25 389.00,78.15 389.25,79.02 389.50,78.11 389.75,79.70 390.00,78.99 390.25,78.80 390.50,79.25 390.75,79.19 391.00,78.54 391.25,79.66 391.50,78.93 391.75,78.35 392.00,79.60 392.25,79.66 392.50,79.56 392.75,79.30 393.00,78.74 393.25,79.47 393.50,79.84 393.75,79.44 394.00,79.76 394.25,78.83 394.50,79.55 394.75,79.52 395.00,78.57 395.25,78.53 395.50,78.90 395.75,79.22 396.00,79.38 396.25,79.12 396.50,79.19 396.75,79.18 397.00,79.27 397.25,79.47 397.50,79.45 397.75,79.24 398.00,79.37 398.25,79.10 398.50,79.60 398.75,79.10 399.00,79.95 399.25,79.30 399.50,79.43 399.75,79.03 400.00,79.20 400.25,79.41 400.50,79.36 400.75,79.12 401.00,78.91 401.25,79.39 401.50,79.45 401.75,79.61 402.00,79.90 402.25,79.28 402.50,78.62 402.75,79.37 403.00,78.70 403.25,78.93 403.50,79.85 403.75,79.68 404.00,79.20 404.25,79.21 404.50,79.44 404.75,78.78 405.00,79.68 405.25,79.36 405.50,80.23 405.75,79.09 406.00,79.91 406.25,79.25 406.50,79.93 406.75,79.14 407.00,79.83 407.25,79.37 407.50,79.23 407.75,79.50 408.00,79.76 408.25,79.73 408.50,80.21 408.75,79.91 409.00,78.54 409.25,79.44 409.50,78.81 409.75,79.46 410.00,79.87 410.25,79.09 410.50,79.16 410.75,79.69 411.00,79.53 411.25,80.28 411.50,79.78 411.75,79.87 412.00,80.36 412.25,79.47 412.50,79.68 412.75,79.29 413.00,79.80 413.25,80.11 413.50,80.25 413.75,79.70 414.00,79.44 414.25,79.42 414.50,79.18 414.75,79.79 415.00,80.29 415.25,78.81 415.50,78.89 415.75,80.33 416.00,79.13 416.25,79.91 416.50,79.29 416.75,80.11 417.00,80.12 417.25,79.88 417.50,80.15 417.75,79.85 418.00,80.06 418.25,80.57 418.50,80.29 418.75,79.59 419.00,79.54 419.25,79.78 419.50,79.79 419.75,79.92 420.00,79.66 420.25,80.17 420.50,79.93 420.75,80.07 421.00,79.93 421.25,80.18 421.50,79.47 421.75,80.59 422.00,80.10 422.25,80.15 422.50,80.22 422.75,80.42 423.00,80.29 423.25,80.10 423.50,79.94 423.75,79.36 424.00,80.12 424.25,79.91 424.50,79.92 424.75,81.02 425.00,79.32 425.25,80.10 425.50,80.57 425.75,80.48 426.00,80.60 426.25,79.60 426.50,79.73 426.75,80.37 427.00,80.02 427.25,80.83 427.50,80.24 427.75,80.24 428.00,80.35 428.25,80.07 428.50,80.24 428.75,79.93 429.00,80.19 429.25,80.02 429.50,80.33 429.75,79.67 430.00,79.65 430.25,80.44 430.50,80.35 430.75,79.88 431.00,80.19 431.25,79.87 431.50,81.11 431.75,79.68 432.00,81.00 432.25,79.99 432.50,80.50 432.75,80.24 433.00,80.20 433.25,80.73 433.50,80.69 433.75,80.26 434.00,80.02 434.25,81.22 434.50,80.96 434.75,80.47 435.00,80.30 435.25,80.55 435.50,80.47 435.75,80.92 436.00,80.07 436.25,80.47 436.50,80.16 436.75,81.00 437.00,81.21 437.25,80.46 437.50,80.72 437.75,81.08 438.00,80.40 438.25,80.16 438.50,80.95 438.75,80.75 439.00,80.47 439.25,81.15 439.50,80.67 439.75,79.87 440.00,80.73 440.25,80.57 440.50,81.35 440.75,80.60 441.00,80.54 441.25,80.80 441.50,80.73 441.75,80.08 442.00,80.70 442.25,80.53 442.50,81.23 442.75,81.63 443.00,80.23 443.25,80.30 443.50,80.36 443.75,80.44 444.00,80.43 444.25,80.74 444.50,81.16 444.75,80.21 445.00,80.12 445.25,80.01 445.50,81.19 445.75,81.29 446.00,80.15 446.25,80.12 446.50,80.83 446.75,81.22 447.00,81.20 447.25,80.88 447.50,81.08 447.75,80.94 448.00,80.60 448.25,81.59 448.50,80.83 448.75,80.39 449.00,80.66 449.25,80.23 449.50,80.86 449.75,81.30 450.00,80.36 450.25,81.32 450.50,81.72 450.75,81.04 451.00,80.43 451.25,80.56 451.50,80.77 451.75,80.40 452.00,80.42 452.25,80.82 452.50,80.86 452.75,81.18 453.00,80.46 453.25,81.69 453.50,81.38 453.75,81.31 454.00,80.70 454.25,81.66 454.50,80.84 454.75,81.71 455.00,81.41 455.25,80.63 455.50,80.82 455.75,81.75 456.00,81.41 456.25,80.95 456.50,81.10 456.75,81.10 457.00,80.72 457.25,80.96 457.50,80.78 457.75,80.88 458.00,81.24 458.25,80.67 458.50,81.35 458.75,81.11 459.00,81.38 459.25,81.44 459.50,81.58 459.75,81.34 460.00,81.38 460.25,81.03 460.50,81.33 460.75,80.75 461.00,81.02 461.25,81.42 461.50,81.11 461.75,81.31 462.00,80.71 462.25,81.69 462.50,80.92 462.75,81.31 463.00,81.15 463.25,81.54 463.50,81.02 463.75,80.77 464.00,80.42 464.25,81.06 464.50,80.71 464.75,81.41 465.00,81.78 465.25,80.31 465.50,80.69 465.75,81.34 466.00,81.72 466.25,81.35 466.50,81.36 466.75,81.44 467.00,81.47 467.25,81.91 467.50,81.50 467.75,80.76 468.00,81.07 468.25,81.35 468.50,80.95 468.75,81.18 469.00,81.07 469.25,81.01 469.50,81.58 469.75,81.15 470.00,80.87 470.25,81.03 470.50,81.33 470.75,82.17 471.00,81.43 471.25,81.93 471.50,81.54 471.75,80.48 472.00,81.50 472.25,81.01 472.50,80.82 472.75,80.93 473.00,82.09 473.25,80.74 473.50,81.14 473.75,81.86 474.00,81.66 474.25,80.71 474.50,81.36 474.75,81.21 475.00,81.34 475.25,81.73 475.50,81.20 475.75,81.31 476.00,82.03 476.25,80.71 476.50,81.30 476.75,81.65 477.00,80.96 477.25,81.22 477.50,80.95 477.75,81.55 478.00,81.24 478.25,81.81 478.50,81.91 478.75,81.53 479.00,81.36 479.25,81.63 479.50,81.55 479.75,81.04 480.00,81.97 480.25,81.64 480.50,81.87 480.75,81.01 481.00,81.92 481.25,82.42 481.50,81.83 481.75,81.00 482.00,81.61 482.25,81.58 482.50,81.69 482.75,81.52 483.00,81.82 483.25,81.44 483.50,81.73 483.75,81.36 484.00,81.69 484.25,82.06 484.50,81.46 484.75,81.94 485.00,81.32 485.25,81.53 485.50,81.59 485.75,82.20 486.00,81.39 486.25,82.20 486.50,81.13 486.75,81.66 487.00,82.10 487.25,82.02 487.50,81.34 487.75,81.26 488.00,82.12 488.25,81.26 488.50,82.01 488.75,81.57 489.00,81.79 489.25,82.73 489.50,82.43 489.75,82.15 490.00,81.26 490.25,81.96 490.50,81.86 490.75,81.80 491.00,82.39 491.25,81.16 491.50,81.99 491.75,81.92 492.00,81.58 492.25,82.59 492.50,81.38 492.75,81.91 493.00,81.94 493.25,81.03 493.50,81.35 493.75,81.54 494.00,82.26 494.25,82.33 494.50,82.20 494.75,82.06 495.00,81.08 495.25,82.07 495.50,81.78 495.75,82.47 496.00,82.55 496.25,82.92 496.50,82.31 496.75,82.36 497.00,81.62 497.25,82.08 497.50,81.55 497.75,82.42 498.00,81.58 498.25,81.99 498.50,81.75 498.75,81.90 499.00,82.29 499.25,81.88 499.50,82.21 499.75,81.72 500.00,82.70 500.25,81.88 500.50,82.56 500.75,83.03 501.00,81.18 501.25,81.77 501.50,82.10 501.75,82.67 502.00,82.00 502.25,82.36 502.50,81.92 502.75,82.45 503.00,81.74 503.25,82.58 503.50,81.04 503.75,81.49 504.00,83.01 504.25,82.35 504.50,81.92 504.75,83.19 505.00,82.73 505.25,82.77 505.50,82.15 505.75,82.58 506.00,82.54 506.25,81.67 506.50,82.60 506.75,82.29 507.00,82.90 507.25,82.91 507.50,82.13 507.75,82.15 508.00,82.48 508.25,82.68 508.50,82.26 508.75,82.39 509.00,82.69 509.25,82.62 509.50,82.93 509.75,82.57 510.00,82.12 510.25,81.77 510.50,82.83 510.75,82.37 511.00,82.37 511.25,82.41 511.50,81.89 511.75,82.38 512.00,81.49 512.25,82.40 512.50,82.20 512.75,83.33 513.00,82.77 513.25,82.51 513.50,82.67 513.75,82.91 514.00,82.31 514.25,82.54 514.50,82.50 514.75,83.67 515.00,82.69 515.25,81.87 515.50,83.01 515.75,83.75 516.00,82.31 516.25,84.14 516.50,82.69 516.75,83.14 517.00,82.51 517.25,82.64 517.50,82.25 517.75,82.33 518.00,81.90 518.25,83.25 518.50,82.32 518.75,82.96 519.00,82.95 519.25,82.56 519.50,82.85 519.75,82.80 520.00,82.65 520.25,82.88 520.50,82.89 520.75,82.46 521.00,82.36 521.25,82.55 521.50,82.96 521.75,83.49 522.00,83.54 522.25,83.07 522.50,83.34 522.75,83.01 523.00,83.43 523.25,83.03 523.50,83.15 523.75,82.88 524.00,83.01 524.25,83.80 524.50,82.53 524.75,83.04 525.00,82.81 525.25,83.46 525.50,83.82 525.75,82.95 526.00,81.94 526.25,83.35 526.50,83.36 526.75,82.42 527.00,83.03 527.25,83.11 527.50,82.19 527.75,83.44 528.00,83.35 528.25,83.28 528.50,82.75 528.75,82.91 529.00,82.95 529.25,83.42 529.50,82.82 529.75,83.85 530.00,83.41 530.25,82.36 530.50,83.97 530.75,83.35 531.00,83.07 531.25,83.35 531.50,82.56 531.75,83.40 532.00,82.32 532.25,82.92 532.50,83.92 532.75,83.89 533.00,83.23 533.25,82.98 533.50,83.78 533.75,83.38 534.00,83.50" stroke="#bb66e0"/>
<path d="M36.00,35.17 36.25,34.45 36.50,35.22 36.75,34.01 37.00,35.49 37.25,34.21 37.50,34.60 37.75,34.57 38.00,35.14 38.25,35.14 38.50,34.97 38.75,35.03 39.00,34.99 39.25,34.75 39.50,33.98 39.75,33.80 40.00,33.80 40.25,34.72 40.50,34.64 40.75,34.67 41.00,34.81 41.25,34.61 41.50,34.28 41.75,34.06 42.00,33.88 42.25,35.17 42.50,35.03 42.75,34.08 43.00,34.52 43.25,34.81 43.50,35.28 43.75,34.35 44.00,34.67 44.25,35.07 44.50,33.85 44.75,34.26 45.00,34.54 45.25,34.24 45.50,35.42 45.75,34.89 46.00,34.60 46.25,34.11 46.50,34.86 46.75,34.75 47.00,34.26 47.25,34.29 47.50,33.85 47.75,34.42 48.00,34.80 48.25,34.85 48.50,34.66 48.75,34.76 49.00,34.16 49.25,34.20 49.50,34.89 49.75,34.56 50.00,34.03 50.25,34.56 50.50,34.69 50.75,34.63 51.00,34.37 51.25,34.10 51.50,34.48 51.75,35.01 52.00,34.35 52.25,34.00 52.50,34.41 52.75,33.75 53.00,34.35 53.25,34.12 53.50,34.64 53.75,34.27 54.00,34.66 54.25,35.17 54.50,34.11 54.75,33.84 55.00,34.37 55.25,34.14 55.50,34.22 55.75,33.91 56.00,34.38 56.25,34.17 56.50,33.23 56.75,34.02 57.00,34.25 57.25,34.60 57.50,33.86 57.75,33.76 58.00,34.56 58.25,33.82 58.50,34.11 58.75,34.26 59.00,34.36 59.25,34.05 59.50,33.57 59.75,34.45 60.00,33.84 60.25,33.79 60.50,34.84 60.75,34.36 61.00,33.55 61.25,33.78 61.50,33.87 61.75,33.65 62.00,33.16 62.25,34.28 62.50,34.26 62.75,34.04 63.00,33.76 63.25,34.01 63.50,34.18 63.75,33.47 64.00,33.76 64.25,33.66 64.50,34.17 64.75,33.98 65.00,33.33 65.25,33.60 65.50,34.58 65.75,33.44 66.00,33.90 66.25,33.56 66.50,34.33 66.75,33.78 67.00,33.62 67.25,33.30 67.50,33.68 67.75,34.12 68.00,34.05 68.25,33.21 68.50,34.40 68.75,33.64 69.00,33.30 69.25,33.78 69.50,33.46 69.75,33.47 70.00,33.43 70.25,33.65 70.50,33.47 70.75,32.96 71.00,33.88 71.25,33.43 71.50,34.14 71.75,33.85 72.00,33.88 72.25,33.69 72.50,34.14 72.75,33.45 73.00,33.17 73.25,33.71 73.50,32.43 73.75,33.40 74.00,33.63 74.25,33.36 74.50,34.04 74.75,33.80 75.00,33.54 75.25,33.32 75.50,33.93 75.75,33.18 76.00,33.28 76.25,33.75 76.50,33.68 76.75,34.26 77.00,33.32 77.25,32.62 77.50,33.66 77.75,33.89 78.00,33.29 78.25,33.99 78.50,34.07 78.75,33.05 79.00,33.11 79.25,32.78 79.50,33.51 79.75,33.57 80.00,33.51 80.25,32.74 80.50,32.92 80.75,32.63 81.00,32.55 81.25,32.64 81.50,32.53 81.75,33.10 82.00,33.34 82.25,33.41 82.50,33.13 82.75,32.85 83.00,33.11 83.25,33.33 83.50,32.96 83.75,33.09 84.00,32.93 84.25,32.83 84.50,33.05 84.75,32.56 85.00,33.44 85.25,32.35 85.50,33.17 85.75,32.40 86.00,33.57 86.25,33.29 86.50,32.59 86.75,32.72 87.00,32.43 87.25,32.86 87.50,33.04 87.75,33.91 88.00,32.28 88.25,33.34 88.50,32.57 88.75,32.91 89.00,33.15 89.25,32.99 89.50,32.93 89.75,32.66 90.00,32.72 90.25,32.78 90.50,33.19 90.75,32.08 91.00,32.47 91.25,32.14 91.50,32.25 91.75,32.30 92.00,33.07 92.25,33.48 92.50,33.14 92.75,32.08 93.00,32.59 93.25,32.07 93.50,32.71 93.75,33.03 94.00,32.74 94.25,32.84 94.50,32.40 94.75,31.64 95.00,31.62 95.25,32.38 95.50,32.64 95.75,32.91 96.00,32.23 96.25,32.39 96.50,32.44 96.75,32.76 97.00,32.28 97.25,31.84 97.50,32.72 97.75,32.43 98.00,32.40 98.25,31.70 98.50,32.21 98.75,31.49 99.00,31.35 99.25,32.06 99.50,31.97 99.75,32.36 100.00,32.70 100.25,32.08 100.50,32.81 100.75,31.82 101.00,32.36 101.25,31.51 101.50,32.06 101.75,31.86 102.00,31.89 102.25,32.20 102.50,31.17 102.75,31.97 103.00,31.57 103.25,31.94 103.50,32.03 103.75,31.70 104.00,31.68 104.25,31.35 104.50,32.03 104.75,31.51 105.00,31.95 105.25,31.16 105.50,32.29 105.75,31.29 106.00,32.17 106.25,31.49 106.50,31.88 106.75,31.58 107.00,31.90 107.25,31.61 107.50,32.11 107.75,31.84 108.00,31.83 108.25,32.22 108.50,31.23 108.75,32.03 109.00,31.51 109.25,30.85 109.50,31.64 109.75,31.34 110.00,32.10 110.25,31.18 110.50,31.39 110.75,31.45 111.00,30.55 111.25,31.52 111.50,30.89 111.75,31.85 112.00,31.94 112.25,31.23 112.50,30.57 112.75,31.28 113.00,31.25 113.25,31.46 113.50,31.02 113.75,30.64 114.00,31.05 114.25,30.71 114.50,31.80 114.75,30.76 115.00,30.76 115.25,30.99 115.50,30.48 115.75,30.79 116.00,30.90 116.25,30.73 116.50,30.81 116.75,31.40 117.00,31.05 117.25,30.31 117.50,30.66 117.75,31.12 118.00,30.53 118.25,30.81 118.50,30.74 118.75,30.95 119.00,30.64 119.25,30.63 119.50,30.32 119.75,30.80 120.00,30.25 120.25,31.32 120.50,30.58 120.75,30.47 121.00,30.87 121.25,30.49 121.50,30.54 121.75,30.46 122.00,30.16 122.25,30.06 122.50,30.13 122.75,30.86 123.00,30.11 123.25,30.18 123.50,30.14 123.75,30.59 124.00,31.09 124.25,29.88 124.50,30.46 124.75,30.26 125.00,30.06 125.25,30.37 125.50,29.62 125.75,30.45 126.00,30.18 126.25,29.65 126.50,30.69 126.75,30.36 127.00,30.46 127.25,29.37 127.50,29.82 127.75,29.69 128.00,30.13 128.25,30.40 128.50,29.04 128.75,29.80 129.00,29.70 129.25,30.13 129.50,29.68 129.75,29.14 130.00,29.55 130.25,29.17 130.50,29.24 130.75,29.54 131.00,29.30 131.25,29.57 131.50,28.80 131.75,30.34 132.00,29.87 132.25,29.62 132.50,28.76 132.75,28.38 133.00,28.88 133.25,29.10 133.50,30.08 133.75,29.67 134.00,28.89 134.25,29.57 134.50,29.55 134.75,29.03 135.00,29.50 135.25,29.11 135.50,28.68 135.75,28.44 136.00,28.85 136.25,29.29 136.50,28.31 136.75,28.18 137.00,29.04 137.25,27.69 137.50,29.52 137.75,28.58 138.00,29.04 138.25,29.48 138.50,28.11 138.75,28.25 139.00,29.58 139.25,28.53 139.50,28.57 139.75,28.70 140.00,29.02 140.25,29.11 140.50,28.60 140.75,28.40 141.00,28.50 141.25,28.62 141.50,29.02 141.75,28.52 142.00,29.19 142.25,28.08 142.50,28.63 142.75,29.11 143.00,28.91 143.25,28.50 143.50,27.98 143.75,28.04 144.00,28.25 144.25,28.43 144.50,28.18 144.75,27.67 145.00,27.95 145.25,28.45 145.50,28.56 145.75,27.64 146.00,28.04 146.25,27.49 146.50,27.93 146.75,29.60 147.00,28.16 147.25,27.98 147.50,27.87 147.75,27.60 148.00,27.32 148.25,28.05 148.50,27.94 148.75,28.65 149.00,27.36 149.25,28.20 149.50,28.55 149.75,27.19 150.00,28.25 150.25,27.31 150.50,28.17 150.75,28.55 151.00,27.93 151.25,28.04 151.50,27.63 151.75,28.02 152.00,28.35 152.25,27.80 152.50,27.81 152.75,28.02 153.00,28.18 153.25,27.17 153.50,27.85 153.75,27.54 154.00,28.01 154.25,28.22 154.50,27.92 154.75,28.31 155.00,27.37 155.25,27.60 155.50,27.35 155.75,27.77 156.00,27.78 156.25,27.65 156.50,27.23 156.75,27.68 157.00,27.53 157.25,27.95 157.50,27.58 157.75,28.16 158.00,27.77 158.25,26.91 158.50,27.60 158.75,27.07 159.00,28.05 159.25,28.23 159.50,27.63 159.75,27.82 160.00,27.04 160.25,26.70 160.50,27.39 160.75,27.51 161.00,26.99 161.25,27.64 161.50,27.72 161.75,27.85 162.00,28.22 162.25,27.91 162.50,27.42 162.75,27.61 163.00,27.81 163.25,27.13 163.50,28.09 163.75,27.91 164.00,27.45 164.25,27.27 164.50,29.09 164.75,27.87 165.00,27.90 165.25,28.25 165.50,27.91 165.75,27.59 166.00,27.78 166.25,27.12 166.50,27.78 166.75,26.85 167.00,27.64 167.25,27.69 167.50,26.82 167.75,28.24 168.00,26.97 168.25,27.87 168.50,27.22 168.75,27.55 169.00,27.15 169.25,28.43 169.50,27.83 169.75,28.14 170.00,27.71 170.25,27.67 170.50,27.44 170.75,27.27 171.00,27.61 171.25,27.41 171.50,27.28 171.75,26.77 172.00,27.20 172.25,27.56 172.50,27.11 172.75,27.43 173.00,27.22 173.25,26.85 173.50,26.89 173.75,26.94 174.00,27.11 174.25,27.11 174.50,27.66 174.75,26.75 175.00,26.34 175.25,27.44 175.50,26.96 175.75,27.08 176.00,28.16 176.25,27.70 176.50,27.32 176.75,27.45 177.00,27.10 177.25,27.42 177.50,26.76 177.75,26.70 178.00,26.79 178.25,27.61 178.50,27.58 178.75,26.67 179.00,27.38 179.25,26.82 179.50,27.30 179.75,26.71 180.00,27.22 180.25,26.76 180.50,26.67 180.75,26.75 181.00,26.81 181.25,26.48 181.50,26.14 181.75,27.38 182.00,26.50 182.25,25.89 182.50,25.69 182.75,25.45 183.00,26.33 183.25,27.11 183.50,25.86 183.75,26.38 184.00,25.74 184.25,26.93 184.50,26.60 184.75,26.57 185.00,26.97 185.25,27.07 185.50,26.80 185.75,26.11 186.00,25.79 186.25,25.88 186.50,25.57 186.75,27.02 187.00,26.18 187.25,26.29 187.50,26.30 187.75,27.03 188.00,25.95 188.25,26.65 188.50,26.27 188.75,26.07 189.00,25.32 189.25,26.47 189.50,25.77 189.75,25.87 190.00,26.14 190.25,26.07 190.50,26.48 190.75,25.73 191.00,26.05 191.25,26.09 191.50,25.97 191.75,26.22 192.00,25.82 192.25,26.41 192.50,25.60 192.75,25.28 193.00,25.84 193.25,26.33 193.50,25.62 193.75,25.55 194.00,25.65 194.25,25.85 194.50,25.69 194.75,25.87 195.00,25.02 195.25,26.33 195.50,25.94 195.75,25.33 196.00,26.23 196.25,25.83 196.50,26.24 196.75,25.13 197.00,26.28 197.25,25.60 197.50,24.72 197.75,25.86 198.00,25.41 198.25,25.10 198.50,25.41 198.75,24.69 199.00,25.71 199.25,25.37 199.50,25.33 199.75,26.01 200.00,25.43 200.25,25.12 200.50,24.99 200.75,25.34 201.00,25.79 201.25,25.10 201.50,24.90 201.75,25.70 202.00,25.33 202.25,25.28 202.50,26.14 202.75,24.77 203.00,25.34 203.25,24.51 203.50,25.11 203.75,25.47 204.00,25.68 204.25,24.68 204.50,25.54 204.75,25.51 205.00,25.13 205.25,26.19 205.50,25.17 205.75,24.80 206.00,25.33 206.25,24.38 206.50,25.78 206.75,25.54 207.00,24.97 207.25,25.38 207.50,25.35 207.75,25.92 208.00,24.87 208.25,24.59 208.50,24.28 208.75,25.00 209.00,24.47 209.25,25.05 209.50,25.29 209.75,24.93 210.00,24.73 210.25,25.61 210.50,25.03 210.75,25.21 211.00,25.51 211.25,24.58 211.50,24.74 211.75,26.15 212.00,25.05 212.25,24.69 212.50,25.01 212.75,24.88 213.00,24.61 213.25,24.95 213.50,25.11 213.75,25.11 214.00,25.34 214.25,24.40 214.50,24.50 214.75,25.44 215.00,24.93 215.25,25.62 215.50,25.24 215.75,24.54 216.00,25.34 216.25,24.70 216.50,25.22 216.75,25.62 217.00,25.99 217.25,25.09 217.50,25.40 217.75,25.24 218.00,25.44 218.25,24.07 218.50,24.96 218.75,25.24 219.00,25.31 219.25,24.81 219.50,25.46 219.75,25.57 220.00,25.15 220.25,25.02 220.50,24.97 220.75,25.17 221.00,25.60 221.25,25.73 221.50,24.92 221.75,24.73 222.00,24.79 222.25,25.52 222.50,25.21 222.75,25.24 223.00,25.31 223.25,25.27 223.50,25.07 223.75,24.69 224.00,24.86 224.25,25.17 224.50,25.28 224.75,24.96 225.00,24.95 225.25,25.68 225.50,24.93 225.75,25.21 226.00,24.99 226.25,24.76 226.50,24.50 226.75,24.90 227.00,24.78 227.25,25.47 227.50,24.66 227.75,24.97 228.00,25.41 228.25,25.10 228.50,25.36 228.75,25.51 229.00,24.51 229.25,25.03 229.50,24.82 229.75,25.79 230.00,25.20 230.25,25.47 230.50,25.99 230.75,25.17 231.00,25.36 231.25,25.52 231.50,25.27 231.75,25.92 232.00,25.76 232.25,25.86 232.50,25.50 232.75,25.36 233.00,25.38 233.25,25.40 233.50,24.91 233.75,25.75 234.00,25.96 234.25,25.65 234.50,25.47 234.75,25.72 235.00,25.82 235.25,25.88 235.50,26.50 235.75,25.44 236.00,25.96 236.25,26.12 236.50,25.89 236.75,25.78 237.00,25.48 237.25,25.68 237.50,26.23 237.75,26.55 238.00,25.72 238.25,26.20 238.50,26.24 238.75,26.46 239.00,26.17 239.25,26.27 239.50,26.48 239.75,25.66 240.00,26.17 240.25,25.46 240.50,25.40 240.75,25.89 241.00,25.62 241.25,26.47 241.50,26.69 241.75,26.18 242.00,26.27 242.25,26.26 242.50,26.27 242.75,26.45 243.00,26.56 243.25,26.25 243.50,26.15 243.75,26.28 244.00,26.83 244.25,26.36 244.50,27.14 244.75,26.48 245.00,27.15 245.25,26.14 245.50,26.37 245.75,26.86 246.00,26.89 246.25,26.65 246.50,27.56 246.75,26.79 247.00,26.90 247.25,26.58 247.50,27.50 247.75,27.20 248.00,27.05 248.25,26.25 248.50,27.08 248.75,26.77 249.00,27.14 249.25,27.37 249.50,26.73 249.75,27.14 250.00,27.43 250.25,27.17 250.50,27.00 250.75,26.73 251.00,26.91 251.25,26.69 251.50,27.63 251.75,27.30 252.00,26.79 252.25,27.31 252.50,26.82 252.75,26.04 253.00,27.87 253.25,27.88 253.50,26.85 253.75,27.18 254.00,27.57 254.25,27.36 254.50,27.20 254.75,27.37 255.00,27.50 255.25,27.41 255.50,27.74 255.75,27.59 256.00,27.41 256.25,27.75 256.50,27.10 256.75,28.38 257.00,27.13 257.25,27.82 257.50,28.02 257.75,28.08 258.00,28.05 258.25,28.48 258.50,27.55 258.75,28.01 259.00,28.13 259.25,27.90 259.50,27.89 259.75,28.67 260.00,27.90 260.25,28.03 260.50,28.14 260.75,28.20 261.00,28.38 261.25,28.26 261.50,28.53 261.75,28.46 262.00,28.63 262.25,29.02 262.50,28.17 262.75,29.20 263.00,28.39 263.25,28.87 263.50,28.70 263.75,28.55 264.00,27.92 264.25,29.38 264.50,28.46 264.75,28.49 265.00,29.26 265.25,28.90 265.50,29.66 265.75,29.60 266.00,29.25 266.25,29.10 266.50,29.34 266.75,28.54 267.00,29.17 267.25,29.19 267.50,28.98 267.75,29.30 268.00,28.65 268.25,29.62 268.50,29.81 268.75,28.81 269.00,29.42 269.25,30.01 269.50,29.60 269.75,29.05 270.00,29.10 270.25,29.87 270.50,30.29 270.75,29.16 271.00,29.64 271.25,29.35 271.50,29.58 271.75,29.85 272.00,29.74 272.25,29.52 272.50,30.66 272.75,29.79 273.00,29.81 273.25,30.36 273.50,29.96 273.75,29.91 274.00,30.40 274.25,29.64 274.50,30.38 274.75,30.53 275.00,30.42 275.25,30.12 275.50,30.22 275.75,29.57 276.00,30.24 276.25,30.44 276.50,30.70 276.75,30.45 277.00,30.27 277.25,30.13 277.50,30.48 277.75,30.58 278.00,31.04 278.25,30.60 278.50,30.44 278.75,30.63 279.00,30.51 279.25,30.65 279.50,29.90 279.75,30.18 280.00,30.37 280.25,31.06 280.50,30.88 280.75,31.00 281.00,31.44 281.25,30.60 281.50,31.50 281.75,31.24 282.00,30.84 282.25,31.74 282.50,30.62 282.75,30.78 283.00,31.17 283.25,31.45 283.50,31.25 283.75,30.51 284.00,31.27 284.25,31.39 284.50,32.46 284.75,32.03 285.00,31.57 285.25,31.13 285.50,31.73 285.75,31.16 286.00,31.74 286.25,31.83 286.50,31.56 286.75,31.85 287.00,31.65 287.25,31.59 287.50,32.45 287.75,32.11 288.00,31.79 288.25,31.64 288.50,32.04 288.75,32.22 289.00,32.37 289.25,32.64 289.50,32.27 289.75,31.68 290.00,32.95 290.25,32.64 290.50,32.53 290.75,32.76 291.00,31.67 291.25,32.14 291.50,32.12 291.75,32.81 292.00,31.91 292.25,32.27 292.50,33.03 292.75,32.71 293.00,32.33 293.25,33.25 293.50,32.01 293.75,32.74 294.00,32.49 294.25,32.81 294.50,32.53 294.75,32.33 295.00,32.77 295.25,32.19 295.50,32.95 295.75,32.64 296.00,33.15 296.25,32.64 296.50,32.57 296.75,33.02 297.00,33.37 297.25,32.09 297.50,32.98 297.75,33.21 298.00,32.42 298.25,32.66 298.50,33.29 298.75,32.73 299.00,32.83 299.25,33.78 299.50,32.76 299.75,32.81 300.00,32.26 300.25,32.77 300.50,32.74 300.75,33.92 301.00,33.75 301.25,32.79 301.50,34.09 301.75,33.64 302.00,33.29 302.25,33.71 302.50,33.56 302.75,33.13 303.00,32.76 303.25,33.12 303.50,33.50 303.75,33.39 304.00,33.26 304.25,33.96 304.50,33.18 304.75,33.97 305.00,33.46 305.25,33.71 305.50,33.25 305.75,33.71 306.00,33.43 306.25,33.08 306.50,33.78 306.75,33.79 307.00,34.16 307.25,33.97 307.50,33.49 307.75,33.67 308.00,32.95 308.25,33.52 308.50,34.49 308.75,34.61 309.00,34.33 309.25,34.18 309.50,34.31 309.75,34.30 310.00,33.45 310.25,33.81 310.50,34.65 310.75,34.67 311.00,34.32 311.25,34.13 311.50,34.12 311.75,34.08 312.00,33.96 312.25,33.59 312.50,34.43 312.75,34.22 313.00,34.33 313.25,35.12 313.50,34.70 313.75,34.21 314.00,34.74 314.25,33.94 314.50,34.98 314.75,34.69 315.00,34.53 315.25,34.86 315.50,35.23 315.75,34.50 316.00,34.31 316.25,35.56 316.50,34.76 316.75,35.37 317.00,34.53 317.25,34.97 317.50,34.59 317.75,35.12 318.00,34.79 318.25,34.66 318.50,35.56 318.75,35.10 319.00,34.19 319.25,34.92 319.50,34.68 319.75,34.58 320.00,34.86 320.25,34.93 320.50,35.15 320.75,34.85 321.00,34.45 321.25,35.00 321.50,35.59 321.75,34.72 322.00,35.53 322.25,35.49 322.50,35.16 322.75,35.49 323.00,35.09 323.25,35.26 323.50,35.04 323.75,35.65 324.00,36.04 324.25,35.25 324.50,36.02 324.75,34.72 325.00,35.24 325.25,35.22 325.50,36.33 325.75,35.44 326.00,36.01 326.25,34.92 326.50,35.80 326.75,36.01 327.00,35.80 327.25,34.76 327.50,35.94 327.75,36.22 328.00,36.45 328.25,36.11 328.50,35.31 328.75,35.93 329.00,36.40 329.25,35.75 329.50,36.33 329.75,35.94 330.00,36.20 330.25,36.50 330.50,35.94 330.75,37.40 331.00,36.35 331.25,36.46 331.50,36.05 331.75,36.41 332.00,36.31 332.25,35.86 332.50,35.86 332.75,36.62 333.00,36.50 333.25,35.52 333.50,35.74 333.75,36.51 334.00,36.63 334.25,36.93 334.50,36.23 334.75,36.99 335.00,36.66 335.25,36.61 335.50,36.78 335.75,37.26 336.00,37.12 336.25,37.28 336.50,36.68 336.75,36.87 337.00,36.55 337.25,36.82 337.50,36.92 337.75,36.92 338.00,37.42 338.25,37.33 338.50,37.49 338.75,37.27 339.00,37.68 339.25,37.32 339.50,37.69 339.75,37.54 340.00,37.66 340.25,37.37 340.50,36.93 340.75,36.87 341.00,38.26 341.25,37.66 341.50,37.72 341.75,37.50 342.00,37.41 342.25,38.77 342.50,37.21 342.75,37.66 343.00,37.69 343.25,37.29 343.50,37.26 343.75,37.51 344.00,37.69 344.25,37.66 344.50,38.21 344.75,37.44 345.00,38.10 345.25,38.55 345.50,38.35 345.75,37.57 346.00,36.87 346.25,38.42 346.50,38.30 346.75,37.90 347.00,38.67 347.25,38.03 347.50,38.26 347.75,37.83 348.00,38.40 348.25,38.12 348.50,38.12 348.75,38.78 349.00,38.46 349.25,37.80 349.50,38.71 349.75,38.79 350.00,38.15 350.25,38.35 350.50,38.55 350.75,38.46 351.00,38.63 351.25,38.87 351.50,38.44 351.75,39.49 352.00,38.40 352.25,38.50 352.50,39.52 352.75,39.71 353.00,38.80 353.25,38.73 353.50,38.40 353.75,39.31 354.00,38.95 354.25,38.57 354.50,39.09 354.75,39.50 355.00,39.25 355.25,39.88 355.50,39.49 355.75,39.22 356.00,39.06 356.25,39.31 356.50,39.60 356.75,39.48 357.00,39.59 357.25,39.28 357.50,39.52 357.75,39.72 358.00,39.19 358.25,38.76 358.50,40.00 358.75,39.56 359.00,39.18 359.25,39.47 359.50,39.30 359.75,38.74 360.00,39.37 360.25,38.90 360.50,39.57 360.75,39.47 361.00,39.99 361.25,39.51 361.50,39.73 361.75,39.49 362.00,39.48 362.25,39.09 362.50,40.07 362.75,39.76 363.00,39.48 363.25,39.82 363.50,39.60 363.75,39.49 364.00,39.90 364.25,40.31 364.50,39.74 364.75,39.30 365.00,39.64 365.25,40.63 365.50,39.60 365.75,40.42 366.00,39.87 366.25,40.28 366.50,39.97 366.75,39.40 367.00,39.88 367.25,40.91 367.50,40.03 367.75,40.33 368.00,39.99 368.25,40.09 368.50,40.29 368.75,40.36 369.00,41.08 369.25,40.20 369.50,40.15 369.75,39.98 370.00,39.73 370.25,39.63 370.50,40.56 370.75,39.56 371.00,40.88 371.25,40.68 371.50,40.23 371.75,39.90 372.00,40.39 372.25,40.40 372.50,40.86 372.75,40.12 373.00,40.28 373.25,40.42 373.50,40.35 373.75,40.22 374.00,39.80 374.25,39.84 374.50,40.24 374.75,40.43 375.00,40.93 375.25,41.47 375.50,41.24 375.75,40.72 376.00,41.33 376.25,40.54 376.50,40.39 376.75,41.53 377.00,40.19 377.25,40.47 377.50,40.54 377.75,41.24 378.00,40.43 378.25,40.99 378.50,40.52 378.75,40.20 379.00,40.80 379.25,40.78 379.50,40.26 379.75,40.39 380.00,40.43 380.25,41.14 380.50,40.95 380.75,40.87 381.00,40.98 381.25,40.60 381.50,40.99 381.75,40.57 382.00,40.29 382.25,40.55 382.50,40.92 382.75,40.88 383.00,41.28 383.25,40.19 383.50,40.78 383.75,41.04 384.00,40.50 384.25,41.00 384.50,40.74 384.75,40.46 385.00,41.37 385.25,40.38 385.50,41.34 385.75,40.78 386.00,40.58 386.25,40.61 386.50,40.68 386.75,40.64 387.00,41.10 387.25,40.25 387.50,41.50 387.75,41.35 388.00,41.58 388.25,40.64 388.50,40.11 388.75,40.80 389.00,40.99 389.25,41.18 389.50,40.86 389.75,41.05 390.00,41.15 390.25,40.48 390.50,41.83 390.75,40.66 391.00,41.22 391.25,41.56 391.50,40.82 391.75,41.14 392.00,41.80 392.25,41.05 392.50,41.58 392.75,41.29 393.00,41.27 393.25,41.48 393.50,41.11 393.75,41.12 394.00,41.60 394.25,41.32 394.50,41.43 394.75,40.76 395.00,41.25 395.25,41.73 395.50,41.62 395.75,41.40 396.00,41.07 396.25,41.03 396.50,41.46 396.75,41.86 397.00,41.32 397.25,41.83 397.50,41.20 397.75,41.80 398.00,40.93 398.25,41.41 398.50,40.92 398.75,41.61 399.00,41.59 399.25,40.98 399.50,41.07 399.75,41.20 400.00,40.79 400.25,41.02 400.50,41.05 400.75,41.72 401.00,41.96 401.25,41.24 401.50,41.31 401.75,41.52 402.00,41.23 402.25,41.33 402.50,41.78 402.75,41.55 403.00,41.43 403.25,41.24 403.50,42.06 403.75,41.24 404.00,41.54 404.25,41.08 404.50,41.26 404.75,41.55 405.00,41.36 405.25,41.73 405.50,41.55 405.75,40.98 406.00,40.62 406.25,41.94 406.50,41.32 406.75,42.15 407.00,41.57 407.25,41.26 407.50,41.80 407.75,41.47 408.00,41.59 408.25,41.22 408.50,41.86 408.75,42.04 409.00,41.40 409.25,42.33 409.50,41.40 409.75,41.73 410.00,40.98 410.25,40.87 410.50,42.49 410.75,42.22 411.00,42.12 411.25,40.99 411.50,41.76 411.75,41.85 412.00,41.72 412.25,41.81 412.50,41.33 412.75,41.64 413.00,41.25 413.25,41.57 413.50,41.87 413.75,41.41 414.00,41.62 414.25,41.56 414.50,41.75 414.75,42.11 415.00,41.84 415.25,41.91 415.50,41.19 415.75,41.62 416.00,42.10 416.25,41.43 416.50,41.61 416.75,41.40 417.00,42.33 417.25,41.62 417.50,41.51 417.75,42.06 418.00,42.25 418.25,42.02 418.50,42.22 418.75,41.91 419.00,41.78 419.25,41.66 419.50,41.64 419.75,41.61 420.00,42.00 420.25,41.82 420.50,41.90 420.75,42.11 421.00,41.85 421.25,41.33 421.50,41.57 421.75,41.44 422.00,41.13 422.25,41.94 422.50,41.43 422.75,41.40 423.00,41.49 423.25,42.27 423.50,41.80 423.75,42.33 424.00,41.90 424.25,41.77 424.50,42.17 424.75,42.19 425.00,42.00 425.25,41.55 425.50,41.79 425.75,41.50 426.00,41.88 426.25,42.02 426.50,42.58 426.75,42.56 427.00,42.27 427.25,42.39 427.50,42.10 427.75,43.12 428.00,42.63 428.25,43.08 428.50,42.18 428.75,42.20 429.00,42.46 429.25,42.12 429.50,42.18 429.75,41.66 430.00,42.44 430.25,42.12 430.50,42.40 430.75,41.99 431.00,41.37 431.25,42.29 431.50,42.56 431.75,41.59 432.00,41.72 432.25,41.99 432.50,42.02 432.75,41.44 433.00,42.83 433.25,42.54 433.50,41.89 433.75,41.42 434.00,42.30 434.25,42.95 434.50,42.50 434.75,42.63 435.00,41.80 435.25,42.28 435.50,41.59 435.75,42.99 436.00,42.43 436.25,41.36 436.50,41.47 436.75,42.41 437.00,42.28 437.25,42.11 437.50,42.48 437.75,43.05 438.00,42.40 438.25,41.53 438.50,42.20 438.75,41.74 439.00,41.95 439.25,42.41 439.50,42.22 439.75,41.87 440.00,42.29 440.25,41.98 440.50,42.52 440.75,42.22 441.00,42.48 441.25,42.22 441.50,42.64 441.75,42.29 442.00,42.34 442.25,42.13 442.50,42.42 442.75,41.66 443.00,43.44 443.25,42.11 443.50,42.43 443.75,42.20 444.00,42.20 444.25,42.57 444.50,42.21 444.75,42.25 445.00,41.87 445.25,42.06 445.50,41.97 445.75,43.17 446.00,41.92 446.25,42.03 446.50,42.54 446.75,43.04 447.00,41.80 447.25,41.87 447.50,42.54 447.75,42.63 448.00,41.94 448.25,41.79 448.50,42.13 448.75,42.82 449.00,42.51 449.25,42.84 449.50,42.50 449.75,42.54 450.00,42.80 450.25,42.52 450.50,42.67 450.75,42.21 451.00,42.35 451.25,42.78 451.50,42.50 451.75,42.31 452.00,42.88 452.25,42.84 452.50,42.62 452.75,42.33 453.00,43.00 453.25,43.65 453.50,42.33 453.75,42.05 454.00,42.36 454.25,42.30 454.50,42.18 454.75,42.22 455.00,43.04 455.25,43.05 455.50,43.30 455.75,43.02 456.00,42.53 456.25,43.17 456.50,42.49 456.75,42.61 457.00,42.28 457.25,43.25 457.50,43.17 457.75,42.59 458.00,42.66 458.25,42.80 458.50,42.88 458.75,43.14 459.00,42.84 459.25,42.98 459.50,42.22 459.75,42.71 460.00,42.12 460.25,43.56 460.50,43.41 460.75,43.15 461.00,43.31 461.25,43.68 461.50,43.26 461.75,42.25 462.00,42.81 462.25,41.96 462.50,42.59 462.75,42.42 463.00,42.92 463.25,43.09 463.50,42.57 463.75,42.83 464.00,43.07 464.25,42.90 464.50,42.90 464.75,42.01 465.00,42.81 465.25,43.31 465.50,43.10 465.75,42.41 466.00,42.90 466.25,43.13 466.50,42.64 466.75,43.30 467.00,42.72 467.25,42.92 467.50,43.01 467.75,43.95 468.00,42.94 468.25,42.85 468.50,43.37 468.75,42.91 469.00,43.18 469.25,42.21 469.50,43.24 469.75,43.12 470.00,42.62 470.25,43.68 470.50,43.05 470.75,43.08 471.00,42.64 471.25,42.52 471.50,42.95 471.75,42.58 472.00,43.39 472.25,43.55 472.50,42.95 472.75,42.57 473.00,43.07 473.25,42.81 473.50,43.30 473.75,43.32 474.00,43.08 474.25,43.29 474.50,43.68 474.75,43.96 475.00,43.07 475.25,43.58 475.50,43.20 475.75,42.88 476.00,43.83 476.25,43.48 476.50,43.39 476.75,43.48 477.00,43.28 477.25,42.93 477.50,44.07 477.75,43.73 478.00,43.48 478.25,43.77 478.50,43.90 478.75,43.32 479.00,43.64 479.25,43.28 479.50,43.68 479.75,43.33 480.00,44.41 480.25,43.30 480.50,43.66 480.75,43.65 481.00,43.33 481.25,43.85 481.50,43.45 481.75,43.33 482.00,43.50 482.25,43.21 482.50,43.99 482.75,43.77 483.00,43.92 483.25,43.00 483.50,43.65 483.75,43.25 484.00,43.60 484.25,44.08 484.50,43.68 484.75,43.51 485.00,44.04 485.25,44.01 485.50,44.35 485.75,42.87 486.00,43.76 486.25,43.47 486.50,43.29 486.75,43.69 487.00,43.19 487.25,42.77 487.50,43.31 487.75,43.58 488.00,44.43 488.25,43.41 488.50,43.24 488.75,42.92 489.00,43.58 489.25,43.63 489.50,43.80 489.75,43.17 490.00,43.45 490.25,42.85 490.50,43.84 490.75,43.15 491.00,42.69 491.25,44.26 491.50,44.00 491.75,43.95 492.00,43.96 492.25,43.41 492.50,44.26 492.75,43.42 493.00,44.61 493.25,43.95 493.50,43.13 493.75,44.22 494.00,44.67 494.25,43.79 494.50,44.33 494.75,43.82 495.00,43.66 495.25,42.89 495.50,44.43 495.75,43.76 496.00,44.10 496.25,43.50 496.50,43.60 496.75,44.42 497.00,43.83 497.25,43.83 497.50,43.49 497.75,44.09 498.00,44.33 498.25,43.84 498.50,43.96 498.75,43.55 499.00,44.61 499.25,43.81 499.50,44.00 499.75,44.75 500.00,43.99 500.25,43.47 500.50,43.73 500.75,43.96 501.00,44.83 501.25,44.21 501.50,44.04 501.75,44.47 502.00,44.67 502.25,43.85 502.50,44.74 502.75,44.52 503.00,44.36 503.25,43.24 503.50,44.28 503.75,44.77 504.00,44.11 504.25,45.16 504.50,44.27 504.75,43.84 505.00,44.49 505.25,44.38 505.50,44.61 505.75,44.19 506.00,44.81 506.25,44.07 506.50,44.36 506.75,43.81 507.00,44.00 507.25,44.41 507.50,44.08 507.75,44.17 508.00,44.27 508.25,44.47 508.50,44.68 508.75,44.69 509.00,44.80 509.25,44.48 509.50,44.19 509.75,43.78 510.00,44.29 510.25,44.11 510.50,43.71 510.75,45.12 511.00,43.72 511.25,44.61 511.50,44.70 511.75,44.39 512.00,45.54 512.25,44.51 512.50,44.20 512.75,45.24 513.00,44.21 513.25,43.96 513.50,44.14 513.75,44.30 514.00,44.59 514.25,44.71 514.50,43.97 514.75,44.73 515.00,45.51 515.25,44.32 515.50,44.57 515.75,44.91 516.00,45.13 516.25,44.38 516.50,44.26 516.75,44.25 517.00,45.12 517.25,45.05 517.50,43.81 517.75,43.83 518.00,44.21 518.25,44.11 518.50,44.89 518.75,44.82 519.00,45.54 519.25,45.07 519.50,44.81 519.75,45.25 520.00,44.42 520.25,44.22 520.50,44.81 520.75,45.19 521.00,44.16 521.25,45.19 521.50,45.18 521.75,44.64 522.00,44.92 522.25,44.75 522.50,44.90 522.75,45.21 523.00,44.56 523.25,45.32 523.50,45.26 523.75,45.28 524.00,44.12 524.25,44.18 524.50,45.22 524.75,44.71 525.00,44.68 525.25,44.66 525.50,44.43 525.75,44.87 526.00,44.70 526.25,44.74 526.50,45.21 526.75,44.54 527.00,45.49 527.25,44.14 527.50,46.07 527.75,44.51 528.00,45.31 528.25,45.45 528.50,45.09 528.75,45.40 529.00,45.06 529.25,44.40 529.50,45.26 529.75,45.60 530.00,44.92 530.25,44.46 530.50,44.92 530.75,45.30 531.00,45.30 531.25,45.64 531.50,45.42 531.75,45.41 532.00,44.40 532.25,46.13 532.50,45.25 532.75,45.60 533.00,45.11 533.25,45.20 533.50,45.29 533.75,45.92 534.00,45.90" stroke="#e39b12"/>
</g>
<g stroke="#000" stroke-width="1.8" fill="none">
<rect x="35.8" y="11.3" width="498.60" height="367.80"/>
<line x1="35.70" y1="379.1" x2="35.70" y2="372.6"/>
<line x1="63.40" y1="379.1" x2="63.40" y2="375.6"/>
<line x1="91.10" y1="379.1" x2="91.10" y2="372.6"/>
<line x1="118.80" y1="379.1" x2="118.80" y2="375.6"/>
<line x1="146.50" y1="379.1" x2="146.50" y2="372.6"/>
<line x1="174.20" y1="379.1" x2="174.20" y2="375.6"/>
<line x1="201.90" y1="379.1" x2="201.90" y2="372.6"/>
<line x1="229.60" y1="379.1" x2="229.60" y2="375.6"/>
<line x1="257.30" y1="379.1" x2="257.30" y2="372.6"/>
<line x1="285.00" y1="379.1" x2="285.00" y2="375.6"/>
<line x1="312.70" y1="379.1" x2="312.70" y2="372.6"/>
<line x1="340.40" y1="379.1" x2="340.40" y2="375.6"/>
<line x1="368.10" y1="379.1" x2="368.10" y2="372.6"/>
<line x1="395.80" y1="379.1" x2="395.80" y2="375.6"/>
<line x1="423.50" y1="379.1" x2="423.50" y2="372.6"/>
<line x1="451.20" y1="379.1" x2="451.20" y2="375.6"/>
<line x1="478.90" y1="379.1" x2="478.90" y2="372.6"/>
<line x1="506.60" y1="379.1" x2="506.60" y2="375.6"/>
<line x1="534.30" y1="379.1" x2="534.30" y2="372.6"/>
</g>
<g font-family='"Liberation Sans", sans-serif' font-weight="bold" font-size="19.9" text-anchor="middle" fill="#000" stroke="#000" stroke-width="0.3">
<text x="35.70" y="402.6">5</text>
<text x="91.10" y="402.6">10</text>
<text x="146.50" y="402.6">15</text>
<text x="201.90" y="402.6">20</text>
<text x="257.30" y="402.6">25</text>
<text x="312.70" y="402.6">30</text>
<text x="368.10" y="402.6">35</text>
<text x="423.50" y="402.6">40</text>
<text x="478.90" y="402.6">45</text>
<text x="534.30" y="402.6">50</text>
</g>
<g font-family='"Liberation Serif", serif' font-weight="bold" fill="#000" stroke="#000" stroke-width="0.35">
<g font-size="20.6">
<text x="435.6" y="38.6">CE-300-15</text>
<text x="435.6" y="76.7">CE-300-0</text>
<text x="435.6" y="148.1">CE-250-15</text>
<text x="435.6" y="205.6">CE-250-0</text>
<text x="435.6" y="282.2">CE-200-15</text>
<text x="435.6" y="361.9">CE-200-0</text>
</g>
<g font-size="18.5">
<text x="213.6" y="47.6">020</text>
<text x="213.1" y="291.8">200</text>
<text x="134.3" y="341.4" letter-spacing="0.8">110</text>
<text x="352.0" y="352.6">004</text>
</g>
<text x="191.9" y="426.9" font-size="18.9">Diffraction angle <tspan x="334.4" dy="0.4">2θ (°)</tspan></text>
<text transform="translate(20.9,254.0) rotate(-90)" x="0" y="0" font-size="18.9">Intensity (a.u.)</text>
</g>
</svg>
</body></html>
